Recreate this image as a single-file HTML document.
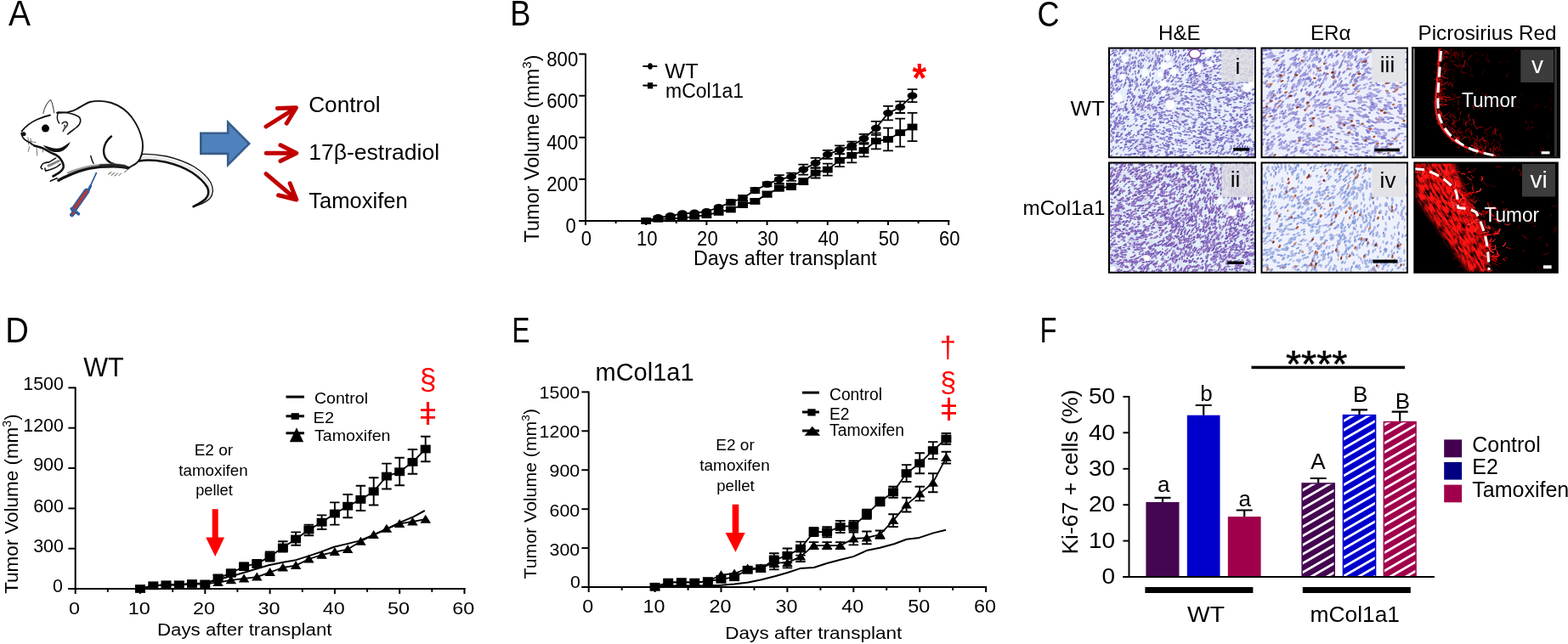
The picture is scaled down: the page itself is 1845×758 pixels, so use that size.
<!DOCTYPE html>
<html><head><meta charset="utf-8"><title>Figure</title>
<style>
html,body{margin:0;padding:0;background:#fff;}
body{width:1845px;height:758px;overflow:hidden;}
svg{display:block;}
text{font-family:'Liberation Sans', Arial, sans-serif;}
</style></head><body>
<svg width="1845" height="758" viewBox="0 0 1845 758">
<rect width="1845" height="758" fill="#fff"/>
<defs>
<filter id="fHE1" x="0" y="0" width="100%" height="100%" color-interpolation-filters="sRGB">
 <feTurbulence type="fractalNoise" baseFrequency="0.38 0.20" numOctaves="3" seed="4" result="n"/>
 <feColorMatrix in="n" type="matrix" values="0 0 0 0 0.52  0 0 0 0 0.44  0 0 0 0 0.80  0 0 -6 0 3.05" result="c"/>
 <feGaussianBlur in="c" stdDeviation="0.45"/>
</filter>
<filter id="fHE2" x="0" y="0" width="100%" height="100%" color-interpolation-filters="sRGB">
 <feTurbulence type="fractalNoise" baseFrequency="0.36 0.22" numOctaves="3" seed="11" result="n"/>
 <feColorMatrix in="n" type="matrix" values="0 0 0 0 0.47  0 0 0 0 0.36  0 0 0 0 0.76  0 0 -6 0 3.35" result="c"/>
 <feGaussianBlur in="c" stdDeviation="0.45"/>
</filter>
<filter id="fHEpink" x="0" y="0" width="100%" height="100%" color-interpolation-filters="sRGB">
 <feTurbulence type="fractalNoise" baseFrequency="0.05 0.05" numOctaves="2" seed="2" result="n"/>
 <feColorMatrix in="n" type="matrix" values="0 0 0 0 0.55  0 0 0 0 0.35  0 0 0 0 0.75  0 0 -3 0 1.5" result="c"/>
</filter>
<filter id="fER" x="0" y="0" width="100%" height="100%" color-interpolation-filters="sRGB">
 <feTurbulence type="fractalNoise" baseFrequency="0.40 0.24" numOctaves="3" seed="21" result="n"/>
 <feColorMatrix in="n" type="matrix" values="0 0 0 0 0.56  0 0 0 0 0.62  0 0 0 0 0.90  0 0 -6 0 2.85" result="c"/>
 <feGaussianBlur in="c" stdDeviation="0.45"/>
</filter>
<filter id="fER2" x="0" y="0" width="100%" height="100%" color-interpolation-filters="sRGB">
 <feTurbulence type="fractalNoise" baseFrequency="0.40 0.24" numOctaves="3" seed="33" result="n"/>
 <feColorMatrix in="n" type="matrix" values="0 0 0 0 0.58  0 0 0 0 0.64  0 0 0 0 0.91  0 0 -6 0 2.75" result="c"/>
 <feGaussianBlur in="c" stdDeviation="0.45"/>
</filter>
<filter id="fRedD" x="-2%" y="-2%" width="104%" height="104%" color-interpolation-filters="sRGB">
 <feGaussianBlur in="SourceAlpha" stdDeviation="2.5" result="b"/>
 <feTurbulence type="fractalNoise" baseFrequency="0.10 0.30" numOctaves="3" seed="5" result="n"/>
 <feColorMatrix in="n" type="matrix" values="0 0 0 0 1  0 0 0 0 0.08  0 0 0 0 0.08  2.6 0 0 0 -0.75" result="r"/>
 <feComposite in="r" in2="b" operator="in"/>
</filter>
<filter id="fRedS" x="-2%" y="-2%" width="104%" height="104%" color-interpolation-filters="sRGB">
 <feGaussianBlur in="SourceAlpha" stdDeviation="4" result="b"/>
 <feTurbulence type="fractalNoise" baseFrequency="0.12 0.35" numOctaves="3" seed="9" result="n"/>
 <feColorMatrix in="n" type="matrix" values="0 0 0 0 0.9  0 0 0 0 0  0 0 0 0 0  5 0 0 0 -2.85" result="r"/>
 <feComposite in="r" in2="b" operator="in"/>
</filter>
<filter id="fRedTex" x="0" y="0" width="100%" height="100%" color-interpolation-filters="sRGB">
 <feTurbulence type="fractalNoise" baseFrequency="0.11 0.42" numOctaves="4" seed="17" result="n"/>
 <feColorMatrix in="n" type="matrix" values="0 0 0 0 1  0 0 0 0 0.07  0 0 0 0 0.07  3.0 0 0 0 -0.72"/>
</filter>
<filter id="fBlur3" x="-10%" y="-10%" width="120%" height="120%"><feGaussianBlur stdDeviation="2.6"/></filter>
<mask id="mvi" maskUnits="userSpaceOnUse" x="1660" y="185" width="180" height="140">
 <path d="M1665,188 L1710,188 C1716,206 1724,228 1736,248 C1745,268 1750,295 1750,324 L1731,324 L1666,232 Z" fill="#fff" filter="url(#fBlur3)"/>
</mask>
<clipPath id="cpi"><rect x="1305.5" y="57.2" width="171" height="127.5"/></clipPath>
<clipPath id="cpii"><rect x="1305.5" y="192" width="171" height="128.2"/></clipPath>
<clipPath id="cpiii"><rect x="1485" y="57.2" width="170.5" height="127.5"/></clipPath>
<clipPath id="cpiv"><rect x="1485" y="192" width="170.5" height="128.2"/></clipPath>
<clipPath id="cpv"><rect x="1662.5" y="56.6" width="172" height="128.2"/></clipPath>
<clipPath id="cpvi"><rect x="1664.8" y="192" width="167.5" height="128.2"/></clipPath>

<pattern id="hatch" patternUnits="userSpaceOnUse" width="9.3" height="9.3" patternTransform="rotate(60)">
 <rect x="0" y="0" width="2.7" height="9.3" fill="#fff"/>
</pattern></defs>
<text x="10.0" y="30.2" font-size="42.8" textLength="26" lengthAdjust="spacingAndGlyphs" fill="#000">A</text>
<text x="600.2" y="30.2" font-size="42.8" textLength="24.2" lengthAdjust="spacingAndGlyphs" fill="#000">B</text>
<text x="1220.6" y="30.6" font-size="42.8" textLength="26" lengthAdjust="spacingAndGlyphs" fill="#000">C</text>
<text x="6.3" y="403.2" font-size="42.8" textLength="27.6" lengthAdjust="spacingAndGlyphs" fill="#000">D</text>
<text x="602.6" y="403.2" font-size="42.8" textLength="21" lengthAdjust="spacingAndGlyphs" fill="#000">E</text>
<text x="1223.6" y="403.2" font-size="42.8" textLength="20" lengthAdjust="spacingAndGlyphs" fill="#000">F</text>
<g fill="none" stroke="#111" stroke-linecap="round" stroke-linejoin="round">
<path d="M25.5,154.5 C30,149 37,143.5 44,140.5 C49,138.3 54,136.5 59,135.5" stroke-width="1.8"/>
<path d="M50.8,133.5 C52,128 55,121 59.5,117.3 C61.5,119 62.5,125 63.8,133" stroke-width="1.1" stroke="#444"/>
<path d="M68.5,132 C75,132 85,133 92,137 C96.5,140 95,146 90.5,149.5 C87,152.5 83,155 79.5,158" stroke-width="1.6"/>
<path d="M68.7,132 C66.8,136 67,141 69.6,145" stroke-width="1.4"/>
<path d="M73,145.5 C75,142.5 79.5,142.5 79.5,146.5 C78.5,150 75.5,150.5 74.2,154.5" stroke-width="1.6" stroke="#333"/>
<path d="M76,147.5 C77,149 76.5,151 75.5,152" stroke-width="2" stroke="#555"/>
<path d="M67,132.8 C72,133 80,132.5 86,130.3 C92,128 99,122.5 106,120 C113,118.3 122,118.5 131,121 C140,124 149,130 155,138 C161,146 165.5,156 167.6,166 C168.6,174 167.5,181 165,186.5 C162.5,191 159,193.5 156,194.8 C154,195.8 152,197 150.5,198.5" stroke-width="1.9"/>
<path d="M166.5,181.5 C175,181 186,182 196,184 C207,186.5 218,190.5 228,196 C237,201.5 244,208 248,215 C251.5,222 250.8,229 246.8,233.8 C242,238.5 235,241.2 227.5,243.2" stroke-width="1.3"/>
<path d="M164,189.5 C172,187.8 184,188.5 195,190.8 C206,193.3 217,197.5 226,203 C234,208.5 240.5,214.5 244,220.5 C246.5,226 245,231 241.5,234.5 C237.5,238.3 232,240.8 227.5,243.2" stroke-width="2.6"/>
<path d="M167,185.5 C176,184.5 186,185.3 195.5,187.4 C206.5,189.9 217.5,194 227,199.5 C235.5,205 242.2,211.2 246,217.8 C249,224 248,230 244.2,234.2" stroke-width="2.6" stroke="#aaa" opacity="0.25"/>
<path d="M131,160.5 C126,164.5 122.5,170.5 122,177 C121.8,183.5 125,188.5 130,191.5 C135,194 141,195.5 146.5,196" stroke-width="2.4"/>
<path d="M68.8,212.2 C72,210.5 76,208.5 80,206.8 C88,203 96,200 104,198.3 C114,196.3 124,195.8 134,195.8 C140,195.8 146,196.5 151,197.5" stroke-width="3.4"/>
<path d="M80,203.5 C92,198.5 104,195.3 118,194 C128,193.2 138,193.5 146,194.5" stroke-width="2.5" stroke="#777" opacity="0.7"/>
<path d="M118,195.2 C128,194.2 138,194.4 148,196" stroke-width="3.2" stroke="#222"/>
<path d="M59.3,213.2 C62,212 64.5,210.8 67.2,209.8" stroke-width="1.6"/>
<path d="M106.7,183.5 C107.5,186.5 108.2,189 110,192.4" stroke-width="1.4"/>
<path d="M40.3,171.5 C44,172.3 47,173.2 49.8,174.2 C53,175.8 56,177.5 58.5,179 C61,180.5 63.5,181.2 65.6,182.2 C68,183.8 70,185 71.1,186.9 C72.8,189.2 74,191 74.3,193.2 C74.8,195 74.8,197 74.3,198 C73.5,199.8 72.5,201 71.1,201.9 C69.5,203.3 68,204.2 66.4,205.1 C65,206 63.7,206.8 62.4,207.5" stroke-width="2.6"/>
<path d="M48.2,196.4 C49,194.2 50,193 51,192.4 C53.5,191.2 56,191 57.7,190.9 C60.5,189.5 63,187.8 65.6,186.1" stroke-width="1.6"/>
<path d="M48.2,196.4 C48.3,198 49,199 50,198.8" stroke-width="1.5"/>
<path d="M52.9,198 C53,199.5 53.2,200.5 53.7,201.1 C56.5,200.5 59,199.8 61.6,198.8 C64,197.8 66,196.8 68,195.6 C69.2,194.8 70.2,194 71.1,193.2" stroke-width="1.6"/>
<path d="M57,195 C61,193.5 65,191.5 69,189.5" stroke-width="3" stroke="#666" opacity="0.8"/>
<path d="M127.5,205 L131,202.5 M131,206.5 L134.5,203.5 M135,207 L138.5,204 M140,206.5 L142.5,204" stroke-width="0.9" stroke="#333"/>
<path d="M146.5,203 C148,201.5 149.5,200 150.5,198.5" stroke-width="1" stroke="#444"/>
<path d="M34.7,172.5 L33.2,178.5 M43,173 L43.8,183 M50.2,175.4 L50.6,179 M30,165.5 L42,167.5 M33,162 L33.5,170 M36,163 L37,171" stroke-width="0.9" stroke="#666"/>
<path d="M25.2,156.8 C25.6,160 27,162.5 29,164.2 C31,166 33.5,167.3 36,168.5 C37.5,169.5 39,170.5 40.3,171.5" stroke-width="1.6"/>
</g>
<path d="M50.6,171.1 C56,172.2 61,174.5 65.6,174.8 C70,175 74,173.5 77,171 C79.5,169.2 81.5,168 83,166.7 C81.5,170.5 78.5,174.5 74.3,177.2 C70,179.5 65,179.5 60.8,178.2 C57,177 53.5,174 50.6,171.1 Z" fill="#111"/>
<circle cx="53.5" cy="151.1" r="4.5" fill="#000"/>
<ellipse cx="27.6" cy="157.8" rx="2.9" ry="2.5" fill="#111"/>
<g stroke-linecap="round" stroke-linejoin="round">
<line x1="113.3" y1="203.6" x2="105.8" y2="220" stroke="#2f5f9f" stroke-width="1.8"/>
<path d="M106.6,218.8 L103.8,224.6" stroke="#2f5f9f" stroke-width="3.2"/>
<path d="M101.8,225.3 L86.9,246.6" stroke="#2f5f9f" stroke-width="7"/>
<path d="M101.8,225.3 L86.9,246.6" stroke="#b03a3a" stroke-width="3.6"/>
<path d="M84.2,245.6 L92.4,251.8" stroke="#2f5f9f" stroke-width="3.6"/>
<path d="M87.6,249.2 L84.6,252.8" stroke="#2f5f9f" stroke-width="5"/>
<path d="M87.4,249.4 L85,252.3" stroke="#b03a3a" stroke-width="2"/>
</g>
<polygon points="236.3,156.7 268.2,156.7 268.2,143.8 293.2,169.1 268.2,194.1 268.2,180.9 236.3,180.9" fill="#4f81bd" stroke="#385d8a" stroke-width="2.6" stroke-linejoin="miter"/>
<g fill="none" stroke="#c00000" stroke-width="5" stroke-linecap="round" stroke-linejoin="round">
<path d="M313,149 L348,127.2 M326.5,127.6 L348.5,126.8 L337.2,145.2"/>
<path d="M313.3,180.2 L348.4,180.2 M330,170.8 L348.8,180.2 L330,189.6"/>
<path d="M313,204.6 L348.2,234.4 M341.2,215.8 L348.8,235 L327.6,229.8"/>
</g>
<text x="363.2" y="132.2" font-size="25.8" textLength="84.5" lengthAdjust="spacingAndGlyphs" fill="#000">Control</text>
<text x="363.2" y="187.7" font-size="25.8" textLength="154.0" lengthAdjust="spacingAndGlyphs" fill="#000">17β-estradiol</text>
<text x="363.2" y="244.6" font-size="25.8" textLength="116.5" lengthAdjust="spacingAndGlyphs" fill="#000">Tamoxifen</text>
<line x1="689.0" y1="63.0" x2="689.0" y2="261.0" stroke="#000" stroke-width="2.0"/>
<line x1="681.3" y1="260.0" x2="1117.2" y2="260.0" stroke="#000" stroke-width="2.0"/>
<line x1="681.3" y1="260.0" x2="689.0" y2="260.0" stroke="#000" stroke-width="2.0"/>
<text x="677.7" y="274.4" font-size="23" text-anchor="end" textLength="12.3" lengthAdjust="spacingAndGlyphs" fill="#000">0</text>
<line x1="681.3" y1="210.9" x2="689.0" y2="210.9" stroke="#000" stroke-width="2.0"/>
<text x="680.2" y="225.3" font-size="23" text-anchor="end" textLength="36.900000000000006" lengthAdjust="spacingAndGlyphs" fill="#000">200</text>
<line x1="681.3" y1="161.8" x2="689.0" y2="161.8" stroke="#000" stroke-width="2.0"/>
<text x="680.2" y="176.2" font-size="23" text-anchor="end" textLength="36.900000000000006" lengthAdjust="spacingAndGlyphs" fill="#000">400</text>
<line x1="681.3" y1="112.7" x2="689.0" y2="112.7" stroke="#000" stroke-width="2.0"/>
<text x="680.2" y="127.1" font-size="23" text-anchor="end" textLength="36.900000000000006" lengthAdjust="spacingAndGlyphs" fill="#000">600</text>
<line x1="681.3" y1="63.6" x2="689.0" y2="63.6" stroke="#000" stroke-width="2.0"/>
<text x="680.2" y="78.0" font-size="23" text-anchor="end" textLength="36.900000000000006" lengthAdjust="spacingAndGlyphs" fill="#000">800</text>
<line x1="689.0" y1="259.0" x2="689.0" y2="265.0" stroke="#000" stroke-width="2.0"/>
<line x1="724.6" y1="259.0" x2="724.6" y2="263.0" stroke="#000" stroke-width="2.0"/>
<line x1="760.2" y1="259.0" x2="760.2" y2="265.0" stroke="#000" stroke-width="2.0"/>
<line x1="795.8" y1="259.0" x2="795.8" y2="263.0" stroke="#000" stroke-width="2.0"/>
<line x1="831.4" y1="259.0" x2="831.4" y2="265.0" stroke="#000" stroke-width="2.0"/>
<line x1="867.0" y1="259.0" x2="867.0" y2="263.0" stroke="#000" stroke-width="2.0"/>
<line x1="902.6" y1="259.0" x2="902.6" y2="265.0" stroke="#000" stroke-width="2.0"/>
<line x1="938.2" y1="259.0" x2="938.2" y2="263.0" stroke="#000" stroke-width="2.0"/>
<line x1="973.8" y1="259.0" x2="973.8" y2="265.0" stroke="#000" stroke-width="2.0"/>
<line x1="1009.4" y1="259.0" x2="1009.4" y2="263.0" stroke="#000" stroke-width="2.0"/>
<line x1="1045.0" y1="259.0" x2="1045.0" y2="265.0" stroke="#000" stroke-width="2.0"/>
<line x1="1080.6" y1="259.0" x2="1080.6" y2="263.0" stroke="#000" stroke-width="2.0"/>
<line x1="1116.2" y1="259.0" x2="1116.2" y2="265.0" stroke="#000" stroke-width="2.0"/>
<text x="690.0" y="289.2" font-size="23" text-anchor="middle" textLength="12.3" lengthAdjust="spacingAndGlyphs" fill="#000">0</text>
<text x="761.2" y="289.2" font-size="23" text-anchor="middle" textLength="24.6" lengthAdjust="spacingAndGlyphs" fill="#000">10</text>
<text x="832.4" y="289.2" font-size="23" text-anchor="middle" textLength="24.6" lengthAdjust="spacingAndGlyphs" fill="#000">20</text>
<text x="903.6" y="289.2" font-size="23" text-anchor="middle" textLength="24.6" lengthAdjust="spacingAndGlyphs" fill="#000">30</text>
<text x="974.8" y="289.2" font-size="23" text-anchor="middle" textLength="24.6" lengthAdjust="spacingAndGlyphs" fill="#000">40</text>
<text x="1046.0" y="289.2" font-size="23" text-anchor="middle" textLength="24.6" lengthAdjust="spacingAndGlyphs" fill="#000">50</text>
<text x="1117.2" y="289.2" font-size="23" text-anchor="middle" textLength="24.6" lengthAdjust="spacingAndGlyphs" fill="#000">60</text>
<text x="816.0" y="311.5" font-size="23" textLength="215.5" lengthAdjust="spacingAndGlyphs" fill="#000">Days after transplant</text>
<text transform="translate(633.8,285.5) rotate(-90)" font-size="23.4" textLength="221" lengthAdjust="spacingAndGlyphs">Tumor Volume (mm<tspan font-size="15" dy="-8.5">3</tspan><tspan dy="8.5">)</tspan></text>
<polyline points="760.2,260.0 774.4,257.8 788.7,257.3 802.9,256.6 817.2,254.8 831.4,253.1 845.6,249.9 859.9,246.5 874.1,241.1 888.4,236.9 902.6,228.6 916.8,221.5 931.1,219.5 945.3,213.6 959.6,203.5 973.8,199.6 988.0,188.8 1002.3,182.9 1016.5,177.0 1030.8,166.0 1045.0,164.0 1059.2,156.2 1073.5,149.5" fill="none" stroke="#000" stroke-width="1.8" stroke-linejoin="round"/>
<path d="M874.1,238.6 V243.6 M868.2,238.6 H880.0 M868.2,243.6 H880.0" stroke="#000" stroke-width="1.8" fill="none"/>
<path d="M888.4,234.4 V239.4 M882.5,234.4 H894.3 M882.5,239.4 H894.3" stroke="#000" stroke-width="1.8" fill="none"/>
<path d="M902.6,225.6 V231.6 M896.7,225.6 H908.5 M896.7,231.6 H908.5" stroke="#000" stroke-width="1.8" fill="none"/>
<path d="M916.8,218.5 V224.5 M910.9,218.5 H922.7 M910.9,224.5 H922.7" stroke="#000" stroke-width="1.8" fill="none"/>
<path d="M931.1,216.0 V223.0 M925.2,216.0 H937.0 M925.2,223.0 H937.0" stroke="#000" stroke-width="1.8" fill="none"/>
<path d="M945.3,210.1 V217.1 M939.4,210.1 H951.2 M939.4,217.1 H951.2" stroke="#000" stroke-width="1.8" fill="none"/>
<path d="M959.6,197.5 V209.5 M953.7,197.5 H965.5 M953.7,209.5 H965.5" stroke="#000" stroke-width="1.8" fill="none"/>
<path d="M973.8,192.6 V206.6 M967.9,192.6 H979.7 M967.9,206.6 H979.7" stroke="#000" stroke-width="1.8" fill="none"/>
<path d="M988.0,181.4 V196.2 M982.1,181.4 H993.9 M982.1,196.2 H993.9" stroke="#000" stroke-width="1.8" fill="none"/>
<path d="M1002.3,174.5 V191.3 M996.4,174.5 H1008.2 M996.4,191.3 H1008.2" stroke="#000" stroke-width="1.8" fill="none"/>
<path d="M1016.5,169.6 V184.4 M1010.6,169.6 H1022.4 M1010.6,184.4 H1022.4" stroke="#000" stroke-width="1.8" fill="none"/>
<path d="M1030.8,156.6 V175.4 M1024.9,156.6 H1036.7 M1024.9,175.4 H1036.7" stroke="#000" stroke-width="1.8" fill="none"/>
<path d="M1045.0,150.7 V177.3 M1039.1,150.7 H1050.9 M1039.1,177.3 H1050.9" stroke="#000" stroke-width="1.8" fill="none"/>
<path d="M1059.2,139.7 V172.7 M1053.3,139.7 H1065.1 M1053.3,172.7 H1065.1" stroke="#000" stroke-width="1.8" fill="none"/>
<path d="M1073.5,132.9 V166.1 M1067.6,132.9 H1079.4 M1067.6,166.1 H1079.4" stroke="#000" stroke-width="1.8" fill="none"/>
<rect x="754.3" y="256.1" width="11.8" height="7.8" fill="#000"/>
<rect x="768.5" y="253.9" width="11.8" height="7.8" fill="#000"/>
<rect x="782.8" y="253.4" width="11.8" height="7.8" fill="#000"/>
<rect x="797.0" y="252.7" width="11.8" height="7.8" fill="#000"/>
<rect x="811.3" y="250.9" width="11.8" height="7.8" fill="#000"/>
<rect x="825.5" y="249.2" width="11.8" height="7.8" fill="#000"/>
<rect x="839.7" y="246.0" width="11.8" height="7.8" fill="#000"/>
<rect x="854.0" y="242.6" width="11.8" height="7.8" fill="#000"/>
<rect x="868.2" y="237.2" width="11.8" height="7.8" fill="#000"/>
<rect x="882.5" y="233.0" width="11.8" height="7.8" fill="#000"/>
<rect x="896.7" y="224.7" width="11.8" height="7.8" fill="#000"/>
<rect x="910.9" y="217.6" width="11.8" height="7.8" fill="#000"/>
<rect x="925.2" y="215.6" width="11.8" height="7.8" fill="#000"/>
<rect x="939.4" y="209.7" width="11.8" height="7.8" fill="#000"/>
<rect x="953.7" y="199.6" width="11.8" height="7.8" fill="#000"/>
<rect x="967.9" y="195.7" width="11.8" height="7.8" fill="#000"/>
<rect x="982.1" y="184.9" width="11.8" height="7.8" fill="#000"/>
<rect x="996.4" y="179.0" width="11.8" height="7.8" fill="#000"/>
<rect x="1010.6" y="173.1" width="11.8" height="7.8" fill="#000"/>
<rect x="1024.9" y="162.1" width="11.8" height="7.8" fill="#000"/>
<rect x="1039.1" y="160.1" width="11.8" height="7.8" fill="#000"/>
<rect x="1053.3" y="152.3" width="11.8" height="7.8" fill="#000"/>
<rect x="1067.6" y="145.6" width="11.8" height="7.8" fill="#000"/>
<polyline points="760.2,260.0 774.4,256.1 788.7,254.1 802.9,251.4 817.2,250.7 831.4,249.0 845.6,244.0 859.9,238.2 874.1,233.0 888.4,224.2 902.6,216.8 916.8,211.1 931.1,208.2 945.3,199.6 959.6,191.8 973.8,181.9 988.0,176.3 1002.3,171.4 1016.5,163.0 1030.8,150.8 1045.0,133.1 1059.2,126.2 1073.5,112.7" fill="none" stroke="#000" stroke-width="1.8" stroke-linejoin="round"/>
<path d="M859.9,235.2 V241.2 M854.0,235.2 H865.8 M854.0,241.2 H865.8" stroke="#000" stroke-width="1.8" fill="none"/>
<path d="M874.1,230.0 V236.0 M868.2,230.0 H880.0 M868.2,236.0 H880.0" stroke="#000" stroke-width="1.8" fill="none"/>
<path d="M888.4,221.2 V227.2 M882.5,221.2 H894.3 M882.5,227.2 H894.3" stroke="#000" stroke-width="1.8" fill="none"/>
<path d="M902.6,214.3 V219.3 M896.7,214.3 H908.5 M896.7,219.3 H908.5" stroke="#000" stroke-width="1.8" fill="none"/>
<path d="M916.8,206.2 V216.0 M910.9,206.2 H922.7 M910.9,216.0 H922.7" stroke="#000" stroke-width="1.8" fill="none"/>
<path d="M931.1,203.6 V212.8 M925.2,203.6 H937.0 M925.2,212.8 H937.0" stroke="#000" stroke-width="1.8" fill="none"/>
<path d="M945.3,193.6 V205.6 M939.4,193.6 H951.2 M939.4,205.6 H951.2" stroke="#000" stroke-width="1.8" fill="none"/>
<path d="M959.6,185.9 V197.7 M953.7,185.9 H965.5 M953.7,197.7 H965.5" stroke="#000" stroke-width="1.8" fill="none"/>
<path d="M973.8,176.9 V186.9 M967.9,176.9 H979.7 M967.9,186.9 H979.7" stroke="#000" stroke-width="1.8" fill="none"/>
<path d="M988.0,171.4 V181.2 M982.1,171.4 H993.9 M982.1,181.2 H993.9" stroke="#000" stroke-width="1.8" fill="none"/>
<path d="M1002.3,166.6 V176.2 M996.4,166.6 H1008.2 M996.4,176.2 H1008.2" stroke="#000" stroke-width="1.8" fill="none"/>
<path d="M1016.5,157.8 V168.2 M1010.6,157.8 H1022.4 M1010.6,168.2 H1022.4" stroke="#000" stroke-width="1.8" fill="none"/>
<path d="M1030.8,142.8 V158.8 M1024.9,142.8 H1036.7 M1024.9,158.8 H1036.7" stroke="#000" stroke-width="1.8" fill="none"/>
<path d="M1045.0,124.9 V141.3 M1039.1,124.9 H1050.9 M1039.1,141.3 H1050.9" stroke="#000" stroke-width="1.8" fill="none"/>
<path d="M1059.2,119.4 V133.0 M1053.3,119.4 H1065.1 M1053.3,133.0 H1065.1" stroke="#000" stroke-width="1.8" fill="none"/>
<path d="M1073.5,105.2 V120.2 M1067.6,105.2 H1079.4 M1067.6,120.2 H1079.4" stroke="#000" stroke-width="1.8" fill="none"/>
<ellipse cx="760.2" cy="260.0" rx="5.9" ry="4.1" fill="#000"/>
<ellipse cx="774.4" cy="256.1" rx="5.9" ry="4.1" fill="#000"/>
<ellipse cx="788.7" cy="254.1" rx="5.9" ry="4.1" fill="#000"/>
<ellipse cx="802.9" cy="251.4" rx="5.9" ry="4.1" fill="#000"/>
<ellipse cx="817.2" cy="250.7" rx="5.9" ry="4.1" fill="#000"/>
<ellipse cx="831.4" cy="249.0" rx="5.9" ry="4.1" fill="#000"/>
<ellipse cx="845.6" cy="244.0" rx="5.9" ry="4.1" fill="#000"/>
<ellipse cx="859.9" cy="238.2" rx="5.9" ry="4.1" fill="#000"/>
<ellipse cx="874.1" cy="233.0" rx="5.9" ry="4.1" fill="#000"/>
<ellipse cx="888.4" cy="224.2" rx="5.9" ry="4.1" fill="#000"/>
<ellipse cx="902.6" cy="216.8" rx="5.9" ry="4.1" fill="#000"/>
<ellipse cx="916.8" cy="211.1" rx="5.9" ry="4.1" fill="#000"/>
<ellipse cx="931.1" cy="208.2" rx="5.9" ry="4.1" fill="#000"/>
<ellipse cx="945.3" cy="199.6" rx="5.9" ry="4.1" fill="#000"/>
<ellipse cx="959.6" cy="191.8" rx="5.9" ry="4.1" fill="#000"/>
<ellipse cx="973.8" cy="181.9" rx="5.9" ry="4.1" fill="#000"/>
<ellipse cx="988.0" cy="176.3" rx="5.9" ry="4.1" fill="#000"/>
<ellipse cx="1002.3" cy="171.4" rx="5.9" ry="4.1" fill="#000"/>
<ellipse cx="1016.5" cy="163.0" rx="5.9" ry="4.1" fill="#000"/>
<ellipse cx="1030.8" cy="150.8" rx="5.9" ry="4.1" fill="#000"/>
<ellipse cx="1045.0" cy="133.1" rx="5.9" ry="4.1" fill="#000"/>
<ellipse cx="1059.2" cy="126.2" rx="5.9" ry="4.1" fill="#000"/>
<ellipse cx="1073.5" cy="112.7" rx="5.9" ry="4.1" fill="#000"/>
<line x1="756.4" y1="78.0" x2="773.2" y2="78.0" stroke="#000" stroke-width="2"/>
<ellipse cx="765" cy="78" rx="2.9" ry="3.7" fill="#000"/>
<line x1="756.4" y1="100.6" x2="773.2" y2="100.6" stroke="#000" stroke-width="2"/>
<rect x="762.0" y="97.2" width="6.2" height="7.2" fill="#000"/>
<text x="782.2" y="92.3" font-size="23.5" textLength="39.5" lengthAdjust="spacingAndGlyphs" fill="#000">WT</text>
<text x="783.0" y="115.4" font-size="23.5" textLength="92.0" lengthAdjust="spacingAndGlyphs" fill="#000">mCol1a1</text>
<text x="1081.8" y="107.8" font-size="48" text-anchor="middle" textLength="16.6" lengthAdjust="spacingAndGlyphs" font-weight="bold" fill="#ff0000">*</text>
<text x="1363.0" y="47.2" font-size="24.5" textLength="49.5" lengthAdjust="spacingAndGlyphs" fill="#000">H&amp;E</text>
<text x="1542.0" y="47.2" font-size="24.5" textLength="47.5" lengthAdjust="spacingAndGlyphs" fill="#000">ERα</text>
<text x="1668.5" y="47.2" font-size="24.5" textLength="163" lengthAdjust="spacingAndGlyphs" fill="#000">Picrosirius Red</text>
<text x="1259.5" y="135.6" font-size="24" textLength="40.5" lengthAdjust="spacingAndGlyphs" fill="#000">WT</text>
<text x="1203.5" y="252.6" font-size="24" textLength="97" lengthAdjust="spacingAndGlyphs" fill="#000">mCol1a1</text>
<g clip-path="url(#cpi)">
<rect x="1305.5" y="57.2" width="171.0" height="127.5" fill="#e6f0fa"/>
<rect x="1305.5" y="57.2" width="171" height="127.5" fill="#fff" filter="url(#fHEpink)" opacity="0.15"/>
<g transform="translate(1305.5,57.2) scale(0.5)" fill="none" stroke-linecap="round" opacity="1.0">
<path d="M115,18l0,-2M165,205l3,1M60,3l2,-4M85,236l2,-1M144,208l2,1M292,45l2,0M288,195l3,-2M286,213l5,1M182,49l2,-1M128,155l3,0M17,182l2,-2M116,9l0,-2M54,225l4,-1M49,97l1,-3M317,150l2,-1M322,63l3,-1M254,176l2,0M285,172l3,-1M338,110l2,-1M80,106l2,-2M304,76l3,-1M325,5l1,0M187,228l3,-1M134,190l4,1M23,174l3,-3M145,242l4,2M291,4l1,-1M88,3l2,-4M10,72l2,-2M313,36l2,0M286,116l3,-1M128,96l1,-1M331,122l2,-2M307,234l1,-2M290,26l3,-1M189,66l3,-2M237,192l3,1M125,4l1,-2M138,78l2,-4M226,73l2,-1M44,198l3,-2" stroke="#6a5cbc" stroke-width="2.4"/>
<path d="M333,247l1,-1M193,223l3,0M53,110l2,-3M328,238l2,-2M330,107l2,-2M227,67l2,0M169,144l4,0M117,47l2,-2M9,132l1,-2M173,129l3,0M26,222l4,-1M211,6l3,-2M229,106l1,0M2,180l2,-2M103,94l3,-2M255,254l2,-2M133,193l2,0M262,242l2,-1M8,95l0,-2M78,178l3,-2M79,30l1,-3M190,51l3,-3M52,143l4,-3M224,215l4,0M234,146l4,0M169,172l1,0M275,99l3,-1M211,235l2,0M226,234l3,0M5,241l2,-2M98,230l3,0M337,182l4,0M228,165l2,1M317,62l4,-3M78,162l3,1M233,230l3,-1M26,78l2,-2M54,23l0,-2M172,250l2,-1M67,31l1,-1M190,12l2,-3M160,98l2,-1M95,180l1,-2M273,114l2,0M272,182l2,0M303,45l4,-2M90,93l2,-3M333,163l4,-2M304,56l3,-1M280,55l3,-2M312,108l4,-1M185,14l2,-4M247,138l4,0M99,191l2,1M272,97l4,-1M252,242l2,-2M113,133l3,-1" stroke="#6a5cbc" stroke-width="2.6"/>
<path d="M163,142l3,0M20,198l2,-1M169,214l4,1M43,72l3,-3M4,139l2,-3M104,138l3,-2M47,51l2,-3M302,217l2,-2M320,172l3,-2M79,105l2,-4M254,70l3,0M183,16l1,-1M234,103l4,0M104,178l2,-1M259,71l4,0M319,183l3,-2M17,199l1,-1M287,45l3,-1M324,35l4,-2M79,253l4,0M311,19l2,-1M85,85l2,-2M221,210l2,0M59,31l1,-2M62,69l0,-3M303,8l3,-1M25,6l1,-2M312,156l2,-2M271,72l4,-1M83,209l4,-1M41,232l1,-1M269,167l1,0M317,233l3,-3M259,214l2,0M116,130l3,0M265,210l4,-2M6,189l1,-1M153,255l3,-1M139,213l3,1M285,230l2,-1M330,50l3,-2M67,5l2,-4M138,110l3,-2M132,223l2,1M22,216l2,-2M245,228l4,-2M294,185l1,0M276,28l4,-1M240,164l4,1M8,208l1,-1" stroke="#6a5cbc" stroke-width="2.8"/>
<path d="M87,209l5,-1M256,125l3,0M332,1l5,-1M137,236l2,0M214,247l4,-1M312,232l2,-2M315,48l2,-1M189,2l2,-2M233,152l4,1M296,120l4,-1M278,247l2,-2M144,65l1,-2M220,79l3,-1M170,102l4,-1M73,182l4,-1M75,202l2,0M301,195l1,-1M176,203l5,0M234,132l4,2M120,116l4,-2M199,173l3,1M217,131l5,0M295,51l3,-1M51,217l3,-3M5,132l2,-2M51,36l2,-4M339,226l2,-3M327,22l1,-1M186,46l1,-1M82,177l2,0M62,181l4,-1M210,185l2,0M162,7l1,-3M74,16l0,-3M230,71l2,-1M-1,66l2,-4M14,234l2,-2M77,139l1,-1M193,113l4,-2M269,177l3,-1M7,153l2,-2M222,192l4,1M50,130l3,-2M68,196l4,-2M255,57l2,0M232,234l4,-2M50,230l4,-2M319,146l2,-1M303,35l3,-2M96,183l4,-1M323,180l3,-1M179,89l3,-2M200,8l1,-1M51,77l0,-2M282,244l2,-2M78,27l0,-1M142,8l1,-3M250,74l4,0M327,217l2,-2M276,80l2,0M183,29l1,-2M299,158l3,-1M175,89l1,-1M319,155l3,-1M208,130l1,1M326,247l1,-1M266,17l2,-1M65,216l2,-1M117,139l3,-1M262,28l2,-1M76,213l1,0M22,156l3,-2" stroke="#6a5cbc" stroke-width="3.0"/>
<path d="M15,87l1,-2M27,47l1,-4M120,158l4,-1M339,45l3,-3M82,243l2,0M32,177l3,-3M219,125l4,1M64,76l2,-4M51,193l1,0M318,67l3,-2M1,203l1,-2M196,87l4,-1M141,202l4,2M182,146l4,1M197,185l3,0M7,12l3,-3M256,42l2,-2M320,37l4,-1M297,191l2,-1M231,190l2,1M82,120l1,-1M303,230l3,-3M131,70l2,-2M209,192l2,1M167,139l3,0M62,91l1,-1M118,36l1,-4M244,43l4,-2M49,105l2,-2M324,70l1,-1M221,218l2,1M184,42l2,-3M105,155l5,-1M340,226l2,-3M27,203l2,-2M286,63l2,-1M200,167l3,1M18,207l3,-1M225,136l2,0M199,3l2,-2M247,48l1,-1M134,175l2,0M48,81l1,-2M303,91l2,-1M265,167l4,2M43,183l1,-1M143,243l4,1M202,196l1,0M229,174l5,0M104,215l3,0M78,203l3,-1M166,222l1,0M226,197l2,0M15,208l2,-3M317,6l4,-1M124,75l1,-2M10,39l2,-2M74,219l5,-1M78,246l4,-1" stroke="#6a5cbc" stroke-width="3.2"/>
<path d="M204,234l3,-1M145,78l3,-2M226,140l2,1M307,206l2,-2M221,29l3,-3M154,95l4,-2M207,26l2,-1M229,100l4,1M221,84l2,0M295,140l2,-1M206,78l2,-1M281,132l5,0M36,233l1,-1M10,133l3,-3M210,140l1,0M58,249l3,-2M139,232l1,0M300,238l2,-3M145,247l3,0M312,114l5,0M158,63l1,-2M48,221l2,-1M338,249l1,-1M275,118l4,0M209,218l4,-1M87,209l2,0M0,70l3,-3M313,60l2,-1M165,238l4,0M226,188l2,1M210,230l2,0M232,108l4,-1M299,234l2,-2M211,28l3,-1M12,174l1,-2M174,17l3,-2M166,200l3,1M266,88l3,-1M287,220l3,-2M262,216l3,-2M178,119l3,-1M129,60l2,-3M210,201l4,-1M113,24l1,-2M4,104l2,-3M220,35l3,-2M324,240l2,-2M216,5l2,-3M142,209l2,1M95,194l3,0M243,90l2,0M257,158l2,0M100,232l3,-1M259,192l4,0M73,191l3,-1M306,175l3,-2M247,144l4,1M150,11l1,-4M188,104l3,0M229,0l2,0M248,163l3,-1M114,229l1,0M35,85l2,-2M15,164l3,-2M76,44l0,-2M162,199l4,0M94,43l3,-4" stroke="#6a5cbc" stroke-width="3.4"/>
<path d="M222,97l4,-1M95,191l3,0M299,249l2,-2M93,46l0,-2M275,33l2,-1M66,241l1,0M298,19l2,-1M16,57l1,-3M213,30l4,-1M38,204l4,-2M290,78l1,0M235,248l3,-1M307,126l4,0M309,225l1,-1M267,200l2,-1M136,228l1,0M307,161l3,-1M74,37l1,-2M324,232l1,-1M199,59l4,-3M84,176l2,-1M207,19l2,-2M249,143l2,0M280,121l4,0M123,123l3,-1M98,240l2,0M331,55l4,-1M274,9l2,-1M292,121l2,-1M59,234l2,-1M38,132l2,-2M33,166l2,-4M17,39l1,-1M328,143l3,0M265,239l3,-3M198,206l3,0M61,221l3,-3M40,59l0,-1M197,219l3,0M155,8l1,-2M320,156l4,-2M309,61l3,-2M159,255l5,0M231,216l2,0M253,117l2,0M88,221l3,0M217,131l2,1M46,75l1,-2M253,185l2,0M301,239l2,-1M308,177l2,0M161,217l5,0M125,174l2,0M169,219l2,0M87,81l2,-3M267,115l3,0M39,47l1,-4" stroke="#6a5cbc" stroke-width="3.6"/>
<path d="M322,110l2,-1M191,27l3,-3M270,35l4,1M84,122l1,-1M321,174l3,-1M323,77l2,-1M153,170l1,0M260,105l4,-1M303,43l4,-1M258,150l1,0M203,37l3,-3M252,210l4,-2M208,98l5,0M279,44l3,0M149,5l1,-4M214,196l3,0M138,228l3,-1M233,163l5,-1M278,109l2,0M248,64l3,0M309,62l2,0M254,214l2,-1M93,160l1,0M291,243l3,-3M273,6l4,-1M103,168l4,0M227,62l3,-1M308,117l2,0M111,106l4,-2M141,48l4,-2" stroke="#6a5cbc" stroke-width="3.8"/>
<path d="M45,241l3,-1M131,242l4,0M74,185l2,-1M274,205l4,-1M102,182l4,0M59,160l3,-2M80,205l1,-1M257,189l4,-1M74,252l3,-2M329,235l2,-3M310,163l3,-2M335,49l3,-1M82,10l0,-1M203,233l3,0M186,57l2,-2M61,43l1,-4M18,40l1,-1M18,177l3,-3M215,53l4,-1M180,119l2,0M297,97l3,0M264,210l4,-2M236,55l5,-1M190,70l2,-1M309,18l3,-1M156,158l1,0M339,62l4,-1M333,243l2,-4M23,147l1,-1M280,60l4,0M336,12l4,0M175,148l2,0M60,235l3,0M305,199l2,-1M205,93l4,-3M290,187l2,-1M184,3l2,-3M328,20l4,-2M169,19l0,-4" stroke="#7466c4" stroke-width="2.4"/>
<path d="M101,60l1,-1M184,76l3,-2M101,26l1,-3M44,62l1,-2M230,79l2,-1M54,79l1,-3M268,51l3,-2M133,207l4,0M179,103l4,0M172,174l1,1M75,27l1,-2M97,119l2,-2M153,124l4,0M238,75l1,0M113,182l3,-1M267,250l2,-1M11,186l3,-1M207,124l4,-1M139,195l3,1M115,133l2,0M96,65l0,-3M299,106l2,0M229,55l4,-1M273,84l4,-1M333,120l4,-2M90,156l2,-1M192,70l3,-1M25,31l2,-4M143,16l1,-2M10,107l1,-2M12,178l1,-1M309,225l2,-3M327,106l3,0M129,127l2,-2M6,6l3,-3M7,211l2,-1M271,221l3,-3M279,212l2,-1M159,198l1,1M98,235l2,0M217,193l1,0M184,116l3,1M268,126l2,0M99,243l1,0M154,15l3,-4M143,243l4,0M247,1l2,-1M222,42l1,0M42,181l2,0M316,105l4,-2M210,133l3,0M193,120l1,0M210,132l2,0M233,176l3,1" stroke="#7466c4" stroke-width="2.6"/>
<path d="M81,112l2,-2M119,234l4,-1M92,89l3,-2M244,33l2,-1M170,252l3,0M281,62l3,-1M295,187l3,-1M127,227l4,0M177,112l2,-1M306,5l4,0M225,155l2,0M89,117l4,-2M106,37l2,-2M305,3l3,-2M18,79l3,-3M79,249l3,-1M341,52l1,-1M123,4l4,-2M313,229l1,-2M171,25l1,-3M270,189l2,-1M264,228l4,0M104,213l2,-1M209,163l3,-1M3,207l2,-3M264,57l4,0M57,148l3,-3M297,137l4,0M153,108l2,-1M21,171l3,-3M326,107l2,-1M247,164l2,0M108,139l3,-1M134,58l3,-3M236,22l3,-2M284,103l3,-1M222,180l2,0M317,219l2,-2M214,128l2,0M180,112l1,0M319,79l1,0M78,160l1,-1M195,26l1,-1M73,160l1,-1M326,245l3,-3M332,63l2,-1M303,111l2,-1M167,241l2,0M249,17l1,-1M138,172l3,0M69,99l1,-3M23,37l1,-3" stroke="#7466c4" stroke-width="2.8"/>
<path d="M267,61l4,-1M230,65l3,-1M322,256l1,-3M260,9l5,0M10,147l3,-2M324,136l3,-1M224,41l1,-1M265,59l2,0M225,223l1,1M177,243l3,0M92,182l2,-1M328,17l4,0M57,247l4,0M239,98l4,-1M92,112l1,-1M55,209l1,-1M17,40l0,-4M308,156l5,-1M44,236l2,-2M269,174l1,0M91,234l4,-1M193,133l2,0M304,184l3,-2M252,21l4,-2M198,54l4,-2M267,161l4,-2M205,57l1,-1M328,65l4,-2M228,245l2,0M88,83l1,-2M188,63l4,-2M39,48l1,-4M66,158l4,-3M288,64l2,-1M142,246l5,-1M274,48l4,-1M285,101l4,-1M42,217l3,-1M159,44l1,-3M8,147l4,-3M331,21l3,-2M193,250l4,-1M63,231l3,-2M140,194l4,-1M253,10l3,-1M96,194l4,-3M281,84l4,0M179,236l2,0M109,230l4,-2M309,69l1,0M16,49l1,-1M199,51l1,-1M54,76l1,-3M213,30l3,-2M117,126l3,-1M191,63l4,-2M161,70l3,-1M88,124l4,-1M131,57l1,-4M15,169l3,-3M306,232l1,-1M165,179l3,1M159,141l1,1M334,172l3,0M134,248l3,0M277,134l2,1M323,50l1,-1M311,80l3,-1M36,5l2,-1M48,210l4,-2" stroke="#7466c4" stroke-width="3.0"/>
<path d="M205,31l3,-1M41,162l2,-2M196,183l4,1M251,47l4,-1M90,141l4,-2M302,36l2,0M76,113l2,-2M245,72l5,-1M71,237l3,-1M130,96l3,-4M17,53l3,-4M37,140l2,-3M168,107l1,-1M15,97l3,-4M217,174l1,0M223,50l2,-1M158,140l3,0M236,191l4,-1M178,50l2,-1M239,100l1,0M119,175l4,-1M73,67l1,-4M73,161l4,-1M226,243l2,-1M235,27l3,-3M100,106l2,-1M110,193l2,0M227,186l3,-1M130,56l2,-2M169,122l4,0M251,27l2,-1M324,162l1,0M174,236l2,0M270,224l2,-2M73,116l1,-1M19,75l2,-3M95,204l4,0M10,66l1,-1M12,14l1,-2M98,190l2,0M129,97l3,-3M216,237l4,-2M1,32l1,-2M139,93l1,-1M38,144l2,-3M148,75l2,-2M13,179l2,-2M111,101l2,-3M126,116l3,-2M269,248l2,-3M134,92l2,-2M47,90l3,-3M305,30l2,0M267,87l4,-1M284,39l4,-2M263,230l3,-1M102,142l2,-1M1,16l3,-2M135,228l4,0M249,246l4,-2M7,197l1,-1M19,218l2,-2M278,97l4,-1M2,183l2,-2M35,191l3,-2" stroke="#7466c4" stroke-width="3.2"/>
<path d="M2,119l1,-1M172,244l4,1M25,3l1,-1M126,5l1,-2M226,212l1,0M95,218l2,-1M95,164l4,-1M216,162l3,0M217,226l4,0M88,189l4,1M160,103l3,-2M260,39l3,-1M120,210l4,3M50,45l0,-1M257,229l4,-1M134,146l4,1M70,226l4,-1M11,17l2,-2M148,181l3,1M49,249l4,-1M119,172l2,0M134,119l3,-2M208,233l3,0M276,197l3,-2M136,119l4,-2M214,139l4,0M43,202l3,-2M75,145l1,-1M327,56l4,-3M258,8l2,-1M246,19l2,-1M214,247l3,-1M23,79l0,-3M55,123l2,-3M68,57l1,-5M42,43l1,-3M309,47l1,0M235,82l4,-1M206,27l4,-2M75,220l1,0M19,25l1,-1M198,39l1,-2M177,178l1,0M57,151l3,-2M28,201l2,-1M179,43l3,-2M0,238l2,-1M339,231l1,-2M123,150l4,-1M25,235l4,-2M48,88l2,-4M76,135l1,-1M236,226l1,0M120,18l1,-3M179,51l4,-2M338,129l4,-2M235,197l4,-1M256,156l3,2M4,156l2,-3M305,35l1,-1M182,80l3,0" stroke="#7466c4" stroke-width="3.4"/>
<path d="M55,114l3,-3M124,201l4,1M187,186l3,1M38,227l2,-2M172,38l1,-2M200,60l2,-1M203,224l3,-1M292,139l3,-1M231,216l3,0M41,69l1,-2M216,179l2,0M216,210l1,0M208,1l1,-1M177,170l4,1M103,189l5,1M36,227l1,-1M68,43l0,-4M173,173l3,0M70,133l1,-2M324,237l2,-2M155,216l4,-1M178,142l4,2M5,81l1,-2M96,234l4,-1M234,224l2,0M308,241l1,-1M234,228l3,0M315,204l4,-2M43,115l2,-3M186,12l3,-3M22,97l3,-4M9,200l2,-2M335,59l3,-3M7,190l4,-1M294,170l3,-2M166,72l3,-2M259,94l3,0M81,231l4,-1M288,162l3,0M260,211l3,-2M237,238l1,-1M300,192l3,0M293,196l2,-1M277,131l1,0M39,146l3,-3M95,242l3,-2M148,235l3,0M39,161l2,-1M42,107l1,-2M203,94l2,-1M131,121l3,-1M123,99l2,-2M36,214l4,-2M128,96l3,-2M278,117l1,0M253,118l4,1M217,185l3,-1M337,220l1,-1" stroke="#7466c4" stroke-width="3.6"/>
<path d="M214,208l5,0M0,186l2,-3M210,153l3,1M9,66l2,-3M227,64l3,0M291,148l2,0M109,37l1,-3M121,141l2,0M250,200l4,0M279,78l2,0M45,220l4,-1M202,65l4,-1M145,164l2,0M117,28l1,-5M59,34l0,-2M189,104l4,-1M44,100l1,-2M73,86l1,-3M281,18l3,-2M313,209l2,-2M99,85l1,-2M289,4l1,0M70,116l2,-4M219,12l4,-1M295,184l3,-2M119,117l1,-1M340,6l3,-2" stroke="#7466c4" stroke-width="3.8"/>
<path d="M292,12l1,0M285,122l3,-1M226,177l3,-1M76,217l3,-1M150,186l2,0M274,255l1,-1M112,50l1,-2M46,16l2,-2M307,95l1,0M26,252l2,-2M192,211l3,-1M186,212l4,0M95,61l1,-4M82,226l2,-1M310,72l5,0M247,214l3,-1M111,20l0,-3M271,156l4,0M242,115l3,1M67,137l2,-2M167,141l3,0M10,237l1,-1M269,130l2,0M81,126l3,-3M66,242l4,0M311,32l3,-1M70,128l3,-2M85,2l0,-2" stroke="#8478cc" stroke-width="2.4"/>
<path d="M69,29l2,-2M126,213l4,1M205,123l5,0M113,251l4,-3M138,13l1,-1M130,91l1,-1M32,168l2,-3M29,58l0,-3M6,119l2,-3M8,33l1,-4M157,68l2,-2M216,98l3,0M1,203l1,-3M319,230l1,-1M109,244l4,-1M181,125l3,1M262,81l4,-1M242,172l4,1M282,79l4,-1M127,168l4,-1M163,154l1,0M160,64l2,-1M191,58l2,-1M103,96l3,-2M8,70l1,-2M72,47l2,-4M195,97l3,-1M319,74l4,-2M38,250l2,-1M36,7l2,-1M111,198l4,1M0,161l3,-3M226,3l2,-2M45,87l2,-2M117,191l3,1M86,69l2,-2M47,116l2,-3M137,174l1,1M116,197l2,0M323,63l3,-1M137,98l4,-3M308,179l3,-1M45,152l3,-4M212,198l1,0M37,57l1,-2M226,115l5,0M281,221l3,-2M96,174l2,-1M323,81l3,-1M72,125l2,-4M12,183l3,-2M32,59l2,-2M119,226l2,1M38,50l1,-3M218,77l2,-2M83,139l4,-1M227,202l4,1M103,184l2,-1M219,198l3,1M326,242l4,-3M173,132l4,0M29,178l3,-2M322,146l4,-1M222,120l4,-2M83,138l4,-2M99,213l3,-1M127,197l3,0M90,254l3,-1M70,18l0,-2" stroke="#8478cc" stroke-width="2.6"/>
<path d="M49,182l3,-1M77,226l4,0M59,166l4,-2M266,16l4,-1M327,252l2,-3M330,57l2,-1M321,168l4,-2M300,97l3,-1M304,113l4,-1M144,162l5,0M311,49l2,-1M274,218l3,-2M62,157l3,-3M222,2l3,-2M36,250l1,-1M199,95l1,0M300,83l1,-1M259,221l1,0M162,236l4,2M252,95l3,0M300,16l3,-1M267,96l2,0M314,165l3,0M108,220l4,0M126,234l2,0M103,43l2,-3M204,59l1,-1M308,139l4,-1M71,7l0,-1M316,135l4,-1M198,80l4,-1M0,155l2,-3M112,150l2,0M117,151l2,0M291,144l1,0M123,17l1,-1M281,66l2,0M203,222l2,-1M221,59l2,-1M123,30l1,-3M96,213l1,0M159,97l1,-1M110,15l-1,-4M229,100l4,0M17,100l1,-2M234,124l4,0M236,54l2,0M163,189l2,0M134,77l1,-2M284,5l2,-1M186,4l3,-3M332,250l3,-4M306,81l3,-4M276,148l4,0M48,101l1,-1M332,41l4,-1M330,59l2,-1M78,144l2,0M168,88l2,-1M314,73l4,1M320,187l4,-2M1,173l2,-2M328,103l2,0M108,3l2,-3M221,164l3,1M165,53l1,-2M274,103l4,-1M116,156l2,0M217,30l4,-2M144,12l1,-1M326,119l1,-1M86,28l0,-1M127,150l4,-1M157,32l2,-4M47,40l0,-2" stroke="#8478cc" stroke-width="2.8"/>
<path d="M118,155l3,-1M294,196l3,-2M302,28l1,0M32,184l4,-2M338,176l2,-1M219,27l4,-2M310,32l4,-1M99,87l1,-4M15,70l2,-3M292,46l3,-1M176,192l2,1M287,82l2,-1M67,132l2,-2M311,112l2,-1M223,168l5,1M206,241l2,0M155,33l1,-4M63,74l1,-4M269,80l5,-1M94,107l2,-2M218,124l4,1M338,253l4,-3M199,94l3,0M234,113l2,0M15,65l2,-3M291,165l2,-1M321,247l2,-4M189,104l4,0M291,203l1,0M82,101l3,-2M241,31l3,-2M77,100l1,-2M325,172l1,-1M84,191l1,-1M268,93l4,-1M305,93l4,-2M139,189l5,0M248,177l5,-1M317,186l3,-2M167,111l4,-1M204,131l4,0M330,143l2,-1M337,36l3,-1M159,153l4,0M264,237l3,-2M149,68l1,-2M249,161l3,1M99,30l1,-4M278,193l3,-1M309,222l1,-1M61,154l5,-1M172,195l4,1M138,170l4,0M124,152l1,-1M115,32l0,-4M129,255l1,0M291,29l3,-3M176,4l2,-4M169,221l2,-1" stroke="#8478cc" stroke-width="3.0"/>
<path d="M314,15l2,-1M68,246l4,-2M202,96l4,-1M258,183l4,0M14,17l2,-2M117,161l3,-1M171,84l2,-1M264,30l1,-1M250,177l1,1M293,126l3,1M286,69l4,0M99,191l5,0M94,198l3,-1M172,171l2,0M37,81l1,-3M88,86l1,-2M116,9l0,-2M246,46l1,0M288,199l2,-1M197,175l4,2M310,114l4,-1M315,224l2,-2M80,230l4,-1M100,82l2,-4M55,225l1,-1M209,221l2,-1M254,234l2,-2M23,48l2,-4M310,21l2,-1M317,129l2,-1M178,159l3,0M207,138l4,-1M336,189l2,-3M175,146l2,0M224,200l2,0M74,166l4,0M327,38l2,-1M335,239l1,-1M211,25l1,-1M196,113l4,-1M102,142l2,-1M234,242l2,0M317,55l3,-2M317,141l4,-2M272,91l2,0M252,25l4,-2M223,90l3,0M207,113l4,1M307,252l2,-2M56,40l2,-2M229,67l5,0M160,130l5,-1M78,72l1,-1M63,13l1,-3M259,80l1,-1M210,243l3,-1M237,183l3,0M147,94l2,-1M317,235l2,-1M178,13l2,-2M66,196l3,-2M284,158l3,0M117,103l3,-2M125,20l1,-2M1,86l1,-1M24,144l3,-3M198,208l3,0M206,223l4,-1M334,252l1,-2M266,80l4,-1M317,49l2,-2M135,239l1,0M202,230l2,-1M143,194l3,0M116,239l4,1M147,163l1,0M48,184l2,-2M327,63l3,-1" stroke="#8478cc" stroke-width="3.2"/>
<path d="M197,50l3,0M121,165l3,-2M45,251l4,0M233,157l4,0M285,12l3,-1M218,177l3,2M303,47l3,-1M107,32l2,-4M200,82l3,1M162,255l2,0M11,187l2,-1M219,210l3,0M262,14l1,0M178,224l2,0M116,165l3,0M144,170l2,1M321,64l2,-1M216,191l1,1M325,131l4,-1M164,88l4,-2M80,28l2,-4M179,142l4,0M287,83l4,-1M217,112l4,0M223,87l5,0M109,36l1,-1M306,202l2,-1M47,216l2,-1M315,34l4,-3M326,3l4,0M105,46l1,-2M83,168l4,-1M75,11l1,-1M182,160l4,1M26,166l2,-2M178,47l3,-3M177,224l5,0M137,59l1,-2M195,49l3,-2M273,58l4,0M293,250l1,-1M341,236l2,-2M45,36l1,-2M43,34l1,-2M131,66l1,-3M67,58l2,-4M223,92l3,0M290,66l3,-1M48,54l0,-3M235,75l2,-1M46,105l2,-2M332,76l2,-1M29,172l3,-1M217,152l3,-1M11,184l3,-2M219,124l3,0M233,113l1,0M293,230l2,-2M133,165l4,0M257,144l4,1M213,33l2,-2M55,47l3,-3M283,185l1,0M13,81l3,-3M224,224l3,-1M331,218l2,-2M41,123l1,-2M228,144l3,3" stroke="#8478cc" stroke-width="3.4"/>
<path d="M56,216l2,-2M191,74l3,-1M148,226l3,0M215,160l4,0M100,138l2,-1M181,125l4,0M274,184l1,0M236,98l5,1M36,192l1,-1M316,218l1,-2M43,167l2,-1M299,213l2,-1M279,245l3,-2M274,62l1,0M301,2l4,-1M263,213l3,-2M151,42l1,-1M247,40l1,-1M172,118l4,0M254,57l4,-1M7,198l3,-1M262,192l2,-1M287,29l2,-1M33,43l1,-2M22,49l1,-4M8,233l1,-2M336,97l3,-2M303,140l4,-1M321,55l1,-1M286,206l2,-1M16,222l3,-3M300,155l1,-1M284,185l3,-1M59,97l2,-3M39,218l2,-1M337,240l1,-4M127,186l3,1M228,74l3,-1M197,96l4,0M267,233l1,-1M92,74l1,-2M104,116l1,-1M168,139l4,1M242,195l4,0M15,219l3,-3M136,193l4,2M180,115l2,0M14,30l1,-4M26,60l1,-3M243,111l1,0M174,5l1,-3M226,115l2,0M19,185l2,-2M116,93l3,-2M297,195l3,-1M311,21l2,-1M271,188l2,0M185,128l2,0M190,31l3,-2M18,177l1,-1M248,9l2,-1M262,204l2,-1" stroke="#8478cc" stroke-width="3.6"/>
<path d="M107,147l4,-2M148,17l1,-2M309,188l3,-2M17,42l3,-4M75,117l3,-1M220,213l1,-1M4,194l1,-1M47,4l1,-3M91,23l1,-1M17,76l2,-3M301,110l2,0M183,91l3,-1M2,51l2,-2M185,254l4,0M280,126l3,-2M95,116l3,-2M86,197l3,-1M29,3l3,-3M104,101l4,-2M339,96l2,-1" stroke="#8478cc" stroke-width="3.8"/>
<path d="M83,148l2,-2M308,147l1,-1M116,152l2,-1M174,47l3,-1M127,72l3,-3M195,89l2,-1M118,107l3,-3M284,239l1,-2M280,91l4,-2M190,192l3,2M209,76l2,-1M55,179l3,-2M338,19l3,-1M154,24l2,-4M174,155l4,1M146,200l2,0M185,161l5,0M279,123l2,-1M95,182l2,0M168,103l2,0M327,57l3,-3M129,63l3,-3M30,13l1,-3M77,142l1,-2M132,158l3,0M162,23l1,-3M50,121l2,-3M156,149l4,2M282,132l2,0M260,163l4,0M26,177l2,-2M218,95l2,0M270,7l3,-1M224,192l4,0M172,64l2,-3M104,60l1,-3" stroke="#8a74c4" stroke-width="2.4"/>
<path d="M266,44l4,0M129,59l1,-4M79,86l3,-3M22,28l1,-2M80,99l3,-3M10,170l1,-2M235,46l4,-2M262,16l4,0M29,32l1,-2M268,193l4,0M339,251l2,-2M246,175l2,0M292,95l2,-1M281,19l3,-1M122,130l3,0M294,191l4,0M224,201l4,-1M328,184l2,-1M161,125l3,0M239,95l1,0M202,29l2,-2M184,116l2,0M35,52l2,-4M287,248l2,-3M151,199l5,0M81,127l2,-1M265,15l3,-1M192,79l1,-1M259,134l4,0M139,213l3,1M12,146l3,-3M145,211l4,0M18,7l0,-1M239,164l4,1M68,35l1,-1M294,97l2,0M194,84l3,-1M22,145l3,-2M205,209l5,0M190,196l4,2M154,189l3,0M148,152l3,0M209,201l2,0M261,218l3,0M63,168l2,-1M68,113l3,-1M2,101l1,-1M4,220l3,-2M87,106l2,-1M19,97l2,-2M155,213l1,0M255,186l3,-1M54,139l4,-2M79,214l2,-1M199,76l2,-1M104,165l1,0M76,140l3,-4M166,90l3,-3M286,165l2,-1" stroke="#8a74c4" stroke-width="2.6"/>
<path d="M92,90l1,-3M46,204l4,-3M128,198l3,0M113,32l2,-1M285,210l4,-3M255,216l4,-2M102,12l1,-5M332,47l2,-2M210,86l3,1M38,75l1,-3M171,218l4,1M162,44l1,-2M306,10l3,-1M241,85l5,0M257,30l2,-1M182,177l3,2M218,142l3,0M128,67l1,-1M64,127l1,-1M32,147l2,-2M76,185l2,-1M21,159l3,-3M126,150l2,0M274,120l3,0M92,138l1,0M191,5l2,-3M97,135l3,-2M316,171l3,0M109,41l1,-1M85,189l2,-1M38,82l1,-1M12,29l2,-2M105,99l1,-1M264,84l4,0M266,212l2,-1M70,43l2,-3M39,35l1,-2M213,202l3,0M57,118l3,-3M130,53l1,-1M261,85l3,-1M80,130l2,-1M27,1l3,-2M216,233l1,-1M300,179l4,-2M297,140l4,-3M172,153l4,1M149,106l3,0M272,148l3,0M324,219l1,-3M76,236l5,-1M251,216l2,-1M313,35l3,0M140,71l3,-3M66,143l3,-1M132,60l1,-1M199,65l3,-1M312,229l1,-1M28,211l2,-2M162,23l2,-4M192,129l4,0M322,146l3,-1M177,219l3,-2M227,82l4,-1M260,137l4,-1M31,126l2,-2M209,63l2,-2M177,28l2,-3M47,199l3,-2M46,80l1,-2M269,96l2,0M7,89l1,-2" stroke="#8a74c4" stroke-width="2.8"/>
<path d="M3,163l3,-3M241,243l4,0M237,62l2,-1M224,38l4,-1M92,123l4,-2M256,246l2,-1M48,4l3,-3M146,158l2,0M198,245l2,-1M152,27l2,-3M95,110l2,-1M293,34l2,0M135,219l4,2M161,78l3,-1M162,126l3,0M114,232l2,0M252,31l2,-1M300,100l2,0M16,249l3,-3M123,125l3,-1M254,121l2,0M21,146l3,-3M160,215l3,-1M195,187l3,-1M189,91l3,-1M272,128l5,0M66,136l2,-2M224,81l2,-1M229,133l4,1M51,35l1,-1M146,223l2,0M136,56l3,-2M281,19l2,-1M152,70l4,-2M274,171l4,0M283,238l2,-2M121,18l3,-3M305,207l2,-1M128,229l4,0M9,215l1,-1M170,63l3,-2M17,204l3,-2M286,32l4,-1M58,46l1,-1M239,51l3,-1M193,92l3,0M304,47l1,-1M222,86l1,-1M318,154l3,-3M4,113l1,-2M11,199l1,-1M285,52l1,0M5,48l3,-3M231,27l3,-2M265,88l2,1M333,250l1,-2M261,249l2,-2M74,160l4,-2M321,217l1,-2M189,119l4,1" stroke="#8a74c4" stroke-width="3.0"/>
<path d="M60,35l1,-4M143,98l3,-2M61,171l2,-1M103,157l4,-2M328,214l4,-1M332,237l3,-3M109,141l2,-1M125,194l3,-1M286,235l2,-2M296,106l1,0M187,203l2,1M92,79l2,-3M248,41l3,-2M62,205l2,0M52,108l2,-2M307,203l2,-1M110,194l2,0M334,5l4,-1M257,27l2,-1M211,158l5,1M253,57l4,0M15,130l1,-3M284,155l4,0M35,140l2,-2M16,181l2,-2M232,97l3,-1M285,59l1,0M319,145l2,-1M283,220l1,-1M187,66l3,-1M259,151l1,0M166,141l2,1M285,194l1,0M95,144l1,-2M243,219l5,0M259,180l1,0M109,96l1,-3M25,234l2,-1M171,155l4,1M157,106l4,-1M227,97l2,0M330,10l3,-2M268,28l4,-2M179,202l4,1M3,253l3,-2M292,147l4,-1M10,37l1,-2M52,135l3,-2M169,118l2,-1M327,129l2,-1M93,223l4,-2M165,16l2,-1M61,131l3,-1M185,140l3,1M28,77l1,-3M217,195l5,0M93,31l2,-4M211,66l3,-1M60,22l1,-2M95,124l3,-3M226,234l1,0M293,199l5,-1M187,89l3,-1M65,90l2,-2" stroke="#8a74c4" stroke-width="3.2"/>
<path d="M43,152l2,-3M233,203l5,0M109,40l1,-4M167,123l5,0M24,164l2,-3M245,102l4,-1M38,166l1,-2M77,134l4,-2M16,138l2,-3M246,17l2,-1M156,20l1,-2M139,210l4,1M0,109l2,-2M60,55l1,-2M108,93l3,-2M119,120l2,-1M289,221l2,-2M138,96l3,-2M2,130l2,-1M221,39l4,-2M116,89l1,-1M14,176l2,-2M69,55l1,-3M301,224l2,-1M318,172l1,-1M337,108l3,-2M334,31l3,-2M82,235l2,-1M148,97l3,-3M133,252l4,0M306,7l2,-1M67,202l2,0M101,71l1,-2M106,253l4,0M72,15l2,-3M227,92l4,-2M280,31l1,-1M4,243l2,-2M265,88l1,-1M155,217l3,1M165,46l2,-2M231,96l3,0M140,219l4,0M20,144l2,-2M134,231l3,0M157,171l4,1M286,62l1,0M146,203l1,0M237,198l1,0M80,16l0,-1M292,62l3,-1M229,41l3,-1M249,216l3,0M218,82l3,-1M56,205l2,-2M208,146l3,2M54,152l3,-4M52,6l1,-3M66,200l3,-1M203,83l3,0M328,206l3,-4M23,208l4,-3M249,189l4,-1M236,69l3,-1M168,78l2,-1M71,137l2,-1" stroke="#8a74c4" stroke-width="3.4"/>
<path d="M292,52l4,-1M36,135l1,-1M54,24l1,-4M184,190l4,0M320,246l3,-2M277,52l1,0M133,110l2,-1M292,28l3,-2M226,128l3,1M196,194l5,0M207,31l2,-2M310,181l2,-1M223,180l2,0M323,114l2,-1M300,174l4,-1M200,243l2,0M101,51l3,-3M112,207l3,1M159,173l3,1M141,147l4,0M22,177l4,-1M121,200l2,0M300,206l3,-1M292,167l3,0M3,93l1,-2M142,120l5,-1M35,10l2,-4M283,169l5,0M82,198l2,0M38,221l4,-2M16,216l1,-1M88,4l3,-4M131,52l2,-1M91,133l3,-2M250,206l3,0M286,188l4,-2M131,31l0,-1M49,122l2,-3M307,100l3,-2M320,27l2,-2M278,194l3,-1M303,36l3,-1M247,92l4,0M245,227l2,0M292,65l2,0M234,119l3,1M210,245l1,-1M37,8l2,-4M137,62l2,-4M58,115l2,-3M320,170l3,-1M260,116l5,0M273,73l3,0M325,255l1,-4M49,238l3,-3M136,251l3,-1M64,84l0,-3M123,142l2,-1M199,64l3,-3" stroke="#8a74c4" stroke-width="3.6"/>
<path d="M81,76l3,-3M317,105l3,-1M56,144l2,-1M278,121l4,1M166,252l2,0M224,179l2,0M301,16l2,-1M213,85l4,0M298,37l4,-2M230,202l1,0M9,98l0,-2M194,141l2,0M125,223l1,0M132,245l3,0M159,161l3,0M235,137l2,-1M155,150l3,0M224,49l4,-1M298,116l4,0M61,133l1,-2M235,98l1,1M154,157l3,0M283,154l2,0M190,81l4,-3M224,190l1,0M155,41l1,-2M19,42l3,-3M201,119l2,0M107,103l2,-1M164,177l3,0M275,95l5,-1M322,49l3,-3M322,106l2,-1M258,99l1,0M90,135l4,-2" stroke="#8a74c4" stroke-width="3.8"/>
<path d="M257,49l3,-1M154,78l1,-1M210,122l5,1M158,227l3,0M88,140l2,-1M214,59l3,-2M119,235l4,0M171,143l2,0M328,245l1,-2M269,226l2,-1M8,64l1,-1M92,229l2,0M238,236l3,0M132,61l1,-1M97,105l1,-2M278,125l2,0M19,93l2,-4M128,216l3,0M204,71l2,-1M224,248l5,-1M83,245l2,0M12,191l4,-1M306,8l3,0M330,159l4,-1M9,93l0,-2M38,4l1,-2M276,112l3,-1M181,96l1,0M202,171l3,1M218,155l2,0M181,89l4,-2M77,236l2,0M219,246l2,-1" stroke="#9a90d8" stroke-width="2.4"/>
<path d="M231,84l2,-1M164,40l3,-3M180,74l2,-1M235,118l3,2M300,83l4,-2M313,104l2,0M131,15l0,-2M5,197l1,-1M9,161l2,-3M87,20l1,-2M24,215l3,-2M239,182l3,1M75,139l4,-3M188,204l1,1M231,184l1,0M272,96l3,-1M203,146l2,1M133,217l4,-1M139,158l4,-1M191,91l2,-1M292,113l4,0M97,218l1,0M100,133l3,-3M91,238l5,1M171,89l1,-1M198,70l4,-1M67,88l1,-1M51,72l1,-1M10,98l2,-3M58,217l3,-3M257,73l3,0M167,142l5,0M39,53l2,-4M14,9l1,-1M177,181l5,-1M295,7l2,-2M261,186l2,0M66,249l2,0M79,43l1,-4M289,247l2,-2M117,212l3,1M296,190l4,-1M140,179l4,1M129,199l4,0M287,200l1,-1M154,244l2,0M197,157l2,0M21,140l1,-2M214,102l3,1M174,242l3,0M27,159l3,-1M177,59l3,-3M175,36l3,-4M144,157l4,0M46,72l0,-2M177,187l3,1M127,165l2,0M18,200l3,-2M210,90l4,0" stroke="#9a90d8" stroke-width="2.6"/>
<path d="M236,174l1,0M21,75l0,-2M108,197l3,1M268,250l2,-2M224,29l3,-2M22,12l1,-3M101,110l3,-3M47,249l3,-1M99,171l3,-1M194,2l2,-1M188,195l4,1M266,168l5,0M261,8l1,0M156,80l3,-2M298,166l3,0M287,138l1,0M9,98l2,-4M313,73l3,-1M190,152l3,2M335,39l3,-2M159,167l2,0M72,250l4,0M257,188l3,-1M310,242l2,-1M80,112l1,-2M53,225l2,-2M18,149l2,-2M310,87l4,2M327,210l2,-1M108,153l3,-1M322,9l4,0M77,122l3,-3M293,235l1,-2M70,193l4,-1M100,82l3,-3M63,25l1,-4M73,110l1,-1M148,175l4,1M150,98l3,-3M107,49l2,-4M150,240l5,0M7,174l2,-3M300,44l3,-2M290,9l3,-1M259,16l3,0M178,88l2,-1M223,92l3,-1M300,49l4,-2" stroke="#9a90d8" stroke-width="2.8"/>
<path d="M330,19l4,-1M134,97l3,-1M75,18l1,-2M311,210l3,-2M46,232l2,-2M266,248l4,-1M247,73l2,0M92,10l3,-3M5,28l2,-4M269,208l1,-1M308,142l2,0M232,28l4,-1M110,48l0,-3M252,189l1,0M133,225l5,0M281,193l4,-1M48,30l0,-1M26,128l1,-2M247,113l2,0M104,141l2,-2M279,66l2,0M209,157l3,1M98,198l3,0M73,37l0,-5M28,2l3,-3M158,218l2,1M75,215l3,0M330,134l2,-1M266,85l4,-1M53,88l1,-4M162,185l4,0M42,250l3,-1M198,145l2,0M129,236l4,1M185,118l1,-1M88,99l0,-2M47,26l0,-1M249,223l3,-2M205,215l2,0M28,191l3,-2M198,14l1,-1M267,182l2,0M290,118l2,0M17,222l2,-2M279,100l5,0M273,119l3,1M101,178l2,0M63,88l4,-3M156,216l4,-1M338,6l3,-1M31,188l4,-1M227,180l2,0M134,208l4,-1M304,257l0,-4M91,119l2,-1M47,26l1,-3M222,136l2,0M163,77l2,-2M333,32l1,0M41,207l1,-1M118,171l3,0M98,227l2,0M80,157l2,0" stroke="#9a90d8" stroke-width="3.0"/>
<path d="M96,103l2,-3M61,61l0,-4M193,174l2,1M138,157l4,-2M235,130l2,0M195,68l4,-3M0,35l2,-2M206,222l1,0M177,24l3,-2M312,103l3,-2M76,222l1,0M58,5l1,-3M236,142l3,-1M250,3l3,-1M223,42l3,0M126,209l5,1M226,23l1,-1M275,101l1,0M192,127l4,1M32,91l3,-4M123,148l5,1M63,254l3,1M260,247l3,-2M278,213l4,0M192,98l4,-1M32,240l3,-4M73,131l3,-2M205,20l2,-2M5,216l4,-2M313,205l4,-2M128,136l1,-1M143,98l2,-1M158,100l4,-2M234,117l2,1M166,245l4,0M284,48l3,0M221,30l4,-1M307,236l1,-1M137,108l1,-1M138,189l4,1M308,111l2,-1M191,41l2,-1M61,218l1,0M184,71l4,-1M236,118l3,0M113,81l4,-3M195,165l4,2M274,10l2,-1M76,95l1,-1M288,91l4,1M188,254l2,0M323,208l1,-1M153,250l2,-1M196,220l1,0M248,224l3,-1M229,103l4,0M17,102l2,-2M109,17l1,-2M20,230l2,-1M8,6l2,-2M78,78l3,-3M154,85l3,-1M185,158l2,0M185,195l4,0M259,49l4,-2" stroke="#9a90d8" stroke-width="3.2"/>
<path d="M22,40l1,-2M285,31l4,-1M113,239l2,-1M166,100l1,-1M33,12l2,-4M190,245l1,0M107,38l0,-2M257,217l4,0M148,116l4,1M148,85l2,-1M285,234l1,-1M96,188l4,0M177,244l4,-1M109,78l3,-3M134,103l2,-1M303,4l4,-1M99,203l5,-1M13,32l2,-3M271,145l1,0M331,185l2,-1M107,102l2,-2M157,222l4,0M220,133l2,0M219,111l3,-1M137,78l1,-1M130,64l1,-1M251,97l2,-1M187,2l2,-2M105,115l2,-2M193,31l4,-2M288,186l4,-1M132,122l2,-1M137,100l3,-1M110,182l2,0M142,211l3,1M130,158l4,0M22,13l1,-1M54,35l2,-4M214,179l2,0M298,178l2,-2M59,80l2,-4M-1,221l3,-3M321,186l3,-2M320,31l2,-1M195,156l3,0M75,244l3,-1M88,78l2,-4M12,5l4,-2M187,251l2,0M113,28l1,-1M4,84l1,-1M307,49l3,-1M88,201l4,-1M225,100l4,1M206,146l2,-1" stroke="#9a90d8" stroke-width="3.4"/>
<path d="M269,36l4,-1M248,150l4,0M273,94l1,-1M330,157l2,-2M252,198l4,-1M318,17l2,0M223,210l2,-1M328,62l2,0M19,60l1,-3M161,198l3,1M234,26l4,-2M29,143l3,-1M182,251l4,1M272,210l3,0M314,118l2,-1M95,210l2,0M102,184l1,1M214,151l3,1M164,34l2,-2M185,32l2,-2M106,6l1,-1M293,177l3,-1M177,126l2,0M27,88l2,-4M314,146l4,0M174,183l1,0M222,152l3,0M334,169l4,-2M256,157l1,0M12,130l1,-2M98,243l3,1M257,81l3,1M111,184l3,0M280,77l5,-1M308,110l2,-1M180,196l4,1M198,180l4,1M180,168l3,0M333,128l3,-1M340,222l1,-2M98,170l1,0M203,208l1,1M53,127l3,-3M165,237l3,0M45,98l1,-2M262,60l4,-2M136,119l4,-1M153,104l2,-1M5,85l2,-3M277,219l3,-2M168,244l2,0M321,36l2,-1M138,115l4,-2M287,83l3,0M93,203l4,0M134,166l4,0M173,223l3,1M104,165l4,0M34,49l2,-4M189,161l4,1M278,118l5,0M76,46l0,-4M43,36l0,-1M73,16l0,-3M275,43l2,-2M313,16l3,0M314,47l4,-2M54,61l1,-1M115,95l2,-1M166,228l3,1M24,23l2,-4M88,5l2,-3" stroke="#9a90d8" stroke-width="3.6"/>
<path d="M164,48l3,-3M32,214l3,-2M210,210l3,0M291,74l4,-1M82,2l-1,-2M212,101l3,0M168,56l3,-1M155,183l3,1M121,162l3,-2M202,165l4,2M227,213l2,0M190,40l2,-2M262,19l4,-2M273,245l3,-2M102,92l3,-1M170,95l4,-2M63,239l2,-1M119,91l4,-3M138,248l4,2M247,82l4,-1M90,47l2,-3M204,73l4,-1M134,52l2,-2M48,18l1,-3M251,148l4,-1M313,0l2,0M160,242l4,0M62,84l3,-3M136,75l1,-1" stroke="#9a90d8" stroke-width="3.8"/>
</g>
<ellipse cx="1323.6" cy="69.3" rx="3.6" ry="4.0" fill="#fdfdff"/>
<ellipse cx="1320.7" cy="90.4" rx="3" ry="3.3" fill="#fdfdff"/>
<ellipse cx="1347.4" cy="85.5" rx="4" ry="4.4" fill="#fdfdff"/>
<ellipse cx="1315.7" cy="115.2" rx="5" ry="5.5" fill="#fdfdff"/>
<ellipse cx="1370.1" cy="77.6" rx="4" ry="4.4" fill="#fdfdff"/>
<ellipse cx="1377" cy="76.6" rx="3" ry="3.3" fill="#fdfdff"/>
<ellipse cx="1381" cy="84.5" rx="3.5" ry="3.9" fill="#fdfdff"/>
<ellipse cx="1369.1" cy="98.4" rx="3.5" ry="3.9" fill="#fdfdff"/>
<ellipse cx="1377" cy="123.1" rx="5" ry="5.5" fill="#fdfdff"/>
<ellipse cx="1369" cy="109.2" rx="2.5" ry="2.8" fill="#fdfdff"/>
<ellipse cx="1374" cy="67.7" rx="3" ry="3.3" fill="#fdfdff"/>
<ellipse cx="1409.7" cy="80.6" rx="4" ry="4.4" fill="#fdfdff"/>
<ellipse cx="1421.6" cy="62.7" rx="4" ry="4.4" fill="#fdfdff"/>
<ellipse cx="1424.5" cy="75.6" rx="2.5" ry="2.8" fill="#fdfdff"/>
<ellipse cx="1467" cy="103.3" rx="4.5" ry="5.0" fill="#fdfdff"/>
<ellipse cx="1472" cy="99.3" rx="3" ry="3.3" fill="#fdfdff"/>
<ellipse cx="1365.2" cy="87.5" rx="3" ry="3.3" fill="#fdfdff"/>
<ellipse cx="1406" cy="63.5" rx="7" ry="5.5" fill="#fdfdff" stroke="#8a4aa0" stroke-width="1.6"/>
<rect x="1437" y="58.5" width="39" height="38" fill="#dedee2" opacity="0.85"/>
<text x="1456.5" y="86.5" font-size="26" text-anchor="middle" fill="#000">i</text>
<rect x="1451.2" y="174.1" width="18.8" height="3.5" fill="#000"/>
</g>
<g clip-path="url(#cpii)">
<rect x="1305.5" y="192.0" width="171.0" height="128.2" fill="#e2eff8"/>
<rect x="1305.5" y="192" width="171" height="128.2" fill="#fff" filter="url(#fHEpink)" opacity="0.2"/>
<g transform="translate(1305.5,192) scale(0.5)" fill="none" stroke-linecap="round" opacity="1.0">
<path d="M278,78l1,-1M186,219l3,-3M75,58l2,0M30,90l3,-1M327,202l3,-1M308,203l4,-1M267,150l1,-1M81,5l2,-2M87,62l4,-3M327,166l2,-1M237,98l1,-3M48,17l2,-1M170,56l1,-1M202,113l3,-3M114,257l1,-3M281,66l0,-1M112,139l3,-1M159,75l1,-1M254,177l2,-3M158,22l1,-1M269,227l4,-1M104,257l2,-4M104,39l2,-1M208,172l2,-2M276,54l1,-4M306,31l0,-2M44,88l3,-3M4,165l3,0M260,221l3,-2M238,15l2,-1M131,12l2,-1M175,204l1,-3M335,19l0,-4M282,251l1,-1M272,217l2,-1M329,234l2,0M131,195l4,-2M336,2l0,-2" stroke="#6a50ac" stroke-width="2.6"/>
<path d="M335,80l2,-3M187,160l2,-3M267,188l4,-1M294,146l2,-2M198,69l1,-3M311,127l2,-3M78,168l2,0M221,26l2,-3M215,247l2,-1M180,199l4,-2M206,174l3,-2M115,192l1,-1M291,60l1,-4M195,57l1,-2M85,25l4,-1M40,257l4,-2M-2,194l5,1M297,246l3,-1M8,231l5,0M67,71l4,-2M0,199l3,0M71,165l5,1M199,107l1,-2M212,158l2,-2M234,27l1,-2M239,105l0,-3M251,178l2,-2M21,170l4,0M129,125l2,0M80,234l2,-1M227,39l1,-2M81,113l2,-1M25,220l4,0M268,210l2,-1M134,68l1,0M212,88l1,-4M240,9l1,-2M58,53l1,-1M20,33l1,-1M297,178l3,-2M25,167l4,0M48,80l1,0M261,232l1,-1M190,192l2,-3M151,25l1,-1M297,160l3,-3M303,69l0,-1M174,232l2,-4M199,21l1,-1M157,28l4,-1M293,225l3,-1M271,185l1,-1M145,1l4,-1M325,79l2,-3M299,13l2,-3M150,39l3,-2M142,33l4,-3M124,238l1,-1M185,162l2,-3M226,241l1,-2M62,36l4,-1M198,180l0,-1M285,144l1,-2M253,211l2,-3M221,208l2,-2M297,86l1,-3M270,255l2,-2M130,92l4,-3M5,227l1,0M78,214l2,-2M321,131l2,-2M133,234l2,-2M44,127l2,0M286,231l1,-1M79,125l2,-1M340,196l1,0M285,56l0,-1M200,176l1,-3" stroke="#6a50ac" stroke-width="2.8"/>
<path d="M265,233l4,-3M164,227l2,-3M112,232l1,-1M68,66l2,-1M9,191l4,1M76,77l3,0M6,139l3,0M163,157l1,-3M217,186l3,-3M65,225l4,-3M186,230l2,-2M205,33l3,-1M30,223l1,0M292,16l1,-2M199,147l2,-4M138,30l4,-2M312,228l1,0M293,232l2,-1M336,140l1,-1M223,40l1,-2M218,250l1,-2M277,174l3,-1M302,241l3,1M14,111l4,0M192,211l1,-1M314,222l2,-1M76,4l2,-2M298,158l3,-3M127,183l1,-1M83,215l4,0M317,3l0,-2M5,217l2,-1M165,182l2,-2M25,71l1,0M286,202l1,0M111,83l4,-2M52,44l2,-1M75,86l2,-1M242,53l3,-2M22,157l3,0M100,255l1,-2M13,65l3,-1M80,65l5,-1M192,135l3,-4M130,106l4,-1M322,184l2,0M143,143l3,-3M99,122l4,-1M313,109l3,-4M190,6l2,-2M262,204l3,-3M92,93l3,-1M322,179l3,-3M324,164l4,-1M25,45l1,-2M301,124l1,-2M58,96l3,-1M186,179l2,-3M140,195l3,-3M287,90l0,-4M72,159l3,-1M11,219l2,0M85,174l4,-1M123,39l1,-1M284,16l1,-3M78,4l3,-1M245,4l1,-2M185,249l0,-3M93,36l1,-1M297,192l4,1M103,138l4,0M0,117l4,-2M32,199l3,0M32,36l1,-1M147,191l1,-2M131,90l4,-3M168,8l4,-2M286,178l1,-2M239,10l2,-2M4,217l3,0M76,172l4,-1M180,233l2,-3M24,201l3,1M93,102l3,0M277,48l0,-2" stroke="#6a50ac" stroke-width="3.0"/>
<path d="M163,112l2,-3M239,111l1,-2M66,128l4,-1M114,195l2,-1M237,52l1,-2M30,41l1,-1M45,36l1,-1M156,149l2,-1M194,160l2,-4M153,51l1,-1M76,101l1,0M11,17l2,-3M232,86l1,-2M201,151l3,-3M10,29l1,-2M142,172l2,-1M206,66l2,-3M108,83l2,-1M89,209l3,-2M187,49l2,-1M227,152l1,-3M308,137l1,-2M204,104l1,-2M182,216l2,-3M195,229l2,-4M60,166l4,-1M81,117l1,0M302,117l0,-1M292,165l2,-1M209,213l1,-2M305,26l2,-4M253,210l3,-1M98,177l2,-2M144,76l2,-2M148,120l3,-3M339,56l0,-1M232,41l2,-2M39,12l1,-1M66,62l3,-2M210,204l2,-2M156,153l3,-4M122,59l3,-1M176,153l1,-1M149,93l3,-2M19,139l5,-1M281,144l2,-3M219,161l3,-3M104,153l2,-1M94,197l2,-1M63,21l3,-2M133,77l1,-1M168,165l1,-2M45,58l2,-2M186,97l1,-2M29,215l2,0M88,50l1,-1M203,28l2,-2M305,247l3,-1M269,81l0,-3M215,68l1,-2M150,253l1,-2M315,14l1,-5M123,159l3,0M304,127l1,-1M231,65l1,-4M236,116l1,-3M306,5l1,-1M291,199l2,-1" stroke="#6a50ac" stroke-width="3.2"/>
<path d="M178,213l3,-3M14,64l2,-2M137,186l2,-1M85,257l3,-3M23,16l1,-1M157,221l1,-2M12,82l3,-2M-1,203l3,0M241,253l1,-1M68,17l3,-1M235,254l2,-1M254,60l2,-3M125,186l3,-3M127,56l3,-2M281,212l3,-1M71,247l2,-1M64,161l4,0M45,165l2,-1M274,251l1,-1M296,29l0,-2M176,251l4,-3M51,131l3,-1M250,124l0,-1M22,201l4,-1M223,47l2,-4M276,178l1,-2M95,200l1,-1M227,245l3,-3M129,12l4,-2M20,123l4,-1M120,254l1,-1M99,151l4,0M176,12l2,-1M156,219l1,-3M320,213l2,1M45,73l3,-2M151,178l1,-1M288,204l4,-1M183,181l3,-2M219,174l2,-1M111,12l2,-3M98,118l3,-1M24,235l4,-1M82,158l4,-1M331,96l2,-3M204,24l2,-2M206,253l1,-1M311,109l1,-3M310,105l1,-2M243,228l2,-2M322,31l1,-4M76,170l3,-1M98,56l2,-1M191,101l2,-3M249,211l2,-2M196,157l2,-3M227,220l3,-2M248,137l2,-4M164,63l3,-3M334,149l1,-1M8,69l4,-2M169,162l2,-2M72,102l4,-1M127,243l2,-3M40,232l4,0M116,152l3,-1M16,32l2,-2M174,109l1,-2M250,139l1,-4" stroke="#6a50ac" stroke-width="3.4"/>
<path d="M24,66l2,-1M293,84l1,-2M241,206l4,-3M9,42l2,-1M306,97l0,-1M4,26l0,-1M73,38l2,-1M159,141l2,-2M16,155l2,1M47,155l3,-2M174,257l2,-4M182,168l2,-4M312,66l0,-3M299,61l1,-2M340,215l2,0M68,145l2,-1M176,163l1,-1M187,173l2,-3M249,117l2,-3M78,1l2,-1M269,126l1,-1M235,165l2,-4M147,9l4,-1M154,172l2,-1M169,175l3,-4M294,172l3,-3M55,77l3,-1M33,257l3,-2M74,37l2,-2M327,256l1,0M18,100l1,-1M172,150l2,-2M295,157l1,-1M245,143l1,-1M285,198l4,-2M296,33l1,-2M333,213l3,0M51,23l4,-2M21,143l5,0M15,111l2,-1M121,126l3,-3M174,10l4,-1M157,25l3,-1M188,199l1,-1M154,220l0,-1M290,194l1,-1M234,155l1,-2M151,135l2,-1M283,156l3,-3M296,231l2,-1M37,191l2,0M35,205l4,0M82,149l2,0M191,129l3,-3M208,43l1,-2M96,78l2,-1M66,101l3,-1M89,243l3,-3M14,145l2,0M333,181l1,-1M178,53l2,-2M216,37l2,-2M49,26l3,-1M24,88l2,-1" stroke="#6a50ac" stroke-width="3.6"/>
<path d="M219,231l1,-2M203,72l1,-4M203,18l1,-2M270,205l3,-1M321,238l3,-1M137,54l3,-1M265,35l0,-4M103,45l4,-2M136,129l2,-1M74,248l1,-1M335,162l1,-1M295,103l1,-1M209,105l0,-3M49,4l4,-1M245,201l1,-2M32,175l3,0M125,146l2,-1M53,158l1,0M88,122l3,-2M122,37l3,-2M127,1l1,0M339,228l3,-1M137,33l3,-2M297,249l4,-1M291,173l2,-1M185,46l3,-3M93,43l3,0M145,189l3,-2M103,65l4,-2M187,135l3,-3M93,116l3,0M256,123l1,-2M244,91l0,-1M232,207l2,-3M164,147l1,-1M236,67l1,-3M1,50l3,-3M202,134l1,-1M315,134l2,-3M98,236l1,-2M241,117l2,-4M68,130l5,-1M232,186l2,-3M131,191l4,-3M220,155l1,-1M119,146l2,0M296,205l4,-1M272,148l2,-4M230,180l2,-3M310,73l0,-1M116,211l4,-3M292,135l1,-2M272,17l0,-1M201,245l1,-2M10,166l4,1M180,15l4,-3M244,28l0,-4M166,57l4,-2M296,248l4,-1M213,158l1,-1M181,197l1,-2M70,68l3,-1M98,82l3,-3M154,105l2,-2M137,195l2,-1M42,84l2,0M66,112l2,0M235,128l0,-2M30,139l4,-2M32,156l2,0M107,192l2,-1M159,174l3,-2M199,53l3,-3M157,229l2,-2M194,148l2,-2M186,139l3,-4M261,15l1,-3M301,101l1,-4M340,238l2,0M59,76l4,0M154,252l1,-2M205,154l1,-1M149,32l2,-3M23,75l1,-1M5,228l3,-1M316,56l-1,-2" stroke="#6a50ac" stroke-width="3.8"/>
<path d="M131,143l2,-1M159,26l3,-2M74,1l2,-1M324,6l0,-1M88,62l1,-1M195,14l2,-2M146,218l2,-4M193,107l1,-1M339,78l-1,-3M304,104l2,-4M107,46l3,-2M172,51l1,-1M290,30l1,-2M143,2l2,0M17,64l2,-1M227,130l2,-1M325,160l4,-2M199,232l2,-1M121,216l1,-2M244,183l3,-3M1,147l3,0M70,175l2,0M337,93l1,-3M7,73l2,-1M203,136l1,-2M228,232l2,-2M298,26l1,-2M282,217l1,-2M47,230l2,-1M129,191l1,-1M234,252l1,-1M64,191l4,1M273,197l2,-1M16,63l3,-3M247,196l1,-1M188,234l2,-4M255,191l3,-4M293,190l1,-1M245,225l1,-1M321,221l2,-1M114,112l3,-3M322,49l1,-1M134,176l1,-1M174,56l1,-1M38,36l1,-1M182,123l1,-1M225,108l2,-4M244,220l3,-2" stroke="#6a50ac" stroke-width="4.0"/>
<path d="M193,41l1,-1M176,183l4,-2M189,134l2,-2M70,221l4,-2M216,72l2,-4M34,55l1,-1M297,218l2,-2M279,24l2,-4M16,56l3,-2M149,118l3,-2M179,123l2,-3M307,126l1,-2M88,251l1,-1M42,17l3,-2M86,18l2,-1M2,199l2,0M177,160l3,-4M72,208l3,-1M21,175l3,0M259,109l1,-2M263,40l1,-1M143,161l3,-3M25,244l3,-3M246,138l1,-3M177,54l1,-1M280,80l0,-1M85,62l1,-2M214,5l1,-1M205,161l1,-5M105,63l4,-2M308,244l2,-2M230,199l2,-3M215,124l1,-4M125,185l3,-2M315,252l2,-1M23,130l1,-1M203,129l1,-2M20,114l3,-1M328,23l1,-3" stroke="#7458b4" stroke-width="2.6"/>
<path d="M160,203l1,-1M231,241l1,-1M38,78l3,-2M137,20l4,-1M139,121l3,-2M208,107l0,-3M35,117l2,0M214,113l2,-4M295,69l2,-4M8,61l4,-3M120,142l3,-2M95,49l4,-3M152,257l2,-2M189,70l1,-1M238,166l2,-4M241,108l1,-3M52,116l4,-3M146,141l2,-3M131,62l3,-1M157,194l2,-3M5,190l4,1M314,95l0,-2M20,239l3,-2M60,162l2,0M91,97l2,-1M163,177l3,-2M183,256l2,-4M166,120l1,-1M301,217l3,-1M299,73l0,-3M30,70l2,-4M21,123l2,0M75,102l4,-2M15,204l1,0M216,198l1,-1M222,140l1,-1M57,220l3,-2M259,104l0,-2M84,180l3,-1M70,74l4,-3M54,234l4,-1M4,93l2,-1M104,192l3,-3M202,204l3,-4M305,238l4,-2M297,31l0,-4M276,131l1,-2M232,139l2,-2M87,128l1,0M93,239l3,-3M170,182l1,-2M275,139l2,-4M274,9l1,-2M153,214l2,-3M272,196l1,-1M224,164l3,-4M3,59l2,-3M270,44l0,-3M132,8l2,-1M17,32l1,-2M181,86l1,-1M122,227l1,-1M59,158l1,0M175,51l3,-2M308,186l3,-2M151,159l4,-2M20,155l4,1M235,66l1,-2M294,78l1,-2M326,212l3,0M106,207l3,-3M139,52l2,-2M33,66l2,-2M165,84l3,-2M19,172l4,-1M132,206l1,-1M338,49l0,-4M169,96l1,-2M272,46l1,-1" stroke="#7458b4" stroke-width="2.8"/>
<path d="M323,229l3,-1M303,134l3,-3M175,181l2,-2M151,83l2,-3M216,35l2,-3M166,88l1,-1M130,232l2,-3M253,178l1,-1M96,5l3,-2M216,116l0,-2M106,218l2,-1M95,201l3,-2M48,136l2,-1M24,129l3,-2M334,46l1,-3M288,154l1,-2M278,219l4,-1M248,16l1,-3M227,132l1,-1M251,75l1,-1M28,4l2,-2M31,166l3,-2M73,172l2,0M219,247l2,-1M295,184l2,-2M196,253l3,-2M251,23l2,-3M314,204l3,-1M302,205l4,0M92,106l3,-2M41,129l3,-1M327,256l3,-1M284,184l4,-2M301,100l1,-1M313,147l1,-2M99,155l2,-1M288,141l1,-2M26,17l4,-2M59,217l2,-1M52,125l3,-1M79,188l2,-1M155,193l2,-1M183,9l4,-2M233,209l2,-3M310,14l1,-2M220,187l2,-3M193,220l2,-4M202,61l1,-1M71,161l2,0M107,41l3,-1M34,30l2,-2M136,176l2,-2M9,40l1,-1M58,132l4,0M68,88l3,-1M287,170l2,-2M232,31l2,-2M318,223l1,0M289,91l1,-3M29,246l1,-1M135,130l1,-1M191,129l3,-2M219,68l2,-3M8,17l1,-1M221,66l1,-3M217,225l1,-1M258,103l1,-3M48,68l2,0M179,54l3,-1M38,37l4,-2M24,133l2,0M103,215l2,-2M291,154l2,-3M65,128l4,-1M297,132l2,-2M319,95l0,-2M155,52l4,-3M80,159l3,0M196,85l2,-4M111,35l4,-2M199,107l1,-2M329,214l2,0M126,225l1,-1M265,33l0,-3M164,188l2,-3M105,164l1,0M269,140l0,-1M254,209l1,-2" stroke="#7458b4" stroke-width="3.0"/>
<path d="M191,171l2,-2M99,65l1,0M332,84l1,-4M301,7l0,-2M263,65l1,-4M72,229l3,-2M147,56l3,-3M134,212l3,-2M230,196l2,-1M26,88l3,-3M324,65l0,-4M142,251l2,-2M310,149l1,-1M203,163l1,-1M90,50l2,-2M62,119l1,-1M260,217l2,-1M0,15l2,-3M242,3l1,-2M337,193l4,-1M158,100l3,-2M94,167l4,-1M246,222l2,-2M192,197l2,-3M89,156l4,-2M88,212l2,-1M60,159l2,0M146,44l4,-2M213,162l1,-4M43,201l4,0M100,95l4,0M289,198l2,-2M5,170l4,-1M114,251l1,-1M43,202l2,0M317,39l1,-4M320,63l2,-4M221,197l1,-3M177,121l1,-2M227,247l3,-2M168,97l2,-4M208,46l1,-1M264,175l1,-2M19,140l2,1M64,85l1,-1M226,177l4,-3M333,43l1,-3M7,129l1,-1M24,1l2,-1M82,29l3,-1M150,192l2,-4M167,151l2,-2M296,153l2,-3M266,121l2,-2M304,236l3,-1M226,203l3,-3M192,110l3,-4M255,253l3,-4M134,162l3,-1M311,147l2,-3M138,9l2,0M287,251l3,-1M59,161l4,0M28,86l3,-1M225,139l1,-3M250,202l3,-3M85,211l2,-1M129,213l1,-1M99,195l2,-2M89,25l3,-3M206,226l3,-3M300,145l2,-2M53,249l2,-2M247,211l1,-1M17,221l3,0M260,246l1,-1M327,4l1,-3M318,99l1,-4M26,253l3,-1M257,39l1,-2M217,233l4,-3M118,253l1,-3M73,197l1,-1M255,35l1,-3M250,222l4,-2M339,13l1,-5M7,130l2,0M300,123l2,-2M13,108l2,-1M82,10l1,-1M134,58l2,-2M121,68l1,-1M236,239l2,-1M227,160l2,-3M131,16l1,-1M3,124l3,-1" stroke="#7458b4" stroke-width="3.2"/>
<path d="M116,41l2,-2M215,112l3,-2M218,246l2,-2M200,127l0,-3M107,196l4,-3M29,171l1,0M60,109l2,-1M238,179l1,-1M26,212l4,-1M64,27l2,-2M22,174l2,1M78,256l2,-3M331,47l0,-2M83,157l2,-2M72,256l3,-2M182,244l1,-2M250,206l2,-2M50,222l4,-1M157,175l1,-3M37,126l1,0M60,27l1,-1M148,153l4,-2M213,88l-1,-5M2,173l2,0M262,63l2,-4M119,192l4,-2M221,187l2,-3M56,246l2,-1M322,167l3,-2M206,169l3,-2M76,119l3,-1M24,105l5,-1M124,20l5,-1M158,146l3,-3M19,28l4,-2M193,104l1,-5M293,155l2,-2M304,166l1,-3M321,25l1,-2M237,89l1,-4M110,32l3,-2M252,216l2,-2M130,130l3,-3M45,65l3,-2M45,139l2,0M168,136l1,-1M122,255l1,-2M65,88l4,-2M289,224l2,-2M125,182l2,-1M174,139l1,-1M121,91l3,-2M247,36l1,-2M192,85l1,-1M249,166l3,-3M25,198l2,-1M41,83l2,-1M142,168l2,-1M103,121l2,-1M73,193l4,-1M159,201l2,-3M8,122l1,0M326,232l4,-2M63,204l3,-2M19,252l4,-2M24,97l5,0M268,22l1,-2M80,245l2,-1M40,136l1,0M128,124l3,-2M139,170l4,-1M74,44l2,-1M3,73l1,-3M16,65l3,-2M293,64l0,-1M33,193l4,1M336,90l1,-2M110,58l1,-2M195,97l1,-2M251,155l2,-3M159,135l3,-3" stroke="#7458b4" stroke-width="3.4"/>
<path d="M289,100l2,-4M99,41l3,-4M270,60l1,-3M314,169l3,-1M203,8l1,-1M96,215l3,-2M140,207l2,-1M283,161l2,-3M156,122l2,-2M121,170l1,-1M130,121l5,-2M136,111l2,-2M212,54l1,-4M297,105l2,-4M168,204l1,-2M201,14l1,-1M273,178l1,-1M228,101l1,-3M185,16l2,-2M130,91l2,-1M38,245l4,-1M115,23l2,-1M10,47l2,-3M76,67l2,-1M162,43l1,-1M227,54l1,-3M338,67l0,-2M266,63l0,-4M260,108l1,-2M152,48l1,0M95,170l2,-1M51,241l3,-3M215,21l2,-3M305,75l0,-2M171,124l2,-1M114,187l4,-2M304,102l2,-2M68,32l3,-2M197,188l3,-3M144,108l2,-1M96,99l2,-1M274,223l1,-1M115,76l2,-1M309,192l3,-1M315,17l1,-2M179,89l0,-1M191,96l1,-2M170,222l2,-3M222,160l1,-3M200,200l1,-2M334,188l4,-1M12,81l2,-2M199,82l1,-3M85,46l3,-1M67,133l3,-1M22,94l4,-1M307,186l4,-2M199,56l3,-2M185,200l1,-3M298,253l3,1M52,232l3,-1M256,172l3,-3M178,41l1,-2M302,126l1,-2M251,84l2,-3M193,114l1,-3M154,148l3,-2M147,133l3,-4M268,211l2,-3M84,128l3,-1M156,136l3,-3M269,23l1,-2M31,166l3,0M119,168l2,-2M26,124l2,0M128,89l2,-2M156,154l2,-2M303,145l1,-3" stroke="#7458b4" stroke-width="3.6"/>
<path d="M23,105l3,0M14,208l4,-1M262,73l0,-2M156,102l3,-3M1,103l4,-1M44,169l2,-1M149,118l1,-3M196,41l1,-1M50,177l4,0M163,142l2,-1M172,23l1,-1M194,128l1,-3M286,64l2,-2M255,61l2,-3M64,38l3,-1M124,78l2,-2M235,202l3,-2M117,36l2,-1M275,177l3,-3M28,5l4,-2M235,118l1,-4M333,38l1,-1M4,191l3,1M56,91l2,-1M195,25l3,-2M318,196l2,-1M181,13l1,-1M114,25l1,-1M243,110l2,-3M200,208l3,-4M307,197l3,-1M192,33l1,-2M192,79l2,-4M330,217l2,0M159,220l3,-3M34,146l2,0M134,118l3,-1M69,247l2,0M302,165l1,-1M154,196l2,-2M335,180l3,-2M101,214l3,-2M126,55l3,-3M134,139l2,-1M139,192l3,-2M194,137l1,-4M93,211l1,-1M331,72l2,-3M89,132l2,0M137,51l3,-2M208,30l1,-1M89,53l3,-1M122,63l2,-2M326,85l1,-1M113,214l2,-1M170,84l1,-1M224,45l1,-1M257,46l1,-2M246,130l2,-4M231,218l1,-2M0,40l1,-1M309,71l0,-4M322,210l3,0M175,174l1,-1M224,92l0,-4M314,218l4,0M241,136l2,-2M168,168l2,-2M161,245l0,-2M326,30l1,-3M68,107l3,-2M271,218l1,-2M141,133l2,-2M152,197l1,-1M337,25l1,-4M256,44l1,-4M80,187l4,-1M216,64l1,-3M241,174l2,-3M89,249l2,-3M312,16l0,-5M323,211l3,-1M82,20l1,0M273,193l2,-1M39,165l3,1M155,105l2,-2M191,221l2,-2M251,84l0,-4M282,129l1,-2M230,188l2,-3M258,198l4,-2" stroke="#7458b4" stroke-width="3.8"/>
<path d="M142,68l4,-3M73,191l4,0M157,58l2,-2M78,100l2,0M319,210l3,-1M134,189l2,-2M141,27l2,-1M234,114l1,-2M206,176l3,-2M28,238l3,-1M116,26l2,-1M54,92l3,-2M230,143l1,-2M63,235l2,-1M206,244l0,-2M41,120l3,-1M82,249l3,-3M13,217l4,-1M164,159l1,-2M94,32l2,-1M284,146l0,-1M258,129l2,-3M274,165l2,-2M16,4l3,-2M235,187l1,-1M197,32l2,-3M58,190l2,1M15,110l3,-1M19,75l3,-1M106,238l3,-3M147,63l3,-2M275,237l2,-2" stroke="#7458b4" stroke-width="4.0"/>
<path d="M84,66l1,-2M329,198l2,0M249,239l4,-2M207,27l1,-1M76,20l2,-1M337,148l3,-2M104,193l3,-2M214,177l1,-3M57,44l2,-1M33,154l4,0M106,111l3,-1M53,50l3,-3M125,195l2,-2M167,92l1,-1M30,174l3,0M199,181l1,-3M312,10l1,-1M294,193l4,-2M308,191l3,0M204,235l2,-3M140,143l2,-2M14,15l2,-4M121,244l1,-3M243,32l3,-4M266,2l2,-2M139,52l3,-1M202,134l2,-3M131,207l2,-2M244,234l3,-4M250,144l0,-1M247,226l1,-1M338,111l2,-2M204,101l0,-2" stroke="#8466c0" stroke-width="2.6"/>
<path d="M141,18l4,-3M122,226l2,-2M87,40l2,-1M238,116l1,-5M309,94l0,-2M321,75l1,-2M200,45l1,-3M117,74l3,-2M254,52l0,-3M226,88l0,-4M102,139l2,0M340,234l4,-2M337,75l0,-4M187,80l3,-3M77,64l5,-1M115,97l2,0M252,39l0,-2M172,80l2,-3M177,162l2,-4M337,163l2,-1M52,85l3,-2M298,233l3,-2M134,215l3,-3M121,126l3,-1M234,110l1,-3M130,1l3,-1M17,86l1,-1M52,101l1,-1M86,123l4,-1M218,239l1,-1M180,129l1,-4M188,67l2,-2M301,163l2,-2M24,23l3,-3M152,84l1,-1M194,130l1,-2M123,210l2,-1M321,32l0,-4M238,216l1,-1M168,74l3,-3M133,174l4,-1M340,134l3,-2M6,63l3,-3M109,224l2,-1M58,236l4,-1M75,250l4,-1M25,85l3,-2M307,199l4,-1M250,155l1,-2M269,202l1,-1M138,223l1,-2M282,42l1,-4M339,95l2,-3M280,156l3,-2M27,219l2,0M1,163l2,0M149,234l2,-4M135,31l4,-2M95,71l4,-1M32,108l3,-2M107,209l2,-1M233,32l0,-4M58,205l4,-2M147,74l3,-3M270,78l0,-2M162,41l1,-2M8,109l1,0M185,32l2,-2M227,224l1,-1M338,91l1,-2M244,2l2,-4M5,65l3,-3M202,43l2,-3M225,257l3,-3M199,31l1,-2M78,229l1,-1M98,6l3,-1M72,229l1,-1M47,189l2,0M325,75l1,-3M334,104l2,-3M81,186l3,-1M209,249l1,-2M333,16l2,-3M209,153l2,-4" stroke="#8466c0" stroke-width="2.8"/>
<path d="M150,117l3,-3M167,158l3,-3M297,198l1,-1M225,142l3,-4M279,189l5,-1M94,104l2,-3M298,213l4,-2M121,170l2,-2M324,226l3,0M258,112l1,-4M111,173l3,-1M333,200l2,0M5,217l3,0M78,216l2,-1M55,13l1,-3M80,166l3,-1M64,84l1,-1M222,83l1,-4M296,194l4,-1M74,177l3,0M173,213l0,-1M271,42l2,-3M70,100l4,-1M334,62l0,-2M180,135l1,-3M98,235l3,-2M189,204l1,-2M85,175l2,-1M131,165l2,-1M125,211l1,-1M265,252l3,-1M301,62l1,-4M223,65l1,-3M305,216l4,-2M253,170l1,-2M43,128l2,-1M318,191l1,0M286,106l1,-1M29,162l2,-1M176,169l2,-3M127,178l1,-2M128,45l3,-1M224,255l2,-3M255,110l1,-4M246,44l1,-2M263,5l3,-3M71,28l1,0M0,22l1,-2M187,68l2,-4M48,156l1,0M168,118l2,-1M31,178l4,0M200,102l2,-2M152,110l2,-2M250,231l2,-4M179,186l3,-3M251,121l1,-3M325,202l5,-1M53,153l3,0M6,171l2,-1M276,244l3,-2M272,145l2,-4M3,2l1,-2M51,234l1,-1M17,213l4,1M236,157l2,-4M213,204l2,-2M153,221l2,-2M18,221l2,-1M339,244l4,-1M225,46l1,-2M249,100l1,-2M73,4l2,-1M117,255l1,-1M99,231l1,-1M159,115l2,-3M77,234l2,-1M303,25l0,-3M12,48l1,-1M228,130l0,-2M322,219l3,1M87,213l1,-1M15,155l3,-1" stroke="#8466c0" stroke-width="3.0"/>
<path d="M134,197l1,-2M58,187l1,-1M328,238l2,0M150,247l2,-2M37,51l3,-3M271,246l2,-2M36,243l5,-1M230,149l1,-3M60,94l2,0M124,115l2,-1M61,68l4,-1M339,189l2,-1M153,85l1,-2M149,106l2,-1M229,182l2,-2M239,244l2,-2M152,4l3,-1M4,128l1,-1M73,203l4,-1M6,147l4,-1M57,199l2,-1M217,107l2,-3M242,24l1,-1M176,133l2,-4M1,40l2,-3M23,200l1,0M284,221l4,-1M22,98l4,-1M241,244l2,-1M72,244l1,-1M187,241l0,-1M129,97l2,-2M46,70l1,-1M339,79l1,-3M228,28l0,-2M64,62l1,0M114,41l4,-1M207,226l1,-1M215,214l1,-1M237,95l1,-3M68,193l4,0M76,202l4,-1M23,22l3,-3M290,12l1,-3M117,146l2,-2M103,238l2,-1M174,33l2,-1M172,67l2,-3M175,39l1,-2M38,195l2,0M284,103l1,-2M10,185l3,0M176,20l1,-2M85,108l3,-1M187,111l3,-3M155,255l2,-2M337,7l0,-5M122,243l1,-2M113,58l2,-1M248,195l1,-1M290,138l1,-1M66,158l4,-1M36,140l3,0M297,248l3,-2M150,163l2,-1M243,16l3,-3M29,221l2,0M238,6l2,-4M181,179l1,-2M71,89l4,-1M237,182l3,-3M191,87l2,-4M193,163l0,-1M82,15l3,-1M141,133l3,-1M105,72l2,-3M34,44l1,0M130,98l2,-2M61,53l3,-3M5,33l3,-3M92,197l2,0M260,207l3,-2M289,175l4,-1M67,18l2,-2M173,74l1,-1M239,145l2,-4M274,159l2,-4M89,28l2,-2M48,233l3,-3M76,42l4,0M220,48l2,-3M124,194l3,-2M189,68l2,-2M131,140l3,-2M166,253l1,-3M243,88l1,-1M322,235l2,0M145,93l4,-2M300,142l3,-3M176,219l1,-4M219,140l2,-4M167,129l0,-1M87,32l2,-4M131,28l3,-2M142,139l3,-2M64,14l2,-2M14,160l5,1M245,135l1,-1M298,36l1,-3M199,251l1,-1M20,256l4,-1M87,71l3,-1M270,36l1,-3M0,110l2,-2M109,212l4,-3M139,145l1,-1M45,12l2,-3M152,89l1,-1M226,72l2,-3" stroke="#8466c0" stroke-width="3.2"/>
<path d="M259,53l0,-2M76,241l3,-2M40,149l3,-1M53,251l3,-3M244,153l0,-2M110,238l2,-2M29,209l4,0M38,230l3,-1M268,220l4,-1M80,71l2,0M230,29l2,-2M166,190l3,-3M-1,182l4,0M85,243l4,-2M330,217l2,0M110,124l3,-2M193,122l0,-1M172,138l2,-1M53,94l3,0M239,133l1,-2M105,241l1,-2M140,17l3,-1M22,136l2,0M208,242l1,-3M207,107l2,-4M196,245l2,-3M206,120l1,-1M197,175l3,-2M221,191l2,-2M125,220l1,-1M114,75l4,-1M202,102l2,-3M321,156l3,-2M328,150l2,-1M338,81l0,-3M336,27l-1,-4M74,84l5,-1M190,21l2,-1M144,52l1,-1M81,200l3,0M302,168l2,-1M169,253l1,-1M279,36l0,-3M191,234l2,-3M95,20l1,-1M186,25l1,-3M262,52l0,-2M230,219l3,-3M181,81l3,-3M156,126l2,-2M207,95l1,-2M298,2l1,-1M123,163l2,-1M309,184l3,-2M310,129l1,-2M7,154l2,-1M146,123l3,-3M9,28l2,-2M21,185l2,0M178,163l1,-1M145,226l3,-3M43,122l4,-1M48,191l2,0M335,215l3,0M39,256l3,-1M316,56l1,-3M337,213l2,-1" stroke="#8466c0" stroke-width="3.4"/>
<path d="M84,154l4,-3M16,147l2,-1M329,217l4,0M214,225l1,-1M25,228l2,0M275,171l1,-1M35,216l4,0M161,123l1,-1M227,93l3,-3M166,215l1,-4M262,225l2,-2M240,228l2,-2M256,139l1,-3M319,73l0,-4M276,185l3,-2M183,147l3,-2M244,38l1,-3M225,237l2,-1M45,254l4,-1M178,179l1,-1M303,113l2,-2M48,233l4,-2M120,108l4,-1M191,37l3,-2M15,190l3,1M87,191l1,-1M165,131l1,-2M106,87l4,-3M291,34l2,-4M317,216l1,-1M325,217l4,-1M102,129l4,-2M157,60l2,-3M127,236l1,-1M148,229l2,-4M246,81l0,-2M61,257l2,-2M0,139l3,-1M104,43l3,-1M206,211l1,-1M301,174l3,-1M147,146l3,-3M186,215l2,-2M122,67l3,-2M83,63l3,-1M264,210l3,-3M32,241l1,-1M199,207l2,-1M97,142l3,-1M121,27l1,0M142,227l2,-3M272,50l1,-4M55,97l1,0M224,71l2,-4M42,37l3,-2M240,164l2,-3M88,240l2,-2M145,195l2,-4M237,17l1,-4M278,25l2,-3M267,34l3,-3M260,154l2,-3M190,87l2,-3M184,187l3,-4M191,9l5,-1M75,202l3,-1M88,107l4,-1M121,104l4,-2M66,81l3,0M15,47l2,-1M94,214l4,-1M243,186l3,-2M292,33l1,-2M202,143l2,-2M256,180l2,-2M312,27l1,-3" stroke="#8466c0" stroke-width="3.6"/>
<path d="M133,252l1,-1M322,69l0,-2M140,181l2,-2M64,193l4,-2M116,74l4,-1M49,131l2,-1M98,124l5,0M33,2l1,-2M147,175l1,-1M142,131l1,-2M101,256l1,-2M327,82l0,-2M232,146l2,-2M156,7l3,-1M235,201l1,-2M340,192l2,-1M19,232l4,-1M248,235l1,-1M51,117l2,0M183,79l2,-2M117,28l2,-1M296,85l1,-3M13,113l2,0M253,56l2,-4M172,158l2,-3M60,168l3,-1M185,130l1,-1M109,119l3,-2M75,6l4,-1M232,173l1,-2M210,58l3,-2M213,169l1,-1M289,170l2,-4M234,254l2,-1M205,41l1,-2M10,51l3,-2M188,32l1,-1M18,104l3,-1M299,170l4,-3M38,139l1,0M215,157l1,-1M197,1l3,-3M102,203l3,-1M328,165l3,-2M129,78l1,-1M41,113l4,-2M298,201l2,-3M200,70l1,-3M174,145l1,-3M152,74l2,-1M182,195l2,-3M152,253l1,-2M46,70l3,-2M70,36l4,-3M329,141l2,-3M92,149l4,-2M218,54l2,-4M248,13l2,-2M60,17l4,-1M193,86l0,-2M280,20l2,-2M46,96l2,-1M142,140l4,-2M78,229l2,-1M325,30l1,-2M247,152l2,-3M61,162l4,-1M316,153l5,-1M141,244l2,-4M68,204l2,-1M329,17l1,-3M225,125l2,-3M232,203l1,-3M16,207l4,-1M51,228l2,-1M238,84l1,-3M190,65l2,-3M116,105l4,-1" stroke="#8466c0" stroke-width="3.8"/>
<path d="M17,31l1,-1M125,123l2,-2M142,173l3,-3M196,218l1,-2M51,161l4,0M124,146l2,-2M19,42l1,-1M30,107l4,-1M125,160l3,-1M73,22l4,-1M309,190l4,-2M98,197l3,-2M190,202l3,-3M38,90l3,-1M54,23l3,-2M289,104l1,-3M62,233l4,-2M290,177l2,-2M46,124l4,-1M270,127l1,-3M127,17l3,-2M247,168l1,-2M44,45l4,-2M304,52l3,-4M265,8l2,-3M280,21l0,-2M64,175l4,0M69,66l1,-1M252,107l0,-3M121,77l2,-1M24,10l1,-2M223,144l2,-4M203,126l1,-2M317,148l2,-2M176,16l4,-2M12,150l3,0M322,27l1,-4M39,137l4,-1M3,236l5,-2M255,239l2,-1M270,189l1,-1M238,18l3,-3" stroke="#8466c0" stroke-width="4.0"/>
<path d="M190,91l1,-3M124,108l3,-1M6,87l1,-2M98,143l1,-1M305,248l4,-2M153,227l1,-5M140,137l3,-2M316,6l1,-4M79,46l3,-2M296,158l1,-1M6,177l2,0M280,167l2,-2M121,62l1,0M162,70l3,-3M335,122l1,-2M64,198l1,-1M271,254l4,-3M5,24l2,-3M89,216l3,-3M225,174l2,-4M125,203l0,-1M235,38l0,-2M248,226l3,-2M283,49l1,-4M312,114l0,-5M149,208l2,-2M75,207l4,-1M127,144l2,-3M26,213l1,0M304,237l3,-1M145,151l2,-4M236,48l1,-1M163,37l2,-2M328,80l2,-2M125,242l2,-2M187,22l2,-3M52,234l3,-1M184,249l1,-2M118,175l1,-1M108,59l2,-1M302,229l4,-2M180,208l2,-2" stroke="#8c62b4" stroke-width="2.6"/>
<path d="M228,206l1,-2M170,227l2,-2M43,84l4,-2M127,85l2,-1M270,249l2,-2M-1,223l3,0M108,219l2,-1M194,61l1,-3M281,55l0,-3M183,182l3,-3M27,235l4,-2M176,193l2,-2M306,65l-1,-5M236,251l4,-1M67,199l4,0M312,98l1,-4M212,125l2,-4M339,210l5,-1M73,257l2,-2M20,41l1,-1M294,102l1,-3M201,93l2,-3M214,69l2,-2M46,3l3,-3M215,186l1,-2M200,9l2,-1M206,207l2,-2M222,134l1,-2M272,211l4,-2M80,128l2,-1M187,211l2,-4M18,146l3,0M123,158l4,-1M295,37l0,-1M23,16l1,-1M316,204l2,0M208,158l2,-4M248,145l1,-4M57,128l3,-1M117,159l2,-2M113,7l2,0M179,111l1,-2M251,15l2,-4M296,242l2,-1M113,138l1,-1M336,194l2,0M111,56l4,-1M12,125l2,0M3,85l1,-1M297,108l2,-4M50,161l5,-1M257,242l3,-2M177,249l0,-1M75,55l4,-2M264,158l2,-3M28,101l5,0M33,116l4,0M44,98l4,0M149,197l1,-1M161,151l1,-2M181,110l2,-3M55,78l1,0M253,110l1,-3M22,70l3,-1M56,198l3,0M286,235l2,-1M101,222l4,-3M317,54l2,-4M102,233l3,-3M227,243l2,-1M165,184l2,-2M17,26l3,-3M35,37l3,-2M104,177l3,-2M82,27l3,-2M58,61l4,-2M90,96l4,0M229,27l1,-2M12,145l3,-1" stroke="#8c62b4" stroke-width="2.8"/>
<path d="M123,213l2,-2M190,243l1,-2M91,217l3,-1M142,253l0,-3M63,126l2,0M302,239l3,-1M181,141l4,-2M20,217l2,1M245,212l2,-3M225,85l2,-4M85,128l2,0M298,145l3,-3M178,209l1,-3M196,203l3,-2M45,203l3,0M8,206l4,-1M109,25l2,0M321,216l2,0M60,32l4,-2M123,89l3,-2M202,12l2,-2M178,112l1,-1M167,166l2,-2M315,15l0,-1M143,84l4,-3M33,124l3,-1M45,3l2,-1M31,241l3,-1M130,21l2,-1M96,58l2,-2M171,92l3,-4M95,203l4,-2M271,256l5,0M306,252l3,-2M225,153l2,-2M283,208l2,-1M266,229l3,-4M92,200l2,-1M96,25l2,-1M164,45l2,-1M280,171l3,-3M271,42l0,-2M167,212l3,-3M203,255l1,-5M115,244l1,-2M316,31l3,-4M93,66l3,-1M147,159l1,-1M230,210l1,-2M51,117l3,-2M309,134l1,-1M112,173l1,-1M308,122l2,-4M323,221l2,0M140,95l2,-1M258,150l3,-3M134,211l2,-2M294,249l4,-2M102,111l5,-1M21,30l4,-3M86,151l4,-2M288,217l2,0M60,102l3,-1M337,66l1,-1M258,110l0,-3M144,72l1,-1M196,206l1,-3M108,137l3,-1M101,78l3,-2M94,232l1,-1M236,151l1,-1M130,216l1,-2M226,194l3,-2M147,214l2,-3M194,183l3,-3M182,123l1,-2M296,23l0,-3M334,16l0,-3M253,37l1,-2M132,134l3,-3M9,130l3,-1M100,168l1,0M217,45l1,-2M112,95l3,-1M127,121l3,-2M120,17l2,-1M146,74l3,-3M254,84l1,-4M221,146l2,-4M187,101l2,-3M264,116l0,-2M170,80l3,-2M56,121l3,-1M280,97l2,-4M332,43l0,-2M258,207l1,-1M323,184l3,-1M285,150l2,-1M14,3l3,-3M163,55l2,-3" stroke="#8c62b4" stroke-width="3.0"/>
<path d="M245,195l2,-2M221,211l2,-2M312,210l3,-1M257,246l3,-3M33,229l4,-2M294,143l1,-1M230,106l1,-3M149,226l1,-4M51,232l3,-1M77,165l2,-1M53,159l2,0M159,176l3,-4M78,46l4,-1M325,13l1,-3M134,78l2,-1M11,181l2,1M205,217l0,-1M51,154l2,0M57,75l3,-2M314,75l1,-2M253,202l3,-1M280,173l4,-2M135,130l4,-3M162,203l3,-2M173,188l4,-2M312,121l3,-4M154,138l4,-2M46,165l2,1M54,142l1,0M27,66l4,-2M330,197l4,-2M69,80l2,0M84,98l3,-1M57,254l2,-1M335,132l1,-1M38,229l1,-1M161,243l1,-3M82,125l4,-2M238,226l3,-3M37,2l2,-1M174,2l2,0M302,30l0,-1M271,51l1,-1M132,98l4,-2M199,123l1,-3M147,143l1,-1M193,258l2,-3M4,64l3,-2M163,131l2,-1M226,196l1,-2M38,227l2,0M267,6l1,-2M117,141l3,-3M228,149l1,-4M163,45l1,0M114,24l3,-1M173,59l1,-1M208,74l2,-2M107,97l2,-1M40,146l4,-1M184,131l3,-3M157,89l1,-1M6,60l2,-4M281,139l2,-4M190,185l1,-1M258,145l1,-1M132,31l2,-1M73,249l1,-1M202,253l1,-1M62,225l3,-2M54,245l2,-1" stroke="#8c62b4" stroke-width="3.2"/>
<path d="M20,89l2,-2M207,42l1,-3M38,209l3,0M234,29l0,-2M251,191l3,-2M305,34l1,-3M269,31l1,-2M218,11l3,-3M9,28l2,-2M229,225l2,-4M0,222l3,-1M281,79l1,-2M306,241l3,-1M110,253l1,-3M111,97l2,-2M0,33l2,-4M260,118l2,-4M316,73l0,-5M191,171l1,-2M287,53l0,-1M310,242l3,-1M54,15l2,-2M18,253l3,0M219,86l1,-3M187,248l3,-4M341,97l1,-1M180,123l1,-2M333,170l3,-2M310,158l1,-1M177,75l3,-2M153,105l2,-3M76,16l2,-1M63,150l4,-1M120,243l3,-2M58,233l3,-2M55,101l3,-1M103,35l3,-2M122,247l1,-3M286,185l3,-1M62,74l1,-1M319,252l4,-1M192,231l2,-2M65,20l1,-1M232,168l1,-3M222,206l1,-3M188,148l2,-2M191,179l3,-3M149,85l1,-1M25,101l4,2M79,80l1,0M50,2l3,-2M143,177l2,-1M249,257l2,-3M248,45l1,-2M3,157l3,0M256,48l0,-3M143,7l2,-1M55,210l3,0M56,220l1,0M78,189l2,0M245,113l1,-3M140,192l2,-2M282,232l3,-2M14,123l4,-1M271,127l2,-4M271,62l0,-1M193,41l2,-4M172,29l3,-2M7,56l3,-4M245,191l2,-3M264,129l2,-3M41,165l4,-1M91,6l2,-2M94,124l3,-1M141,96l1,-1M19,108l3,0M306,42l0,-1M75,58l1,-1M91,233l4,-2M267,150l1,-2M161,14l3,-3" stroke="#8c62b4" stroke-width="3.4"/>
<path d="M144,193l2,-3M142,243l2,-4M35,42l2,-2M142,82l2,-2M309,103l1,-4M29,83l3,-2M24,132l5,0M321,148l2,-3M5,22l1,-1M227,189l1,-3M279,238l2,-3M209,91l0,-2M86,233l2,-2M160,91l2,-2M189,20l1,-1M163,90l1,-1M175,180l2,-3M264,14l1,-5M338,97l1,-3M5,133l3,-1M80,139l2,-1M261,36l1,-2M314,113l1,-2M155,4l4,-2M60,14l3,-3M297,161l2,-2M154,235l3,-4M211,175l1,-3M125,239l1,-1M102,146l3,-3M281,222l3,-3M146,125l1,-1M239,195l2,-2M15,39l3,-3M288,82l0,-2M33,183l3,0M82,16l4,0M114,30l3,-1M285,134l3,-4M176,198l1,-3M15,139l2,0M81,147l1,-1M285,204l3,-2M94,52l3,-2M104,45l3,-2M128,114l2,-1M322,235l3,-1M143,159l2,-2M286,62l0,-5M8,94l3,-1M216,203l2,-4M131,155l3,-3M92,169l4,0M192,21l3,-3M257,112l1,-1M128,117l1,0M28,206l3,-1M233,74l0,-2M338,138l1,-2M12,165l2,-1M236,83l2,-4M20,174l1,0M176,100l1,-1" stroke="#8c62b4" stroke-width="3.6"/>
<path d="M97,220l2,-3M105,95l1,0M122,6l1,-1M185,123l2,-4M137,111l2,-1M34,8l3,-2M199,80l2,-4M127,142l2,-1M119,154l3,-2M63,180l4,-1M173,8l2,-2M77,216l1,-1M105,45l2,-1M83,63l3,-1M234,206l1,-1M149,28l4,-1M246,19l2,-2M13,19l1,-2M220,151l3,-2M183,225l0,-2M32,234l2,-1M226,186l1,-3M320,171l2,-1M141,183l3,-3M176,232l3,-3M138,76l4,-2M104,129l1,-1M260,191l2,-1M67,139l2,0M285,134l2,-4M259,189l3,-2M123,51l3,-3M154,158l3,-3M69,60l2,-1M70,3l2,-1M283,171l3,-2M155,37l3,-3M286,91l1,-4M201,103l1,-1M304,69l0,-2M97,83l4,-2M114,41l2,-1M24,159l2,0M245,78l2,-4M74,78l3,-1M133,234l2,-4M83,170l4,-1M312,204l4,0M27,172l2,0M108,245l1,-2M4,32l1,-3M268,250l3,-3M294,180l3,-2M287,91l0,-2M325,127l2,-2M193,245l1,-1M246,105l0,-3M3,147l2,-1M246,12l1,-3M103,238l1,-1M119,62l4,-3M309,243l3,-1M168,251l2,-4M212,113l1,-3M130,104l2,-2M177,24l2,-3M283,166l1,-1M203,97l0,-2M106,134l3,-2M182,142l2,-2M298,238l2,-1M59,86l4,-3M173,16l3,-2M42,246l2,-1M147,151l3,-3M69,10l2,-1M57,14l1,-1M194,37l2,-3M113,141l2,-1M216,137l1,-2M136,179l2,-2M227,251l1,-2M231,243l2,-2M333,40l0,-1M213,119l0,-4M186,193l3,-3M286,69l2,-4M204,244l3,-4M89,189l3,-2M269,1l1,-1M89,36l1,-1M233,110l1,-3M78,163l3,0M231,78l0,-3M172,111l3,-3M2,61l3,-3M178,91l2,-2M190,68l1,-1" stroke="#8c62b4" stroke-width="3.8"/>
<path d="M77,30l4,0M301,242l2,0M285,127l3,-3M123,70l3,-1M323,6l1,-4M141,248l1,-3M118,185l3,-2M47,20l3,-2M173,202l2,-3M84,112l4,-1M173,112l2,-2M184,27l1,-1M21,199l3,-1M109,91l1,-1M110,7l1,-1M333,218l4,0M163,180l1,-1M116,28l2,-1M12,41l1,-3M317,117l1,-2M340,24l0,-2M247,162l2,-3M167,40l4,-2M175,38l3,-2M248,129l2,-4M35,40l2,-1M160,167l2,-4M26,11l3,-3M74,226l4,-1M256,240l3,-2M34,174l1,0M177,256l1,-2M185,217l2,-4M76,52l4,-1M208,119l1,-3M90,76l4,-1M77,163l3,-1M276,231l2,-1M294,223l2,-1M273,10l2,-3M247,82l0,-2M234,129l2,-4M144,9l2,-1M294,31l1,-3M48,111l2,-1M179,248l1,-3" stroke="#8c62b4" stroke-width="4.0"/>
<path d="M340,34l0,-2M34,17l3,-3M190,188l2,-3M306,84l1,-4M324,180l3,-1M316,171l3,-1M31,223l5,-1M260,255l3,-2M157,153l3,-2M21,58l3,-1M341,38l0,-4M26,208l3,1M196,183l1,-2M196,252l0,-1M53,194l2,0M276,135l1,-2M165,68l1,-2M267,202l2,-3M333,253l3,-1M61,152l1,0M16,13l2,-2M84,61l3,-1M44,99l3,0M238,191l1,-1M241,172l3,-3M304,209l4,-1M141,254l2,-2M31,218l1,0M182,200l1,-2M14,199l3,1M340,75l1,-5M310,74l1,-2M17,141l4,1M83,85l3,-1M32,3l2,-3M196,156l3,-4M151,210l2,-4" stroke="#9a80cc" stroke-width="2.6"/>
<path d="M168,2l4,-1M268,62l0,-3M49,122l3,-1M122,119l3,-3M142,169l4,-3M307,14l0,-3M158,63l2,-2M225,186l1,-2M59,93l3,-2M156,32l3,-1M319,20l1,-3M226,41l2,-4M278,9l1,-1M3,157l3,-1M9,13l1,-2M145,247l1,-2M17,55l3,-3M7,234l2,0M253,25l1,-2M251,191l1,-2M277,219l1,-1M10,176l3,-1M155,223l4,-3M193,13l3,-3M254,214l1,-1M138,114l2,-1M8,145l1,-1M126,30l1,-1M258,225l4,-3M27,181l4,-1M135,233l3,-4M233,143l1,-2M31,6l2,-2M321,24l0,-2M246,252l1,-1M231,82l1,-4M130,231l2,-2M91,160l2,-1M279,215l3,-2M12,108l3,0M264,227l3,-2M283,38l1,-2M51,16l3,-1M272,198l3,-1M278,15l0,-1M254,221l3,-3M335,114l2,-2M36,221l2,0M257,235l4,-2M256,28l2,-3M293,160l3,-3M302,75l1,-4M268,153l1,-2M0,35l1,-1M180,108l1,-2M294,50l0,-4M298,13l1,-2M289,165l3,-1M51,6l4,-1M305,214l4,-2M261,1l1,-1M58,15l4,-2M115,255l1,-2M212,209l1,-1M30,219l3,-1M276,119l1,-2M271,102l0,-4M177,256l2,-3M7,196l2,0M219,207l2,-2M245,79l2,-3M158,41l2,-1M49,71l4,-1M181,21l4,-2M144,204l2,-4M334,97l1,-3M309,71l2,-4M229,194l2,-3M77,67l3,-2M58,228l4,-1M273,206l2,-2M43,187l2,-1M226,103l0,-5M109,173l2,-2M54,31l1,-1M24,139l2,0M20,102l3,-1M238,26l2,-3M78,213l1,0M46,181l3,-1M310,160l3,-2M231,169l1,-2M338,165l3,-2M261,56l1,-1M53,54l3,-3" stroke="#9a80cc" stroke-width="2.8"/>
<path d="M118,104l3,-1M174,177l2,-2M209,153l2,-3M188,212l1,-1M258,214l2,-2M95,54l3,-2M78,57l4,-1M307,236l2,-1M202,53l1,-1M280,244l3,-1M47,127l4,-1M196,213l2,-3M14,37l3,-2M291,36l0,-4M4,161l2,0M61,240l2,-1M12,205l5,0M35,34l2,-1M322,251l3,0M7,17l3,-1M288,16l1,-3M261,165l0,-3M284,218l3,-1M337,58l2,-4M243,188l3,-3M201,134l2,-2M320,4l1,-2M186,51l2,-4M318,31l0,-3M138,230l1,-1M114,53l2,-2M224,188l1,-4M233,134l1,-4M277,2l3,-3M299,238l4,-1M316,187l2,0M76,188l1,-1M325,40l0,-3M35,34l3,-3M290,129l1,-2M131,115l3,-1M71,84l5,-1M291,18l0,-1M62,112l1,0M326,154l1,-1M147,163l1,-1M227,246l2,-2M185,93l1,-1M122,138l2,-1M279,130l2,-4M142,41l4,-2M97,68l3,-1M244,186l3,-3M341,180l2,0M278,242l1,-1M279,18l1,-3M96,177l4,-2M104,23l2,-1M106,221l4,-2M222,51l1,-3M323,44l1,-4M123,34l2,-1M230,184l3,-2M129,68l2,-1M313,221l2,-2M246,216l2,-1M338,230l2,-1M294,211l2,-1M51,50l2,-1M197,103l1,-1M254,170l1,-2M99,225l2,-2M253,242l2,-2M59,151l4,0M284,199l4,-2M97,101l4,-2" stroke="#9a80cc" stroke-width="3.0"/>
<path d="M162,255l1,-1M223,183l1,-2M147,72l4,-3M150,92l1,-1M58,226l2,-1M251,175l2,-2M328,76l0,-1M299,28l1,-4M109,217l3,-2M269,151l3,-3M167,81l1,-1M34,89l3,0M322,148l3,-2M301,198l2,-1M125,229l2,-2M110,91l2,-1M151,9l1,-1M206,114l2,-3M262,251l2,-2M136,133l2,-3M326,194l4,2M288,217l3,-1M285,181l1,-3M239,201l3,-3M99,82l2,-1M31,257l1,-1M88,160l4,-1M246,241l2,-2M162,160l3,-2M206,108l2,-3M297,7l1,-4M172,133l2,-3M266,127l1,-4M316,23l0,-3M217,157l2,-2M152,44l3,-3M211,217l4,-3M27,13l1,-1M194,231l1,-1M101,49l2,-1M338,210l3,0M35,90l3,-3M340,252l5,-1M146,164l3,-3M70,215l3,-1M291,94l-1,-4M163,150l3,-2M58,56l2,-1M314,131l1,-1M203,146l2,-3M211,132l1,-1M88,24l2,-1M8,155l4,1M104,116l2,-1M282,142l2,-3M283,3l2,-2M339,236l2,0M18,112l4,-1M85,211l3,-2M101,9l2,-1M282,13l2,-3M276,202l4,-1M243,192l2,-3M5,14l2,-3M336,200l3,-2M220,173l4,-3M115,20l2,-1M144,35l3,-1M57,145l3,-1M141,168l2,-1M161,42l3,-2M91,73l1,0" stroke="#9a80cc" stroke-width="3.2"/>
<path d="M113,119l4,-2M104,65l4,-1M4,11l2,-2M79,80l4,-2M283,179l2,-2M135,204l2,-2M185,7l3,-1M148,148l2,-3M73,3l1,0M61,119l3,0M286,206l3,-2M191,171l2,-1M109,176l2,-1M205,102l2,-4M134,1l4,-1M243,85l1,-4M308,126l3,-3M52,99l4,0M146,126l2,-2M70,211l2,-1M248,42l-1,-4M290,199l3,-4M50,118l3,0M316,125l1,-3M204,159l1,-1M127,66l3,-3M72,199l4,0M307,16l1,-3M148,62l4,-2M135,161l2,0M182,179l3,-2M55,180l4,0M115,146l4,-1M217,126l1,-2M121,124l2,-1M152,71l3,-4M301,121l1,-3M322,97l1,-4M184,217l2,-4M66,185l1,0M6,47l2,-1M128,183l2,-1M239,13l1,-2M211,204l1,-2M246,186l1,-3M70,133l4,-2M115,245l2,-3M210,146l1,-3M287,73l0,-3M129,88l3,-3M259,242l3,-1M305,148l2,-1M264,49l1,-3M252,114l0,-1M99,161l2,0M169,183l1,-1M298,36l0,-4M258,209l3,-2M99,207l2,-2M203,234l1,-1M94,28l3,-2M71,88l4,-2M281,105l1,-2M44,21l3,-2M21,31l2,-3M304,136l1,-2M247,67l1,-1M22,97l2,-1M327,57l0,-3M219,174l1,-2M47,253l2,-1M251,194l1,-1M258,49l1,-4M235,138l3,-2M46,38l3,-1M62,230l1,-1M304,121l1,-4M126,89l3,-2M18,20l3,-3M256,40l0,-2M37,195l2,-1M244,112l2,-3M10,1l2,-2M332,218l5,0M339,16l1,-2M316,161l3,-1M133,216l2,-4M207,76l1,-1M68,143l3,-1M257,171l2,-4M187,216l2,-2M249,84l1,-1" stroke="#9a80cc" stroke-width="3.4"/>
<path d="M71,53l3,-2M168,206l4,-2M32,67l4,-1M80,245l2,-2M303,195l2,-1M-1,234l4,-1M124,146l2,-3M204,142l1,-4M8,133l2,0M221,16l1,-1M57,196l2,-2M243,100l0,-3M325,167l3,-2M161,123l4,-2M235,66l1,-4M307,232l2,-1M217,174l1,-2M106,102l1,-1M249,219l3,-3M94,11l2,-1M336,21l0,-3M263,24l0,-2M290,133l1,-1M338,201l3,0M31,85l2,-2M314,74l1,-2M292,96l-1,-2M33,144l2,-1M80,175l1,-1M278,147l1,-2M137,241l1,-3M296,71l-1,-3M242,147l1,-2M90,251l3,-3M110,117l3,-2M2,120l2,0M332,91l0,-4M315,55l1,-4M282,198l3,-2M223,16l3,-3M14,224l4,-1M200,101l1,-2M80,148l4,-1M101,116l1,-1M81,41l3,-2M47,232l3,-1M192,54l2,-2M201,186l1,-2M106,41l1,0M17,237l2,-1M33,211l4,-1M89,66l3,-1M133,50l4,-1M178,10l2,-2M154,146l2,-4M63,90l2,-1M242,73l1,-3M189,203l3,-4M135,91l1,-1M200,40l1,-1M152,163l2,-2M252,202l1,-1M44,197l4,-1M196,138l2,-2M326,253l3,-1M17,29l2,-2M233,186l2,-4M142,79l1,-3M78,167l4,-1M305,207l1,0M197,167l2,-3M249,143l1,-3" stroke="#9a80cc" stroke-width="3.6"/>
<path d="M38,158l4,1M152,49l2,-2M142,70l2,-2M142,239l1,-2M242,228l4,-3M158,115l1,-1M252,119l2,-4M176,119l4,-3M287,161l1,-1M214,178l2,-3M146,129l2,-2M118,119l2,-1M150,188l2,-2M268,101l1,-2M92,58l2,-1M15,2l2,-1M199,254l1,-1M165,59l3,-2M78,107l1,-1M81,20l2,-2M7,187l1,0M54,244l2,-1M44,6l3,-1M89,151l3,-1M238,27l2,-2M314,202l4,-3M197,119l2,-2M186,230l1,-1M144,67l2,-2M228,243l1,-2M211,116l2,-4M338,28l0,-2M270,81l1,-4M335,144l3,-3M268,218l2,-1M201,135l1,-1M2,224l2,0M329,235l3,-1M296,246l2,-1M222,53l3,-3M262,99l1,-3M265,175l2,-4M57,114l4,-1M243,16l1,-1M87,56l4,-2M147,55l2,-1M52,94l3,0M163,96l3,-2M222,142l1,-1M52,151l2,-1M214,248l2,-4M127,142l1,-1M70,232l3,-2M333,26l0,-4M136,176l2,-1M40,233l1,-1M336,16l1,-4M96,170l1,-1M81,174l4,-1M285,93l1,-5M224,38l0,-2M26,62l2,-2M209,243l3,-2M53,97l3,0M126,239l2,-1M117,45l3,-2M109,163l2,-1M120,167l2,-2M61,60l2,-1M83,11l4,-3M20,124l3,-1M76,112l3,0M230,151l1,-2M338,11l1,-4M305,159l5,-1M331,209l1,0M272,108l1,-3M183,78l2,-2M121,111l3,0" stroke="#9a80cc" stroke-width="3.8"/>
<path d="M260,167l2,-3M68,247l2,0M33,175l4,-1M147,10l4,-1M99,257l2,-2M104,88l3,-2M28,241l5,-1M224,256l1,-2M226,207l2,-2M83,70l4,-2M101,223l3,-4M315,251l3,-2M163,107l2,-2M128,71l2,-2M203,130l2,-3M2,216l1,0M221,71l1,-2M275,103l1,-3M280,143l1,-2M125,74l3,-2M137,186l1,-1M80,149l2,0M187,130l2,-4M2,113l2,-1M189,148l2,-3M295,219l5,0M128,48l4,-1M305,85l0,-4M69,125l2,-1M289,177l3,-2M263,20l1,-3M292,142l3,-3M40,96l2,-1M229,219l2,-4M253,21l1,-4M71,190l3,0M279,82l1,-4M340,1l0,-1M49,123l2,-1M222,60l1,-2M85,211l4,-2M245,134l1,-2M223,67l0,-2" stroke="#9a80cc" stroke-width="4.0"/>
</g>
<ellipse cx="1435.4" cy="236.4" rx="3.5" ry="3.9" fill="#fdfdff"/>
<ellipse cx="1450.2" cy="250.2" rx="4" ry="4.4" fill="#fdfdff"/>
<ellipse cx="1464.1" cy="234.4" rx="3.5" ry="3.9" fill="#fdfdff"/>
<ellipse cx="1468" cy="245.3" rx="4" ry="4.4" fill="#fdfdff"/>
<ellipse cx="1442.3" cy="226.5" rx="3" ry="3.3" fill="#fdfdff"/>
<ellipse cx="1349.3" cy="303.6" rx="3" ry="3.3" fill="#fdfdff"/>
<ellipse cx="1309.8" cy="316.5" rx="3" ry="3.3" fill="#fdfdff"/>
<rect x="1437.4" y="193" width="38.6" height="39" fill="#dcdce2" opacity="0.85"/>
<text x="1453.5" y="219.6" font-size="26" text-anchor="middle" fill="#000">ii</text>
<rect x="1444.3" y="307.6" width="19.4" height="3.4" fill="#000"/>
</g>
<g clip-path="url(#cpiii)">
<rect x="1485.0" y="57.2" width="170.5" height="127.5" fill="#eceffb"/>
<g transform="translate(1485,57.2) scale(0.5)" fill="none" stroke-linecap="round" opacity="1.0">
<path d="M11,233l4,-2M335,118l6,1M324,223l2,0M331,107l5,0M188,107l3,-2M295,82l5,-1M209,180l5,2M46,19l5,-3M147,22l2,-4M109,203l4,0M90,139l3,-1M174,212l3,1M141,161l4,-1M289,238l6,-1M239,157l6,0M127,23l3,-5M2,215l4,-2" stroke="#7e7ace" stroke-width="3.4"/>
<path d="M299,224l5,-1M247,56l5,0M185,80l3,-4M75,244l2,-2M269,219l3,0M333,183l6,2M88,34l1,-2M321,188l3,1M201,137l3,1M263,174l6,1M269,118l6,0M302,240l3,0M112,111l3,-4M24,146l4,-4M230,139l5,2M26,147l5,-3M21,107l3,-3M189,95l4,-1M90,243l4,-2M281,191l5,1M200,167l4,0M178,108l4,-3M235,33l2,-3M196,174l3,1M321,125l5,0M237,10l2,-2M97,122l2,-5M241,132l2,1M336,132l3,2M321,247l3,-2M13,216l3,-2M143,149l4,-1M222,170l6,0M268,82l2,0M339,25l3,-1M130,241l4,1M127,105l4,-4M182,88l3,-4M235,63l4,-2" stroke="#7e7ace" stroke-width="3.6"/>
<path d="M6,165l2,-1M12,204l2,-3M263,97l6,0M81,38l3,-3M254,253l4,1M135,76l3,-5M217,96l4,-2M313,98l3,1M39,101l3,-3M3,140l4,-1M249,173l4,1M175,18l2,-3M153,48l2,-3M257,181l4,1M325,80l5,-1M224,3l4,-4M140,154l3,0M155,191l3,0M110,73l1,-6M12,51l3,-1M110,46l2,-3M140,249l4,1M17,3l4,-1M25,101l3,-2M201,199l5,1M212,65l4,-4M303,224l5,0" stroke="#7e7ace" stroke-width="3.8"/>
<path d="M70,94l2,-5M4,5l4,-3M114,170l5,-3M324,153l4,0M207,16l4,-5M62,192l2,-3M244,15l2,-2M129,102l2,-2M40,96l4,-2M14,61l5,-2M290,232l5,-2M66,104l3,-3M82,134l2,-3M33,119l2,-2M116,255l3,-1M51,89l4,-4M247,171l4,0M205,125l4,0M7,190l3,-3M334,183l4,-3M98,63l1,-5M303,163l6,1M52,222l3,-5M219,75l4,-1M7,66l4,-3M128,124l5,-2M119,216l6,-2M26,27l5,-3M148,201l5,0M252,151l2,0M266,231l6,0M59,193l2,-2M196,97l3,-1M133,201l4,0M104,105l3,-3M295,236l3,-1M244,252l4,1M155,134l4,-2" stroke="#7e7ace" stroke-width="4.0"/>
<path d="M69,77l4,-4M19,125l5,-2M182,45l3,-5M150,47l2,-4M252,183l3,1M2,151l3,-1M337,26l3,0M74,22l3,-2M25,166l3,-1M9,14l2,-1M66,57l3,-3M243,245l5,0M214,3l3,-4M148,219l4,1M99,11l3,-4M313,87l3,0M86,76l4,-4M42,47l3,-5M121,115l4,-4M111,106l4,-3M91,240l3,-2M167,228l3,-1M260,222l4,-1M61,5l2,-1M45,113l5,-3M252,3l3,-2M79,122l5,-3M146,106l2,-3M10,89l3,-1M105,227l5,-1M224,115l6,2" stroke="#7e7ace" stroke-width="4.2"/>
<path d="M40,117l2,-2M224,56l3,-1M243,209l5,1M160,16l1,-2M77,28l3,-5M271,86l5,0M247,113l6,-1M75,39l1,-4M212,68l2,-1M60,51l3,-3M134,32l4,-5M117,9l4,-5M295,225l4,-2M238,62l4,-4M46,149l2,-2M4,3l6,1M222,43l5,-4M61,70l2,-3M108,72l2,-4M159,105l4,-4M164,67l5,-4M252,223l5,0M78,236l3,-2M261,132l5,4M70,220l4,-2M268,165l3,1M221,199l4,0M157,255l6,-1M127,11l2,-4M145,109l4,-2M80,41l2,-2M308,191l3,0M48,204l4,-1M313,175l6,0M97,169l5,0M248,197l4,1M169,41l1,-2M241,25l2,-1M168,149l4,-1M175,9l2,-4M172,79l2,-2M246,192l5,2M90,186l3,-2M16,91l4,-4M300,140l6,2M115,153l3,-2M87,213l4,-2M218,7l2,-1" stroke="#7e7ace" stroke-width="4.4"/>
<path d="M258,131l3,2M145,60l2,-3M220,215l5,0M268,199l6,1M244,160l6,1M3,161l2,-1M281,209l5,0M219,27l2,-4M274,172l3,0M178,15l2,-2M83,185l3,0M323,133l4,0M14,238l2,-2M182,147l3,1M78,3l4,-2M287,210l3,1M167,85l2,-5M257,108l3,0M92,100l2,-4M12,234l3,-4M52,3l2,-2M133,65l4,-4M181,60l2,-5M45,38l3,-2M97,227l6,-2M184,175l4,1" stroke="#7e7ace" stroke-width="4.6"/>
<path d="M24,229l2,-3M190,177l5,1M160,220l3,1M-1,166l4,-2M20,118l5,-4M204,13l1,-4M49,154l3,-2M141,13l2,-5M238,40l4,-2M236,69l6,-2M56,254l3,-4M312,139l4,0M29,149l4,-4" stroke="#7e7ace" stroke-width="4.8"/>
<path d="M60,240l3,-3M160,198l5,0M195,32l1,-3M111,72l2,-3M132,87l2,-2M150,131l5,-2M319,176l2,-1M68,171l2,-3M282,207l6,0M286,173l5,0M255,145l3,1M117,215l3,0M278,191l5,0M2,123l3,-1M300,127l4,0M118,10l2,-3M11,185l5,-3M69,113l2,-2" stroke="#8c88d4" stroke-width="3.4"/>
<path d="M46,33l3,-4M9,171l3,-2M299,191l3,1M254,141l5,4M283,168l3,1M224,238l3,0M79,127l2,-2M115,7l4,-4M34,54l4,-3M126,81l1,-2M277,246l5,-2M220,98l5,-3M136,147l3,0M210,107l5,-1M132,219l4,-1M101,74l3,-4M282,212l3,0M235,9l4,-3M99,62l3,-5M217,75l3,-4M107,30l1,-3M114,75l1,-3M73,154l2,-1M220,203l4,3M8,145l5,-3M10,224l4,-3M135,26l2,-3M221,214l5,0M166,235l4,1M78,156l4,-1M26,19l5,-2M85,26l2,-3M179,180l3,1M46,67l3,-4M96,217l4,-1M205,63l3,-5M201,41l2,-3M306,193l6,0M170,142l4,-1" stroke="#8c88d4" stroke-width="3.6"/>
<path d="M66,170l5,-4M104,220l6,-1M259,172l3,0M188,32l3,-5M224,175l5,0M323,149l5,0M340,255l2,-2M26,109l2,-3M87,137l5,-4M187,229l5,1M286,141l5,3M233,224l3,1M323,109l4,0M85,172l2,-1M265,238l4,0M229,4l5,-4M270,172l6,1M149,29l2,-3M79,18l4,-4M26,149l5,-2M31,118l3,-2M156,19l3,-5M151,61l0,-3M41,135l4,-4M293,151l4,0M264,135l6,1M213,223l6,1M149,66l1,-4M98,242l4,-1M31,187l3,-2M311,93l3,0" stroke="#8c88d4" stroke-width="3.8"/>
<path d="M102,97l1,-2M79,65l4,-3M261,135l2,1M219,230l5,0M310,120l3,2M123,146l2,-2M243,53l4,-1M280,164l5,1M168,60l2,-5M251,167l5,3M47,128l3,-4M320,146l3,2M233,117l2,-1M147,107l4,-4M79,153l4,-5M87,3l3,-2M101,63l3,-3M21,18l4,-3M65,112l2,-2M130,123l4,-3M138,88l2,-6M143,190l5,0M146,199l5,0M134,3l0,-3M219,79l6,-2M211,202l3,1M73,163l4,-1M173,232l3,-1M241,31l5,-4M254,136l6,2M265,234l3,0M254,108l3,0" stroke="#8c88d4" stroke-width="4.0"/>
<path d="M160,148l2,1M247,48l4,-3M167,50l1,-3M76,220l3,-3M221,222l6,0M131,228l4,-1M51,40l2,-2M157,238l5,-3M35,130l4,-3M337,33l5,-2M255,8l4,-3M224,70l4,-3M165,105l4,-3M324,142l5,1M226,36l4,-4M78,59l3,-4M195,86l4,-2M225,56l3,-2M96,74l2,-3M240,42l5,-4M119,42l2,-5M134,133l3,-3M205,249l6,1M16,254l4,-3M217,64l3,-4M320,203l3,-2M23,220l2,-1M297,253l5,-2M307,253l4,-2" stroke="#8c88d4" stroke-width="4.2"/>
<path d="M306,191l5,-1M238,144l5,0M333,253l2,-1M169,60l3,-3M209,75l4,-4M288,133l5,1M257,87l6,-1M209,157l4,2M25,166l4,-4M86,210l5,-1M31,133l2,-3M203,21l2,-5M257,127l5,1M281,224l3,-1M185,188l3,0M51,49l2,-3M266,188l4,1M80,39l2,-2M87,133l3,-2M162,16l2,-5M45,56l5,-2M159,149l6,0M106,72l1,-3M221,92l5,-3M116,84l4,-5M187,89l2,-2M17,68l3,-2M141,189l6,0M24,208l4,-2M113,78l2,-5M111,87l2,-1" stroke="#8c88d4" stroke-width="4.4"/>
<path d="M177,66l4,-4M85,167l2,-2M268,243l5,-1M215,86l3,-3M240,115l3,0M330,178l5,0M185,178l4,0M41,226l4,-2M38,66l3,-5M195,174l5,2M41,104l3,-2M223,253l3,0M212,124l6,0M138,129l4,-1M252,207l2,2M318,237l2,-1M223,202l3,1M266,112l4,-1M83,175l4,-1M145,190l3,0M293,217l6,-1M40,186l2,-2M150,46l1,-4M134,209l3,-1M43,70l3,-5M281,168l5,-1M196,244l3,1M52,164l2,-5M294,104l5,1M63,155l5,-3M166,240l4,2M177,88l5,-4M112,239l6,0M40,216l4,-3M289,135l6,0M142,133l6,-2M70,152l6,-2M191,57l3,-3M236,134l2,0M72,134l3,-2M211,20l1,-2" stroke="#8c88d4" stroke-width="4.6"/>
<path d="M123,213l6,0M54,235l4,-1M145,124l4,-2M186,39l1,-3M247,212l5,1M207,156l6,1M262,137l3,3M87,56l4,-4M39,40l3,-1M-1,35l4,-2M321,137l6,1M20,222l4,-3M330,165l2,0M275,124l4,0M43,223l5,-4" stroke="#8c88d4" stroke-width="4.8"/>
<path d="M39,228l3,-3M237,215l5,1M71,37l4,-5M117,171l4,0M205,18l2,-2M94,47l2,-4M251,95l5,0M333,154l3,0M110,89l2,-3M306,210l4,1M25,226l3,-2M38,187l3,-3M114,17l2,-5M242,49l4,-2" stroke="#9a98dc" stroke-width="3.4"/>
<path d="M226,141l5,-1M295,175l3,0M56,178l2,-2M53,150l3,-5M114,151l4,-2M6,83l3,-1M225,88l6,-2M144,186l3,0M247,117l3,0M36,24l3,-3M254,119l3,1M99,15l3,-2M131,53l2,-5M151,212l3,0M259,195l3,1M255,70l6,-2M37,208l5,-3M226,225l4,1M75,169l4,-4M129,15l3,-3M59,174l2,-1M94,65l3,-6M196,222l6,-2M252,140l3,0M220,149l5,0M182,74l4,-5M167,192l3,-1M241,218l6,1M222,20l1,-3M263,190l4,0M327,200l4,0M285,249l5,-2M142,82l2,-3M270,193l6,-1M2,24l6,-1M95,246l4,-1M252,193l3,1M294,151l6,0M195,253l3,1M64,143l1,-2" stroke="#9a98dc" stroke-width="3.6"/>
<path d="M94,240l3,-1M317,246l2,-2M187,123l5,1M202,108l6,-1M306,219l3,-1M273,143l2,2M286,204l6,0M13,21l5,-1M32,50l4,-2M9,241l2,-2M107,202l5,-3M213,249l5,3M170,115l5,-1M306,87l3,0M80,165l3,-1M270,150l5,3M136,47l1,-4M125,91l3,-3M336,208l6,-2M108,158l3,-3M61,114l2,-3M123,247l4,-1M41,163l2,-2M73,193l3,-1M111,54l3,-4M11,140l3,-2M136,139l4,-5M223,237l5,1M292,143l2,1M129,27l3,-5M242,70l4,-1M142,140l3,-2M190,17l2,-2" stroke="#9a98dc" stroke-width="3.8"/>
<path d="M207,80l3,-2M176,173l3,1M95,126l2,-4M15,20l2,-1M126,253l3,0M92,121l4,-4M71,95l2,-2M101,146l4,-4M99,61l3,-5M3,181l3,-2M124,91l3,-4M289,140l4,0M7,185l2,-2M255,113l4,2M218,188l3,2M217,84l4,-1M221,11l4,-5M248,186l3,1M19,13l4,0M28,214l3,-2M186,91l3,-2M47,11l5,-3M243,31l3,-1M227,127l5,0M127,202l6,0M173,124l6,-3M152,214l3,0M81,91l1,-4M18,153l2,-1" stroke="#9a98dc" stroke-width="4.0"/>
<path d="M68,144l4,-3M112,216l3,-1M295,166l5,-1M63,145l3,-3M59,230l5,-2M123,43l1,-5M119,210l4,0M336,134l5,1M164,21l3,-5M159,91l4,-4M15,2l4,-3M235,158l5,2M127,212l4,-1M184,111l4,-1M134,31l3,-5M224,154l5,0M88,76l2,-2M250,58l5,-1M220,116l5,-2M109,6l3,-4M261,111l6,1M9,155l3,-3M236,73l3,-2M105,206l5,-2M266,196l2,0M193,175l5,0M90,66l3,-3M326,145l3,1M55,234l2,-3M94,180l3,-1M45,139l2,-3M130,75l4,-4M49,33l2,-2M156,5l2,-2M72,153l4,-3M211,182l4,1" stroke="#9a98dc" stroke-width="4.2"/>
<path d="M208,239l3,-1M76,111l4,-5M324,91l4,0M78,242l4,-3M43,153l2,-2M7,80l5,-4M98,164l4,-2M138,254l3,-1M278,144l3,1M228,157l5,2M230,120l4,2M119,227l3,-1M164,225l3,0M0,227l2,-2M171,10l1,-3M84,82l5,-4M62,48l4,-5M295,127l4,0M89,38l2,-3M107,210l6,1" stroke="#9a98dc" stroke-width="4.4"/>
<path d="M181,162l2,-1M128,45l0,-3M214,141l5,1M209,41l3,-4M164,230l4,0M97,32l2,-4M308,83l4,1M210,22l3,-5M125,134l6,-1M255,80l3,0M106,131l4,-5M121,43l1,-2M250,210l4,0M199,148l3,0M271,102l4,1M125,127l4,-5M254,48l6,-1M271,240l6,0M188,87l5,-1M140,237l4,1M298,193l4,-1M180,185l5,1M154,157l3,0M237,161l3,1M267,229l6,0M112,25l1,-4M76,37l3,-4M68,144l4,-4M152,108l4,-5M66,25l5,-3M199,95l5,0" stroke="#9a98dc" stroke-width="4.6"/>
<path d="M62,239l2,-2M49,236l3,-3M1,48l3,0M304,93l4,-1M18,11l4,-2M177,200l5,0M243,156l3,0M264,219l6,0M179,89l4,-4M51,178l4,-2M23,58l4,-3M129,157l4,-1M284,88l4,1" stroke="#9a98dc" stroke-width="4.8"/>
<path d="M295,162l5,0M209,189l2,2M56,119l3,-3M42,77l1,-3M101,241l4,-2M211,165l3,0M45,223l3,-3M57,227l2,-2M16,141l4,-2M8,151l4,-3M103,53l2,-3M98,202l5,-3M86,49l2,-2M83,54l1,-2M131,165l4,-1M108,42l4,-4M159,92l3,-4M109,213l5,-1M288,162l6,0M24,173l5,-3" stroke="#a8a8e4" stroke-width="3.4"/>
<path d="M226,121l4,0M244,36l5,-2M115,167l3,1M150,35l2,-2M2,171l4,-3M263,135l4,0M8,156l4,-5M301,219l5,-1M101,29l2,-3M153,196l4,-1M223,183l4,1M327,140l4,1M243,52l5,-1M250,187l4,2M332,217l5,-3M113,223l3,-1M68,232l5,-2M121,133l4,-2M126,252l6,-1M75,87l2,-3M160,183l3,0M194,133l3,0M128,204l4,1M44,89l2,-3M18,4l3,0M95,77l0,-3M202,163l3,0M80,98l3,-2M47,135l2,-2M88,58l1,-2M230,95l3,-1M78,68l2,-5" stroke="#a8a8e4" stroke-width="3.6"/>
<path d="M208,49l3,-2M142,99l4,-5M234,48l4,-2M123,250l5,-3M143,79l1,-3M141,227l3,0M272,196l4,0M255,6l3,-2M21,22l3,-1M59,137l5,-4M97,179l4,-3M203,175l5,-1M308,115l4,2M296,151l4,2M238,182l3,0M121,26l3,-3M228,126l3,0M102,143l3,-4M136,168l4,1M156,135l4,-2M196,126l3,1M297,131l5,-1M199,89l4,-4M196,71l3,-1M92,234l5,-1M247,108l3,-1M243,24l2,-1M37,79l2,-6M146,220l5,0M263,251l2,0" stroke="#a8a8e4" stroke-width="3.8"/>
<path d="M295,111l2,1M164,232l6,0M297,135l5,3M32,166l3,-3M21,112l3,-5M197,31l2,-2M291,161l4,1M61,117l3,-4M240,9l2,-2M239,85l2,1M121,6l3,-5M54,112l2,-4M180,241l3,0M0,146l4,0M127,62l2,-3M117,16l5,-3M301,172l4,-1M255,169l3,1M208,230l3,1M107,62l1,-4M83,223l3,-1M213,182l3,0M278,116l4,1M331,86l6,0M72,101l3,-3M233,67l4,-1M74,70l4,-5M65,221l5,-4" stroke="#a8a8e4" stroke-width="4.0"/>
<path d="M283,87l3,-1M72,26l5,-3M121,25l3,-4M16,105l5,-4M100,81l2,-3M4,198l3,-2M175,33l3,-4M230,255l3,-1M214,186l4,1M324,182l6,2M276,100l3,-1M171,56l2,-3M212,210l4,1M173,251l5,3M200,204l4,0M33,189l4,-4M220,20l2,-2M102,157l4,-3M20,15l3,-2M227,129l5,-2" stroke="#a8a8e4" stroke-width="4.2"/>
<path d="M84,88l3,-5M92,198l5,-1M44,172l4,-2M189,236l5,1M209,200l4,1M273,200l6,1M126,126l3,-3M156,125l4,-5M101,39l2,-3M12,15l2,-2M216,184l3,1M232,158l3,1M266,130l4,1M144,76l1,-2M93,138l5,-3M179,235l4,1M60,78l3,-4M255,123l4,0M146,72l3,-5M239,182l3,1M161,208l5,0M243,226l5,1M231,74l5,-1M338,9l3,-2M325,248l3,-3M19,227l3,-2M277,126l3,0M179,137l5,3M253,104l5,1M70,246l4,-2M337,83l5,-1M11,59l4,-4M22,251l2,-4M174,34l2,-3M319,135l5,1" stroke="#a8a8e4" stroke-width="4.4"/>
<path d="M201,34l3,-5M86,183l4,-1M52,57l2,-3M273,142l5,1M195,217l4,0M315,218l3,-1M225,48l3,-4M118,85l2,-2M116,14l2,-3M97,88l3,-4M124,216l5,-1M258,109l4,1M206,163l4,0M84,4l3,-2M67,223l3,-4M16,48l2,-2M29,158l5,-3M297,137l3,0M42,11l2,-2M204,168l3,1M114,121l5,-4M55,94l3,-5M264,242l4,-1M214,103l3,-1M193,22l2,-5M186,177l3,1M327,234l4,-3M137,211l5,1M232,29l3,-4M13,111l6,-2M73,86l3,-2M336,135l4,0M199,50l3,-4" stroke="#a8a8e4" stroke-width="4.6"/>
<path d="M79,181l5,-3M181,171l4,1M124,27l1,-3M72,7l3,-1M119,177l3,-1M267,190l6,0M170,96l4,-4M87,84l4,-3M82,197l3,-2M68,246l3,-2M16,147l4,-5M234,207l3,2M273,198l3,0M201,187l4,0M29,138l3,-2M237,232l6,0M125,229l4,1M14,64l4,-2M282,233l3,-1M315,207l3,0M37,23l4,-1M127,214l4,-1M175,103l3,-2M145,3l4,-5M318,206l4,-2M-1,80l2,-1M287,198l6,2" stroke="#a8a8e4" stroke-width="4.8"/>
<path d="M99,216l5,-2M7,47l5,-2M128,16l2,-4M144,252l6,-1M81,6l2,-3M109,228l5,-3M220,248l3,0M127,3l2,-3M241,182l4,4M300,153l6,2M155,22l2,-3M140,64l2,-2M114,166l4,-2" stroke="#b4aee0" stroke-width="3.4"/>
<path d="M23,252l2,-6M12,246l2,-2M253,119l6,0M22,209l3,-1M148,137l5,0M230,112l3,1M104,248l6,-2M172,40l3,-4M59,133l2,-2M103,85l3,-4M102,24l4,-4M184,121l6,0M48,163l3,-2M176,38l3,-5M220,109l3,-3M54,234l5,-2M46,87l3,-4M136,108l2,-4M215,83l3,-2M126,250l4,-1M106,202l3,-1M296,102l2,1M-1,223l4,-2M40,52l1,-2M-1,59l3,-1M264,97l3,0M134,184l3,-1M68,151l2,-2M262,246l3,0M237,212l3,0M140,204l5,0M216,194l3,1M147,32l3,-5M212,70l5,-3M200,14l3,-4M248,22l2,-2M54,153l2,-2M177,87l5,-3" stroke="#b4aee0" stroke-width="3.6"/>
<path d="M8,249l5,-4M73,254l4,-3M49,160l2,-2M195,11l2,-3M189,161l5,0M221,237l4,-1M79,135l4,-3M133,109l3,-3M129,205l6,-2M0,61l3,-1M47,256l5,-3M136,136l3,-2M179,68l2,-3M10,138l3,-1M187,195l6,1M16,225l4,-3M216,148l6,-2M207,24l3,-3M222,32l3,-3M55,185l4,-3M52,63l1,-3M62,140l4,-3M206,39l3,-5M229,27l4,-4M133,110l2,-4M120,136l5,-3M26,68l2,-2M262,108l5,1M177,147l5,-1M187,232l3,0M244,84l4,-1M166,146l5,-1" stroke="#b4aee0" stroke-width="3.8"/>
<path d="M22,13l3,-1M76,91l2,-2M172,122l4,0M67,40l3,-4M97,20l3,-1M290,120l3,1M208,11l4,-4M171,137l4,-1M157,222l3,0M121,59l1,-3M61,59l1,-2M98,190l4,-2M220,248l5,0M102,14l3,-5M253,48l4,-1M235,126l4,0M194,132l4,-1M135,195l6,0M270,171l4,1M317,244l4,-2M123,121l2,-1M18,120l3,-3M336,159l6,1M107,43l4,-3M189,166l5,1M117,173l4,-1M36,141l2,-2M120,233l3,-2M268,163l6,2M21,63l3,-4M246,136l4,1M180,181l3,0M166,41l2,-6M278,170l4,2M54,220l2,-1M79,225l2,-1M91,75l2,-2M63,172l2,-2M63,106l3,-2M72,102l3,-2M270,243l3,-1" stroke="#b4aee0" stroke-width="4.0"/>
<path d="M160,193l3,-1M41,203l3,-2M213,21l2,-2M86,51l2,-3M109,252l3,-1M135,65l2,-3M321,107l4,1M337,50l5,-1M19,175l4,-3M-2,82l5,-2M84,129l4,-4M11,227l4,-3M168,240l4,-1M228,149l5,0M67,168l4,-3M192,14l3,-4M260,87l4,0M107,222l5,-1M280,117l4,-1M48,205l3,-3M226,234l6,1M23,229l3,-3M64,134l3,-3M240,126l6,0M80,45l3,-5M183,215l3,0M42,153l3,-5M42,67l3,-2M154,189l5,0" stroke="#b4aee0" stroke-width="4.2"/>
<path d="M194,202l5,1M37,200l4,-3M41,235l5,-3M226,117l3,0M292,219l3,-1M16,161l3,-1M196,103l3,-1M179,84l2,-1M185,118l5,-3M53,3l3,-3M138,172l5,-3M48,32l4,-4M182,120l6,-3M180,103l5,-3M93,211l5,-2M34,64l5,-3M162,252l4,0M229,179l3,1M42,69l5,-2M206,139l5,0M18,238l5,-4M43,66l4,-4M156,40l5,-3M45,232l2,-3M242,69l5,-2M56,161l3,-2M315,91l6,1M238,94l6,-3M18,199l2,-3M259,142l5,1M228,147l3,1M76,66l2,-3M290,239l3,1M87,42l1,-3M10,131l5,-3M248,241l5,0M138,238l6,0M175,158l5,0M318,160l6,3M140,156l5,-4M142,172l5,-1M79,232l2,-1" stroke="#b4aee0" stroke-width="4.4"/>
<path d="M297,110l5,2M66,221l3,-1M276,161l6,2M166,151l4,0M257,214l5,2M236,243l3,0M43,204l5,-1M147,159l4,-1M250,73l6,-2M75,89l2,-2M125,138l5,-2M11,117l4,-4M56,86l3,-3M130,198l5,0M203,31l3,-2M268,96l5,0M151,139l4,-3M12,20l2,-1M135,211l5,-1M168,79l2,-2M6,202l3,-2M196,235l3,1M150,73l2,-4M327,164l5,0M29,38l4,-4M203,184l5,1M24,183l3,-2M170,76l2,-2M36,29l3,-4M16,17l4,-2M-2,15l5,-2" stroke="#b4aee0" stroke-width="4.6"/>
<path d="M26,77l4,-2M117,30l3,-2M87,188l3,-1M35,105l3,-4M255,49l2,-1M273,206l5,1M253,90l4,-3M112,165l2,-1M113,54l2,-5M50,205l2,-2M182,161l5,2M182,168l5,0" stroke="#b4aee0" stroke-width="4.8"/>
</g>
<ellipse cx="1526.6" cy="126.4" rx="1.8" ry="1.2" transform="rotate(-23 1526.6 126.4)" fill="#8a240a" opacity="0.96"/>
<ellipse cx="1565.1" cy="127.2" rx="1.7" ry="1.3" transform="rotate(-23 1565.1 127.2)" fill="#b05030" opacity="0.93"/>
<ellipse cx="1566.3" cy="138.1" rx="1.6" ry="1.2" transform="rotate(-10 1566.3 138.1)" fill="#c07060" opacity="0.61"/>
<ellipse cx="1616.9" cy="160.9" rx="1.7" ry="1.2" transform="rotate(-31 1616.9 160.9)" fill="#a83c18" opacity="0.89"/>
<ellipse cx="1640.4" cy="108.0" rx="2.1" ry="1.1" transform="rotate(3 1640.4 108.0)" fill="#8a240a" opacity="0.61"/>
<ellipse cx="1569.4" cy="91.1" rx="2.0" ry="1.3" transform="rotate(-30 1569.4 91.1)" fill="#7a1e08" opacity="0.77"/>
<ellipse cx="1625.8" cy="130.1" rx="1.9" ry="1.1" transform="rotate(-19 1625.8 130.1)" fill="#8a240a" opacity="0.94"/>
<ellipse cx="1652.0" cy="142.1" rx="1.6" ry="1.3" transform="rotate(-9 1652.0 142.1)" fill="#b05030" opacity="0.96"/>
<ellipse cx="1581.8" cy="147.4" rx="1.7" ry="1.3" transform="rotate(-29 1581.8 147.4)" fill="#8a240a" opacity="0.79"/>
<ellipse cx="1593.4" cy="118.9" rx="1.8" ry="0.9" transform="rotate(-24 1593.4 118.9)" fill="#9a3212" opacity="0.61"/>
<ellipse cx="1558.1" cy="110.5" rx="1.6" ry="1.2" transform="rotate(-19 1558.1 110.5)" fill="#b05030" opacity="0.73"/>
<ellipse cx="1633.7" cy="180.3" rx="1.9" ry="1.4" transform="rotate(-32 1633.7 180.3)" fill="#7a1e08" opacity="0.60"/>
<ellipse cx="1505.0" cy="125.3" rx="2.3" ry="1.4" transform="rotate(-22 1505.0 125.3)" fill="#c07060" opacity="0.62"/>
<ellipse cx="1631.5" cy="98.0" rx="2.3" ry="1.3" transform="rotate(-11 1631.5 98.0)" fill="#a83c18" opacity="0.75"/>
<ellipse cx="1631.8" cy="106.9" rx="2.2" ry="1.2" transform="rotate(6 1631.8 106.9)" fill="#b05030" opacity="0.71"/>
<ellipse cx="1592.6" cy="147.6" rx="2.2" ry="1.1" transform="rotate(-1 1592.6 147.6)" fill="#7a1e08" opacity="0.81"/>
<ellipse cx="1578.3" cy="60.6" rx="1.8" ry="1.2" transform="rotate(-4 1578.3 60.6)" fill="#c07060" opacity="0.65"/>
<ellipse cx="1592.5" cy="100.3" rx="1.8" ry="1.4" transform="rotate(-18 1592.5 100.3)" fill="#b05030" opacity="0.88"/>
<ellipse cx="1609.9" cy="61.9" rx="1.5" ry="1.2" transform="rotate(-11 1609.9 61.9)" fill="#a83c18" opacity="0.72"/>
<ellipse cx="1587.1" cy="81.1" rx="1.6" ry="1.3" transform="rotate(-22 1587.1 81.1)" fill="#b05030" opacity="0.71"/>
<ellipse cx="1622.4" cy="179.2" rx="2.0" ry="1.0" transform="rotate(-37 1622.4 179.2)" fill="#7a1e08" opacity="0.70"/>
<ellipse cx="1518.2" cy="113.0" rx="2.1" ry="1.0" transform="rotate(-20 1518.2 113.0)" fill="#7a1e08" opacity="0.98"/>
<ellipse cx="1599.4" cy="86.9" rx="2.1" ry="1.4" transform="rotate(-3 1599.4 86.9)" fill="#9a3212" opacity="0.95"/>
<ellipse cx="1562.1" cy="87.0" rx="1.6" ry="1.2" transform="rotate(-10 1562.1 87.0)" fill="#9a3212" opacity="0.73"/>
<ellipse cx="1626.2" cy="130.2" rx="2.2" ry="1.1" transform="rotate(-18 1626.2 130.2)" fill="#b05030" opacity="0.74"/>
<ellipse cx="1508.6" cy="95.3" rx="2.1" ry="1.0" transform="rotate(-24 1508.6 95.3)" fill="#7a1e08" opacity="0.85"/>
<ellipse cx="1535.4" cy="129.4" rx="1.5" ry="1.1" transform="rotate(-16 1535.4 129.4)" fill="#b05030" opacity="0.99"/>
<ellipse cx="1559.3" cy="176.5" rx="2.2" ry="1.0" transform="rotate(-7 1559.3 176.5)" fill="#c07060" opacity="0.78"/>
<ellipse cx="1612.4" cy="151.6" rx="2.3" ry="1.2" transform="rotate(-2 1612.4 151.6)" fill="#b05030" opacity="0.99"/>
<ellipse cx="1507.0" cy="89.4" rx="1.5" ry="1.3" transform="rotate(-35 1507.0 89.4)" fill="#b05030" opacity="0.97"/>
<ellipse cx="1636.3" cy="170.3" rx="2.0" ry="0.9" transform="rotate(-20 1636.3 170.3)" fill="#7a1e08" opacity="0.70"/>
<ellipse cx="1490.3" cy="125.5" rx="1.5" ry="1.4" transform="rotate(-27 1490.3 125.5)" fill="#8a240a" opacity="0.74"/>
<ellipse cx="1529.0" cy="165.6" rx="1.9" ry="1.3" transform="rotate(-25 1529.0 165.6)" fill="#b05030" opacity="0.96"/>
<ellipse cx="1506.8" cy="88.8" rx="1.7" ry="1.3" transform="rotate(-14 1506.8 88.8)" fill="#9a3212" opacity="0.93"/>
<ellipse cx="1488.2" cy="136.8" rx="2.2" ry="0.9" transform="rotate(-21 1488.2 136.8)" fill="#b05030" opacity="0.81"/>
<ellipse cx="1495.5" cy="99.1" rx="2.2" ry="1.3" transform="rotate(-11 1495.5 99.1)" fill="#9a3212" opacity="0.62"/>
<ellipse cx="1495.3" cy="118.8" rx="1.5" ry="1.3" transform="rotate(-34 1495.3 118.8)" fill="#9a3212" opacity="0.73"/>
<ellipse cx="1545.5" cy="139.1" rx="2.0" ry="1.1" transform="rotate(-21 1545.5 139.1)" fill="#9a3212" opacity="1.00"/>
<ellipse cx="1558.4" cy="75.0" rx="1.5" ry="1.3" transform="rotate(-16 1558.4 75.0)" fill="#8a240a" opacity="0.75"/>
<ellipse cx="1587.6" cy="155.9" rx="1.8" ry="1.3" transform="rotate(-35 1587.6 155.9)" fill="#b05030" opacity="0.95"/>
<ellipse cx="1495.8" cy="136.7" rx="2.1" ry="1.1" transform="rotate(-8 1495.8 136.7)" fill="#8a240a" opacity="0.70"/>
<ellipse cx="1576.2" cy="145.1" rx="1.6" ry="1.1" transform="rotate(-24 1576.2 145.1)" fill="#a83c18" opacity="0.65"/>
<ellipse cx="1491.7" cy="99.4" rx="2.3" ry="1.2" transform="rotate(-16 1491.7 99.4)" fill="#c07060" opacity="0.65"/>
<ellipse cx="1622.4" cy="141.0" rx="2.2" ry="1.3" transform="rotate(-24 1622.4 141.0)" fill="#c07060" opacity="0.64"/>
<ellipse cx="1540.0" cy="124.9" rx="2.1" ry="1.3" transform="rotate(-29 1540.0 124.9)" fill="#a83c18" opacity="0.62"/>
<ellipse cx="1502.3" cy="71.5" rx="2.2" ry="1.0" transform="rotate(-19 1502.3 71.5)" fill="#8a240a" opacity="0.74"/>
<ellipse cx="1506.2" cy="118.7" rx="2.1" ry="1.0" transform="rotate(-22 1506.2 118.7)" fill="#b05030" opacity="0.80"/>
<ellipse cx="1606.1" cy="72.4" rx="2.1" ry="1.4" transform="rotate(-15 1606.1 72.4)" fill="#8a240a" opacity="0.82"/>
<ellipse cx="1499.9" cy="182.5" rx="2.0" ry="1.1" transform="rotate(-29 1499.9 182.5)" fill="#7a1e08" opacity="0.75"/>
<ellipse cx="1553.0" cy="102.5" rx="1.8" ry="0.9" transform="rotate(-47 1553.0 102.5)" fill="#b05030" opacity="0.69"/>
<ellipse cx="1641.8" cy="163.4" rx="2.3" ry="1.1" transform="rotate(-34 1641.8 163.4)" fill="#b05030" opacity="0.87"/>
<ellipse cx="1513.0" cy="108.7" rx="2.2" ry="1.0" transform="rotate(-27 1513.0 108.7)" fill="#a83c18" opacity="0.90"/>
<ellipse cx="1639.6" cy="123.1" rx="1.9" ry="1.3" transform="rotate(-16 1639.6 123.1)" fill="#9a3212" opacity="0.66"/>
<ellipse cx="1572.9" cy="174.6" rx="2.2" ry="1.2" transform="rotate(-11 1572.9 174.6)" fill="#7a1e08" opacity="0.87"/>
<ellipse cx="1629.4" cy="132.7" rx="2.0" ry="1.4" transform="rotate(-12 1629.4 132.7)" fill="#7a1e08" opacity="0.79"/>
<ellipse cx="1550.7" cy="80.5" rx="1.8" ry="1.1" transform="rotate(-27 1550.7 80.5)" fill="#9a3212" opacity="0.77"/>
<ellipse cx="1603.1" cy="145.8" rx="1.7" ry="1.2" transform="rotate(-6 1603.1 145.8)" fill="#8a240a" opacity="0.79"/>
<ellipse cx="1607.0" cy="165.0" rx="1.8" ry="1.3" transform="rotate(-30 1607.0 165.0)" fill="#8a240a" opacity="0.79"/>
<ellipse cx="1525.2" cy="88.2" rx="2.1" ry="1.2" transform="rotate(3 1525.2 88.2)" fill="#9a3212" opacity="0.96"/>
<ellipse cx="1590.5" cy="142.6" rx="1.5" ry="1.4" transform="rotate(-26 1590.5 142.6)" fill="#9a3212" opacity="0.95"/>
<ellipse cx="1539.2" cy="111.5" rx="2.1" ry="0.9" transform="rotate(-1 1539.2 111.5)" fill="#7a1e08" opacity="0.61"/>
<ellipse cx="1562.3" cy="149.9" rx="1.8" ry="0.9" transform="rotate(-7 1562.3 149.9)" fill="#7a1e08" opacity="0.77"/>
<ellipse cx="1567.9" cy="85.1" rx="2.0" ry="1.4" transform="rotate(-32 1567.9 85.1)" fill="#8a240a" opacity="0.95"/>
<ellipse cx="1499.7" cy="112.6" rx="1.9" ry="1.2" transform="rotate(-10 1499.7 112.6)" fill="#7a1e08" opacity="0.64"/>
<ellipse cx="1643.7" cy="105.4" rx="2.1" ry="1.3" transform="rotate(-25 1643.7 105.4)" fill="#c07060" opacity="0.98"/>
<ellipse cx="1644.3" cy="101.0" rx="2.0" ry="1.2" transform="rotate(-3 1644.3 101.0)" fill="#c07060" opacity="0.80"/>
<ellipse cx="1545.6" cy="147.9" rx="2.0" ry="1.2" transform="rotate(-13 1545.6 147.9)" fill="#c07060" opacity="0.66"/>
<ellipse cx="1548.7" cy="172.8" rx="1.9" ry="1.0" transform="rotate(-4 1548.7 172.8)" fill="#b05030" opacity="0.66"/>
<ellipse cx="1542.2" cy="148.2" rx="2.0" ry="1.2" transform="rotate(-28 1542.2 148.2)" fill="#7a1e08" opacity="0.91"/>
<ellipse cx="1604.5" cy="72.5" rx="1.6" ry="1.2" transform="rotate(-31 1604.5 72.5)" fill="#b05030" opacity="0.90"/>
<ellipse cx="1546.8" cy="92.0" rx="1.8" ry="1.3" transform="rotate(-6 1546.8 92.0)" fill="#9a3212" opacity="0.88"/>
<ellipse cx="1572.7" cy="167.3" rx="2.3" ry="1.1" transform="rotate(-16 1572.7 167.3)" fill="#8a240a" opacity="0.74"/>
<ellipse cx="1532.0" cy="71.5" rx="1.6" ry="1.3" transform="rotate(-21 1532.0 71.5)" fill="#9a3212" opacity="0.83"/>
<ellipse cx="1598.6" cy="107.5" rx="2.3" ry="1.0" transform="rotate(-28 1598.6 107.5)" fill="#b05030" opacity="0.66"/>
<ellipse cx="1553.3" cy="83.1" rx="1.9" ry="1.2" transform="rotate(-17 1553.3 83.1)" fill="#7a1e08" opacity="0.61"/>
<ellipse cx="1620.7" cy="169.3" rx="2.3" ry="1.1" transform="rotate(-11 1620.7 169.3)" fill="#b05030" opacity="0.96"/>
<ellipse cx="1538.5" cy="120.7" rx="1.9" ry="1.3" transform="rotate(-6 1538.5 120.7)" fill="#8a240a" opacity="0.84"/>
<rect x="1614.1" y="58.6" width="39.7" height="38.4" fill="#e2e2e6" opacity="0.9"/>
<text x="1632.5" y="85.4" font-size="26" text-anchor="middle" fill="#000">iii</text>
<rect x="1617.3" y="174.7" width="29.6" height="3.6" fill="#000"/>
</g>
<g clip-path="url(#cpiv)">
<rect x="1485.0" y="192.0" width="170.5" height="128.2" fill="#eef1fb"/>
<g transform="translate(1485,192) scale(0.5)" fill="none" stroke-linecap="round" opacity="1.0">
<path d="M117,152l5,-3M157,85l2,-3M142,76l1,-2M189,148l2,-3M306,88l0,-6M43,247l4,-2M160,178l3,-3M135,196l3,-4M248,230l0,-2M203,94l2,-3M112,240l2,-2M124,119l2,-2M223,117l3,-5M104,242l2,-2M330,132l0,-2M106,191l3,-1" stroke="#8296d8" stroke-width="3.4"/>
<path d="M92,118l2,-2M227,180l3,-3M237,133l1,-5M209,254l0,-2M74,169l3,-1M167,83l4,-3M96,85l3,-3M-1,125l2,-2M318,210l1,-2M48,227l3,-1M69,157l3,-2M291,122l0,-3M78,213l3,-1M172,41l3,-2M210,11l2,-1M86,212l2,-1M128,144l3,0M204,152l2,-3M21,29l0,-4M82,201l4,-2M40,184l3,-3M186,143l2,-2M199,215l1,-2" stroke="#8296d8" stroke-width="3.6"/>
<path d="M337,172l3,-4M293,101l1,-4M194,187l2,-4M39,10l-1,-3M98,162l2,-1M256,82l2,-4M195,43l3,-4M162,109l2,-2M278,209l1,-2M55,12l0,-5M40,81l0,-3M44,218l3,-1M85,36l1,-4M207,99l1,-2M202,146l1,-2M188,171l3,-4M81,38l1,-4M106,77l2,-3M117,208l2,-1M84,96l4,-4M251,122l0,-4M42,121l2,-1M16,166l5,-2M181,105l3,-4M148,147l4,-2M67,183l3,-1M147,219l2,-5M245,58l1,-3M258,162l1,-2M150,184l3,-2M89,207l2,-2M190,57l2,-1M210,247l2,-4M191,40l3,-4" stroke="#8296d8" stroke-width="3.8"/>
<path d="M162,230l2,-4M125,124l3,-3M218,184l1,-5M165,211l2,-4M18,106l3,-2M314,111l2,-5M279,117l0,-5M70,22l1,-2M236,193l2,-5M267,193l2,-5M143,67l2,-1M325,228l2,-3M131,69l3,-2M168,140l3,-3M13,133l5,-2M160,171l4,-3M85,129l3,-3M74,21l1,-4M199,61l3,-2M232,121l1,-5M321,202l1,-3M40,243l3,-1M182,33l4,-3M272,149l2,-4M70,196l4,0M114,237l3,-3M147,86l3,-4M197,252l0,-3M321,188l1,-2M241,218l2,-3M163,136l2,-4M262,96l0,-5" stroke="#8296d8" stroke-width="4.0"/>
<path d="M269,171l2,-5M132,101l2,-2M243,236l1,-5M245,238l0,-2M248,191l3,-2M110,146l3,-1M246,137l0,-3M32,27l0,-6M333,240l1,-2M111,213l2,-2M167,251l2,-4M177,148l2,-3M2,68l1,-3M114,13l2,-3M179,217l0,-3M21,253l3,-3M185,62l1,-2M288,205l2,-4M289,236l1,-3M181,27l3,-4M84,124l2,-1M219,138l0,-5M340,122l-1,-4M215,217l0,-3" stroke="#8296d8" stroke-width="4.2"/>
<path d="M85,106l3,-2M138,107l2,-4M54,105l3,-3M181,172l1,-3M256,128l-1,-3M254,167l2,-3M4,103l2,-4M195,71l2,-5M75,102l2,-3M322,168l0,-5M317,101l-1,-3M160,83l2,-2M300,132l-1,-5M267,258l0,-5M178,5l2,-2M329,91l0,-3M241,45l2,-4M123,251l3,-4M65,65l1,-3M216,25l2,-2M132,142l1,-2M65,15l1,-4M309,213l2,-2M220,106l3,-3M76,130l5,-1M113,136l2,-1M203,72l3,-4M203,203l2,-4M176,209l1,-3M58,201l3,-1M83,252l3,-2M328,123l0,-5M101,89l4,-3M229,193l2,-3" stroke="#8296d8" stroke-width="4.4"/>
<path d="M152,57l3,-1M286,166l0,-2M130,96l3,-2M165,179l2,-3M213,141l1,-5M112,61l4,-3M42,149l5,-3M215,43l2,-4M108,131l2,-1M53,240l4,-2M214,72l2,-4M126,80l2,-2M126,238l2,-2M196,209l2,-3M98,94l4,-2M291,208l2,-5M65,188l4,-3M9,90l0,-3M33,14l1,-3M85,7l0,-3M251,210l0,-3M229,7l3,-2M189,17l3,-4M99,241l3,-2M200,75l3,-3M60,133l5,-3M193,179l3,-3M171,154l4,-3M6,92l1,-3M210,22l2,-2M257,78l1,-5" stroke="#8296d8" stroke-width="4.6"/>
<path d="M246,182l1,-3M217,142l1,-2M132,202l4,-3M149,64l4,-3M155,215l2,-3M50,247l5,-3M244,125l0,-2M79,12l1,-3M221,245l2,-4M253,20l1,-3" stroke="#8296d8" stroke-width="4.8"/>
<path d="M330,174l1,-3M16,123l2,-3M25,214l2,-1M286,243l1,-2M234,162l2,-3M43,1l1,-2M219,157l1,-3M85,88l3,-2M63,128l5,-2M62,239l3,-2M137,175l2,-1M167,100l2,-3M135,72l2,-4M288,239l2,-3" stroke="#8ea4e0" stroke-width="3.4"/>
<path d="M244,245l1,-2M160,33l2,-2M239,180l1,-2M100,97l3,-2M240,87l0,-3M49,223l4,0M85,171l5,-2M304,254l3,-4M186,61l2,-4M128,160l3,-3M243,139l1,-3M228,65l1,-4M261,210l1,-5M254,148l1,-4M206,187l2,-3M116,71l3,-2M131,201l4,-3M119,19l3,-1M3,216l4,-1M199,6l2,-2M292,95l1,-2M48,161l4,-1M227,21l2,-3M189,20l2,-3M238,77l2,-2M130,142l2,-3M257,233l1,-3M154,24l1,-2" stroke="#8ea4e0" stroke-width="3.6"/>
<path d="M194,160l2,-1M258,232l2,-4M77,19l3,-4M120,230l2,-2M47,54l2,-3M253,232l1,-5M156,122l3,-4M186,142l2,-2M93,158l2,-1M35,178l3,-2M64,157l3,-1M218,61l3,-3M70,89l2,-2M176,118l1,-5M170,242l1,-2M85,230l5,-3M192,54l4,-3M43,80l1,-4M75,181l3,-2M172,16l3,-3M54,73l2,-3M106,108l3,-3M250,216l1,-3M255,129l0,-5M197,34l3,-3M218,175l1,-2M98,23l1,-5M21,220l4,-1" stroke="#8ea4e0" stroke-width="3.8"/>
<path d="M44,107l4,-4M8,143l3,-2M241,184l1,-5M179,1l3,0M36,3l0,-3M10,241l3,-1M193,154l3,-4M226,247l0,-3M55,205l5,-1M293,116l0,-3M263,136l0,-3M119,225l3,-4M3,163l2,-2M45,170l5,-2M3,185l4,-3M131,163l4,-3M72,61l3,-3M171,4l3,-4M122,89l2,-2M82,144l3,-3M211,214l1,-4" stroke="#8ea4e0" stroke-width="4.0"/>
<path d="M188,65l2,-3M52,157l4,-4M284,131l0,-5M329,116l1,-5M129,196l3,-1M16,20l0,-2M182,173l2,-2M134,150l3,-2M240,115l1,-5M229,242l0,-2M249,245l0,-3M9,212l4,-2M243,20l2,-2M27,230l5,-1M254,56l0,-4M61,218l2,0M82,82l5,-3M3,45l0,-3M260,251l1,-5M43,144l4,-2M71,27l1,-2M215,237l2,-4M15,149l3,-5" stroke="#8ea4e0" stroke-width="4.2"/>
<path d="M73,119l4,-4M144,211l2,-5M164,176l3,-3M37,216l5,0M75,69l2,-5M20,224l5,-3M340,77l0,-4M242,15l1,-3M128,165l5,-2M251,14l2,-2M239,44l2,-3M176,257l0,-5M133,234l2,-4M91,184l4,-2M169,57l2,-3M64,145l5,-2M41,76l1,-4M246,56l1,-5M123,217l2,-3M204,26l2,-3M234,62l3,-3M193,173l1,-2M-1,158l2,-2M86,104l4,-3M10,229l4,-3" stroke="#8ea4e0" stroke-width="4.4"/>
<path d="M98,84l2,-3M166,94l2,-2M114,148l4,-1M216,155l0,-3M140,179l3,-4M2,243l2,-2M97,135l4,-1M82,5l2,-2M73,21l1,-3M7,178l4,-3M187,163l1,-3M107,97l3,-2M148,8l3,-3M36,156l2,-1M109,243l3,-2M58,190l3,-1M188,235l2,-3M103,223l5,-2M292,190l3,-4M224,7l2,-1M196,89l2,-4M67,178l5,-1M212,195l1,-2M232,114l1,-3M184,179l2,-5" stroke="#8ea4e0" stroke-width="4.6"/>
<path d="M57,71l3,-4M127,214l3,-3M60,99l1,-2M262,136l2,-4M193,81l1,-2M92,47l2,-2M266,110l1,-5M150,244l1,-2M91,128l2,-1M322,202l2,-2M193,9l3,-4M187,2l2,-2M5,205l2,-1M155,123l3,-2" stroke="#8ea4e0" stroke-width="4.8"/>
<path d="M257,236l2,-5M163,181l4,-3M210,74l1,-4M45,241l3,-2M69,81l4,-3M173,123l2,-3M46,13l1,-5M251,161l1,-5M60,25l0,-3M50,218l5,-3M134,155l2,-1M26,80l2,-4M190,137l2,-4M96,132l2,-1M15,73l2,-3M74,137l3,-3M324,193l0,-4M254,136l1,-3M233,186l1,-3" stroke="#9cb0e6" stroke-width="3.4"/>
<path d="M2,228l1,-1M214,50l4,-4M130,223l2,-3M231,16l4,-3M311,200l1,-3M192,216l3,-5M139,217l2,-2M90,140l4,0M272,223l1,-4M123,14l1,-3M136,199l2,-3M125,214l3,-2M48,44l1,-2M11,217l5,-1M68,209l4,-2M184,24l3,-2M126,151l2,-1M176,121l4,-3M98,120l4,-4M319,153l0,-5M286,172l1,-3M109,87l4,-3M233,97l1,-4M19,210l3,-1M75,192l3,0M19,214l4,-1M82,28l4,-3" stroke="#9cb0e6" stroke-width="3.6"/>
<path d="M222,84l2,-4M271,106l0,-4M321,223l2,-1M134,62l3,-4M311,153l1,-3M187,155l2,-3M154,86l2,-1M270,239l1,-4M122,191l5,-3M146,85l3,-3M115,162l5,-3M53,154l5,-1M78,68l3,-3M185,152l2,-5M247,109l1,-3M199,88l2,-5M331,130l1,-4M102,58l1,-2M188,217l1,-3M9,206l2,-1M215,130l1,-3M180,105l2,-3M21,98l1,-5M335,231l2,-3M166,194l2,-1M300,111l2,-3M127,255l1,-3M129,236l2,-1M176,195l3,-5M331,173l0,-5M22,104l1,-2M261,161l2,-5M291,231l0,-4M245,136l0,-4M93,121l5,-2" stroke="#9cb0e6" stroke-width="3.8"/>
<path d="M9,136l2,-4M158,235l2,-5M100,23l1,-2M235,55l2,-5M122,232l3,-2M263,248l1,-4M162,224l1,-3M28,172l4,-2M12,49l0,-6M211,75l2,-4M46,163l3,-1M195,95l2,-3M36,243l2,-1M325,228l2,-3M37,235l3,-1M319,182l2,-4M30,104l2,-2M97,157l3,-1M216,129l2,-3M134,231l3,-3M189,85l3,-4M156,223l1,-2M101,93l4,-3M259,163l1,-4M264,196l1,-5M112,205l3,-3M318,200l1,-2M23,54l1,-2M323,247l1,-2M181,71l3,-4M148,183l2,-2M145,226l3,-2M198,203l0,-2M100,137l4,-2M156,38l2,-2M164,55l3,-2" stroke="#9cb0e6" stroke-width="4.0"/>
<path d="M182,184l2,-3M176,45l2,-2M235,126l2,-3M293,238l2,-3M36,207l5,-2M116,253l3,-4M69,219l4,-1M314,242l2,-3M115,106l2,-2M83,32l1,-4M28,19l0,-3M291,240l2,-4M53,126l2,-1M98,168l3,0M223,173l2,-4M288,173l0,-2M219,185l2,-3M119,113l3,-1M215,85l3,-4M55,67l3,-5M66,12l2,-3M115,122l3,-3M11,166l4,-2M254,18l2,-4M107,60l4,-3M178,185l1,-3M236,34l1,-2M197,102l3,-4M203,79l2,-2M180,107l4,-4M305,113l1,-3M8,154l2,-4" stroke="#9cb0e6" stroke-width="4.2"/>
<path d="M187,147l2,-3M113,33l2,-3M60,222l4,-3M305,173l0,-3M39,124l3,-2M200,202l1,-3M156,70l2,-1M53,82l2,-2M215,60l2,-5M203,184l1,-2M50,204l3,-1M63,185l3,-1M340,181l2,-2M30,63l1,-2M137,76l2,-1M16,122l3,-4M103,258l2,-5M172,130l1,-4M4,48l3,-4M212,168l1,-3M25,210l3,-1M143,228l3,-4M291,158l1,-4" stroke="#9cb0e6" stroke-width="4.4"/>
<path d="M6,125l2,-2M319,248l2,-3M225,61l2,-3M95,218l5,-2M187,1l3,-2M43,182l2,-1M75,177l4,-3M98,142l3,-2M259,119l0,-5M297,220l2,-4M108,86l4,-3M13,172l3,-1M279,117l0,-3M341,37l-1,-2M91,68l3,-3M18,182l2,-1M16,82l0,-3M338,248l3,-3M148,121l2,-2M229,200l1,-2M128,31l2,-2M333,108l-1,-3M266,118l1,-4M57,134l2,-2M192,82l3,-4M41,182l4,-1M252,234l1,-3M155,149l4,-3M178,150l2,-3M253,143l1,-3M310,236l4,-4M242,5l2,-3M125,217l5,-2M223,204l0,-4M128,89l1,-2M240,141l-1,-3M212,60l1,-3" stroke="#9cb0e6" stroke-width="4.6"/>
<path d="M290,100l1,-5M139,243l0,-3M109,110l1,-1M47,203l4,-1M6,31l0,-4M73,195l2,-2M197,195l0,-3M233,151l0,-5M261,171l1,-5" stroke="#9cb0e6" stroke-width="4.8"/>
<path d="M283,239l2,-4M296,244l3,-5M16,12l-1,-5M225,199l0,-3M88,257l3,-3M139,208l2,-2M2,213l3,-1M12,186l2,-1M167,173l2,-2M184,80l1,-2M238,85l0,-5M104,100l2,-2M78,154l5,-2" stroke="#aabce8" stroke-width="3.4"/>
<path d="M123,116l2,-2M0,179l3,-2M277,102l-1,-2M332,251l1,-2M259,193l2,-3M294,254l1,-2M41,54l2,-4M1,88l1,-3M51,75l1,-4M10,60l0,-4M275,175l2,-4M55,18l1,-3M323,203l1,-4M18,66l0,-3M193,158l2,-5M185,75l1,-2M231,113l2,-5M288,157l2,-4M19,257l3,-2M145,173l3,-4M244,220l2,-5M51,85l2,-3M161,246l0,-3M339,45l0,-4M45,13l0,-2M111,76l4,-4M228,16l2,-1M119,176l3,-2M151,79l2,-2M227,223l1,-3M47,82l0,-3M142,148l4,-2" stroke="#aabce8" stroke-width="3.6"/>
<path d="M28,106l3,-3M213,165l1,-3M156,114l2,-1M285,216l2,-5M100,183l4,-2M139,74l2,-2M109,137l2,-1M86,45l1,-4M257,255l0,-5M207,147l2,-3M202,252l1,-4M133,242l2,-3M41,161l2,-1M119,129l4,-2M223,101l1,-2M40,206l2,-1M112,200l5,-3M163,128l1,-3M159,95l2,-1M167,118l1,-1M29,3l1,-5M129,80l2,-3M25,177l3,-1M12,204l5,-1M170,58l2,-4M152,161l1,-2M63,181l2,-1M128,77l2,-1M24,13l0,-4M155,64l2,-2M141,189l3,-1" stroke="#aabce8" stroke-width="3.8"/>
<path d="M52,193l4,-1M155,5l2,-3M308,89l1,-3M23,92l2,-4M254,85l1,-5M196,179l2,-4M240,17l3,-3M225,32l2,-3M250,143l1,-3M189,163l1,-3M73,157l3,-1M206,95l2,-2M304,104l0,-4M26,228l4,0M159,170l3,-3M65,88l1,-3M113,185l2,0M224,134l3,-5M171,110l3,-3M10,131l3,-4M230,171l1,-3M215,128l2,-4M334,212l2,-4M140,191l2,-1M270,167l-1,-4M130,164l5,-2" stroke="#aabce8" stroke-width="4.0"/>
<path d="M173,247l1,-4M32,113l2,-3M114,159l5,-2M215,108l2,-4M66,183l4,0M112,185l5,-2M325,233l4,-3M241,231l1,-4M160,212l3,-2M304,191l1,-4M306,97l1,-4M98,224l3,-2M206,44l2,-2M198,185l2,-2M212,114l3,-4M279,236l2,-4M65,229l4,-3M265,235l2,-3M194,236l2,-4M34,51l2,-4M253,87l1,-5M174,206l3,-5M107,142l2,-1M266,205l1,-3M240,103l2,-5M85,191l3,0M52,60l1,-3" stroke="#aabce8" stroke-width="4.2"/>
<path d="M155,32l2,-4M335,106l1,-4M222,78l3,-4M45,8l1,-5M2,82l0,-3M8,106l2,-4M200,21l2,-3M334,207l1,-3M41,126l3,-1M119,246l1,-5M87,233l3,-4M9,37l0,-4M304,209l2,-4M232,51l0,-2M270,168l1,-3M168,121l4,-3M237,74l1,-3M201,96l2,-3M142,95l3,-1M216,82l1,-3M13,66l0,-3M307,178l2,-3M122,9l4,-4M185,106l2,-2M285,187l0,-3" stroke="#aabce8" stroke-width="4.4"/>
<path d="M142,2l2,-3M317,196l1,-3M58,168l4,-1M248,149l0,-4M18,75l1,-4M175,203l2,-5M18,118l2,-3M220,105l1,-5M218,16l2,-3M73,68l3,-5M171,22l3,-5M70,102l2,-3M244,235l1,-2M92,17l1,-3M8,26l1,-4M29,118l3,-5M94,245l2,-2M22,184l4,-1M279,100l-1,-3M306,215l3,-2M84,58l1,-2M158,253l1,-5M158,200l1,-4M208,199l0,-4M17,206l3,-2M251,258l1,-5M246,49l2,-4M113,148l3,-1M39,22l1,-2M158,157l2,-3M224,163l1,-2M199,225l1,-2" stroke="#aabce8" stroke-width="4.6"/>
<path d="M283,250l2,-4M144,221l2,-5M31,204l5,-1M118,243l2,-2M84,32l1,-3M60,79l2,-3M128,71l1,-2M239,162l3,-4M320,3l0,-3M99,27l1,-3M229,61l2,-4M8,242l3,-3" stroke="#aabce8" stroke-width="4.8"/>
<path d="M223,217l1,-2M122,13l1,-3M174,170l3,-2M167,65l5,-2M277,202l2,-5M148,44l3,-3M312,169l0,-4M16,171l2,0M105,195l4,-1M237,236l-1,-5M145,69l2,-3M77,251l2,-3M298,107l0,-5M263,82l0,-4M170,20l3,-1M296,84l0,-5M293,82l-1,-3" stroke="#b0b4e4" stroke-width="3.4"/>
<path d="M14,93l2,-5M221,149l1,-3M91,78l4,-4M207,179l1,-5M27,165l5,-1M143,219l1,-5M6,190l4,-1M238,25l2,-3M95,86l3,-4M192,131l1,-2M45,69l1,-2M73,231l2,-1M271,197l1,-4M149,128l4,-2M116,136l2,-3M67,156l2,-1M318,236l2,-2M103,112l3,-3M76,218l3,-3M76,3l1,-2M56,198l3,-2M179,228l0,-2M10,245l4,-3M129,13l2,-1M209,251l0,-2M253,38l0,-2M58,81l2,-5M137,9l4,-2M0,125l1,-3M206,37l2,-3M22,66l1,-3M52,201l3,-1M25,14l0,-5M2,153l2,-2M178,15l1,-2M31,10l0,-2M4,184l3,0M269,168l3,-4M53,74l1,-2" stroke="#b0b4e4" stroke-width="3.6"/>
<path d="M157,113l3,-1M335,153l1,-4M165,80l2,-2M321,119l-1,-4M206,108l2,-5M292,120l0,-3M179,212l2,-4M55,149l5,-2M149,246l2,-3M185,59l3,-3M173,109l4,-3M327,100l0,-5M73,246l4,-4M292,145l-1,-5M246,59l1,-4M84,85l2,-2M236,58l2,-3M96,226l5,-3M198,221l1,-2M3,70l-1,-5M47,38l1,-3M285,132l0,-3M110,200l1,-2M309,116l1,-5M0,17l1,-4M77,64l2,-5M55,4l0,-5M81,230l3,-4M135,138l2,-1M129,67l2,-1" stroke="#b0b4e4" stroke-width="3.8"/>
<path d="M213,67l2,-2M209,124l1,-2M33,80l0,-4M59,48l2,-1M164,172l2,-1M170,251l0,-2M205,218l1,-3M262,187l1,-5M90,192l2,0M326,123l1,-2M340,50l0,-2M222,72l2,-2M127,195l3,-4M246,61l1,-2M136,51l4,-3M55,60l2,-3M0,108l2,-4M34,138l2,-2M83,58l2,-4M138,180l4,-2M61,156l2,-1M255,51l0,-4M145,108l3,-1M37,132l1,-2" stroke="#b0b4e4" stroke-width="4.0"/>
<path d="M69,15l4,-3M3,160l2,-1M187,253l1,-5M28,33l0,-3M261,116l1,-4M133,45l4,-3M73,247l3,-2M139,125l2,-2M69,130l3,0M80,245l4,-3M236,183l0,-2M246,130l1,-2M121,226l2,-4M138,198l2,-2M69,122l3,-2M325,230l2,-2M247,196l1,-2M335,135l1,-3M132,136l2,-3M157,18l4,-2M203,30l2,-4M137,84l3,-2M207,168l1,-3M47,243l3,-2M253,50l1,-3M189,181l1,-2M89,96l2,-2M45,59l0,-4M108,63l5,-2M186,9l3,-3M186,111l1,-3" stroke="#b0b4e4" stroke-width="4.2"/>
<path d="M250,19l2,-2M320,145l2,-5M271,85l1,-4M103,255l2,-3M159,5l3,-1M202,48l3,-3M65,81l4,-3M193,105l2,-3M231,68l1,-4M266,115l1,-5M6,241l3,-2M119,144l5,-1M151,201l2,-5M145,222l2,-4M63,7l1,-2M251,121l0,-4M155,240l1,-2M230,250l1,-4M273,246l2,-5M5,138l2,-3M256,74l0,-3M181,192l3,-5M146,164l4,-3M57,59l2,-4M243,155l1,-4M218,27l2,-3M19,202l4,-2M96,180l2,-1M233,228l-1,-5M310,230l2,-4M287,173l2,-5M27,96l2,-3M94,134l2,-2M30,119l3,-3M181,41l3,-4M165,122l4,-2" stroke="#b0b4e4" stroke-width="4.4"/>
<path d="M187,72l5,-3M5,81l1,-5M253,122l0,-4M17,251l3,-1M12,16l0,-5M29,233l3,-1M170,81l1,-2M180,219l0,-2M272,168l0,-5M16,110l2,-3M184,23l3,-5M265,127l0,-3M138,33l3,-2M329,125l0,-3M255,102l0,-3M83,166l3,-2M308,128l0,-2M126,95l3,-2M41,17l1,-2M145,73l3,-3M284,249l1,-3M108,5l2,-4M192,93l3,-2M93,105l3,-2M208,63l3,-5M164,72l3,-2" stroke="#b0b4e4" stroke-width="4.6"/>
<path d="M45,134l2,-2M177,74l2,-2M69,214l4,-1M267,104l0,-2M168,119l2,-3M122,93l2,-2M106,247l2,-4M221,105l2,-4M41,158l5,-1M265,154l0,-4" stroke="#b0b4e4" stroke-width="4.8"/>
</g>
<ellipse cx="1524.7" cy="313.5" rx="1.6" ry="1.3" transform="rotate(-57 1524.7 313.5)" fill="#b05030" opacity="0.68"/>
<ellipse cx="1593.9" cy="251.0" rx="1.9" ry="1.1" transform="rotate(-60 1593.9 251.0)" fill="#9a3212" opacity="0.96"/>
<ellipse cx="1554.0" cy="254.2" rx="2.1" ry="1.3" transform="rotate(-78 1554.0 254.2)" fill="#a83c18" opacity="0.89"/>
<ellipse cx="1597.4" cy="206.1" rx="2.2" ry="1.1" transform="rotate(-67 1597.4 206.1)" fill="#a83c18" opacity="0.64"/>
<ellipse cx="1496.7" cy="223.1" rx="1.6" ry="1.4" transform="rotate(-73 1496.7 223.1)" fill="#9a3212" opacity="0.84"/>
<ellipse cx="1576.9" cy="198.7" rx="2.1" ry="1.0" transform="rotate(-66 1576.9 198.7)" fill="#b05030" opacity="0.78"/>
<ellipse cx="1584.3" cy="249.3" rx="1.9" ry="1.3" transform="rotate(-71 1584.3 249.3)" fill="#b05030" opacity="0.64"/>
<ellipse cx="1601.9" cy="281.2" rx="2.3" ry="1.3" transform="rotate(-62 1601.9 281.2)" fill="#b05030" opacity="0.85"/>
<ellipse cx="1538.4" cy="238.2" rx="1.7" ry="1.2" transform="rotate(-57 1538.4 238.2)" fill="#c07060" opacity="0.82"/>
<ellipse cx="1544.3" cy="306.8" rx="1.7" ry="1.0" transform="rotate(-87 1544.3 306.8)" fill="#8a240a" opacity="0.77"/>
<ellipse cx="1549.8" cy="297.6" rx="2.2" ry="1.0" transform="rotate(-71 1549.8 297.6)" fill="#c07060" opacity="0.94"/>
<ellipse cx="1491.3" cy="314.9" rx="1.6" ry="1.0" transform="rotate(-61 1491.3 314.9)" fill="#a83c18" opacity="0.74"/>
<ellipse cx="1515.3" cy="248.1" rx="1.7" ry="1.1" transform="rotate(-77 1515.3 248.1)" fill="#b05030" opacity="0.63"/>
<ellipse cx="1606.4" cy="198.2" rx="2.0" ry="1.3" transform="rotate(-61 1606.4 198.2)" fill="#b05030" opacity="0.74"/>
<ellipse cx="1621.5" cy="256.7" rx="2.1" ry="1.4" transform="rotate(-63 1621.5 256.7)" fill="#9a3212" opacity="0.74"/>
<ellipse cx="1596.6" cy="209.0" rx="1.7" ry="1.1" transform="rotate(-64 1596.6 209.0)" fill="#7a1e08" opacity="0.60"/>
<ellipse cx="1647.7" cy="288.3" rx="2.3" ry="1.2" transform="rotate(-51 1647.7 288.3)" fill="#a83c18" opacity="0.65"/>
<ellipse cx="1520.4" cy="221.8" rx="2.1" ry="1.3" transform="rotate(-36 1520.4 221.8)" fill="#a83c18" opacity="0.65"/>
<ellipse cx="1583.7" cy="250.2" rx="1.6" ry="1.1" transform="rotate(-68 1583.7 250.2)" fill="#a83c18" opacity="0.83"/>
<ellipse cx="1622.9" cy="250.6" rx="1.5" ry="0.9" transform="rotate(-84 1622.9 250.6)" fill="#8a240a" opacity="0.64"/>
<ellipse cx="1607.7" cy="282.0" rx="2.0" ry="0.9" transform="rotate(-73 1607.7 282.0)" fill="#8a240a" opacity="0.99"/>
<ellipse cx="1611.7" cy="268.5" rx="2.2" ry="1.2" transform="rotate(-55 1611.7 268.5)" fill="#b05030" opacity="0.69"/>
<ellipse cx="1574.5" cy="286.4" rx="2.0" ry="0.9" transform="rotate(-85 1574.5 286.4)" fill="#c07060" opacity="0.73"/>
<ellipse cx="1638.0" cy="244.0" rx="2.0" ry="0.9" transform="rotate(-82 1638.0 244.0)" fill="#a83c18" opacity="0.99"/>
<ellipse cx="1548.5" cy="310.9" rx="2.2" ry="1.2" transform="rotate(-86 1548.5 310.9)" fill="#7a1e08" opacity="0.86"/>
<ellipse cx="1505.2" cy="254.3" rx="1.8" ry="1.2" transform="rotate(-86 1505.2 254.3)" fill="#7a1e08" opacity="0.68"/>
<ellipse cx="1553.1" cy="241.6" rx="2.2" ry="1.2" transform="rotate(-69 1553.1 241.6)" fill="#c07060" opacity="0.84"/>
<ellipse cx="1547.3" cy="247.1" rx="1.9" ry="1.2" transform="rotate(-75 1547.3 247.1)" fill="#8a240a" opacity="0.71"/>
<ellipse cx="1498.4" cy="285.1" rx="1.7" ry="1.1" transform="rotate(-48 1498.4 285.1)" fill="#7a1e08" opacity="0.99"/>
<ellipse cx="1532.6" cy="296.5" rx="1.7" ry="1.4" transform="rotate(-50 1532.6 296.5)" fill="#c07060" opacity="0.76"/>
<ellipse cx="1547.2" cy="313.9" rx="2.1" ry="1.3" transform="rotate(-65 1547.2 313.9)" fill="#b05030" opacity="0.81"/>
<ellipse cx="1519.5" cy="255.7" rx="1.6" ry="1.0" transform="rotate(-43 1519.5 255.7)" fill="#8a240a" opacity="0.86"/>
<ellipse cx="1616.9" cy="317.3" rx="2.2" ry="1.3" transform="rotate(-54 1616.9 317.3)" fill="#c07060" opacity="0.71"/>
<ellipse cx="1502.9" cy="251.1" rx="2.0" ry="1.0" transform="rotate(-53 1502.9 251.1)" fill="#b05030" opacity="0.64"/>
<ellipse cx="1588.1" cy="301.4" rx="2.0" ry="1.1" transform="rotate(-39 1588.1 301.4)" fill="#9a3212" opacity="0.86"/>
<ellipse cx="1548.0" cy="296.9" rx="2.2" ry="1.3" transform="rotate(-59 1548.0 296.9)" fill="#b05030" opacity="0.92"/>
<ellipse cx="1524.0" cy="286.4" rx="2.3" ry="0.9" transform="rotate(-43 1524.0 286.4)" fill="#b05030" opacity="0.74"/>
<ellipse cx="1513.6" cy="225.7" rx="1.8" ry="1.1" transform="rotate(-81 1513.6 225.7)" fill="#8a240a" opacity="0.64"/>
<ellipse cx="1524.1" cy="230.4" rx="1.6" ry="1.3" transform="rotate(-62 1524.1 230.4)" fill="#b05030" opacity="0.91"/>
<ellipse cx="1516.6" cy="215.2" rx="2.0" ry="1.0" transform="rotate(-63 1516.6 215.2)" fill="#9a3212" opacity="0.89"/>
<ellipse cx="1566.7" cy="263.9" rx="2.2" ry="1.4" transform="rotate(-59 1566.7 263.9)" fill="#7a1e08" opacity="0.69"/>
<ellipse cx="1516.0" cy="210.8" rx="1.9" ry="1.2" transform="rotate(-68 1516.0 210.8)" fill="#a83c18" opacity="0.83"/>
<ellipse cx="1589.2" cy="245.5" rx="2.2" ry="1.2" transform="rotate(-43 1589.2 245.5)" fill="#c07060" opacity="0.83"/>
<ellipse cx="1605.2" cy="301.9" rx="2.1" ry="1.3" transform="rotate(-81 1605.2 301.9)" fill="#9a3212" opacity="0.72"/>
<ellipse cx="1600.2" cy="253.1" rx="1.6" ry="1.3" transform="rotate(-97 1600.2 253.1)" fill="#b05030" opacity="0.92"/>
<ellipse cx="1572.2" cy="294.2" rx="2.0" ry="1.1" transform="rotate(-65 1572.2 294.2)" fill="#9a3212" opacity="0.93"/>
<ellipse cx="1594.8" cy="209.4" rx="1.8" ry="0.9" transform="rotate(-85 1594.8 209.4)" fill="#7a1e08" opacity="0.75"/>
<ellipse cx="1491.6" cy="317.3" rx="2.2" ry="0.9" transform="rotate(-44 1491.6 317.3)" fill="#9a3212" opacity="0.78"/>
<ellipse cx="1644.8" cy="289.4" rx="2.2" ry="1.2" transform="rotate(-87 1644.8 289.4)" fill="#7a1e08" opacity="1.00"/>
<ellipse cx="1493.6" cy="268.7" rx="2.0" ry="1.4" transform="rotate(-77 1493.6 268.7)" fill="#7a1e08" opacity="0.64"/>
<ellipse cx="1540.2" cy="206.7" rx="2.2" ry="1.2" transform="rotate(-81 1540.2 206.7)" fill="#7a1e08" opacity="0.90"/>
<ellipse cx="1558.5" cy="286.2" rx="2.0" ry="1.3" transform="rotate(-63 1558.5 286.2)" fill="#c07060" opacity="0.87"/>
<ellipse cx="1595.3" cy="201.6" rx="2.3" ry="1.2" transform="rotate(-79 1595.3 201.6)" fill="#9a3212" opacity="0.72"/>
<ellipse cx="1594.7" cy="291.6" rx="2.1" ry="1.3" transform="rotate(-64 1594.7 291.6)" fill="#b05030" opacity="0.87"/>
<ellipse cx="1562.6" cy="230.8" rx="1.8" ry="1.1" transform="rotate(-68 1562.6 230.8)" fill="#c07060" opacity="0.78"/>
<ellipse cx="1509.6" cy="314.6" rx="1.6" ry="1.3" transform="rotate(-69 1509.6 314.6)" fill="#c07060" opacity="0.78"/>
<ellipse cx="1565.3" cy="241.6" rx="1.9" ry="1.3" transform="rotate(-62 1565.3 241.6)" fill="#8a240a" opacity="0.64"/>
<ellipse cx="1619.0" cy="288.3" rx="1.7" ry="1.2" transform="rotate(-59 1619.0 288.3)" fill="#7a1e08" opacity="0.98"/>
<ellipse cx="1620.1" cy="312.7" rx="1.5" ry="1.1" transform="rotate(-60 1620.1 312.7)" fill="#8a240a" opacity="0.99"/>
<ellipse cx="1609.6" cy="285.6" rx="2.0" ry="1.2" transform="rotate(-74 1609.6 285.6)" fill="#8a240a" opacity="0.62"/>
<ellipse cx="1522.5" cy="233.3" rx="1.6" ry="1.0" transform="rotate(-51 1522.5 233.3)" fill="#c07060" opacity="0.64"/>
<ellipse cx="1572.1" cy="253.8" rx="2.3" ry="1.3" transform="rotate(-85 1572.1 253.8)" fill="#a83c18" opacity="0.96"/>
<ellipse cx="1557.8" cy="212.4" rx="1.6" ry="1.3" transform="rotate(-48 1557.8 212.4)" fill="#7a1e08" opacity="0.97"/>
<ellipse cx="1559.6" cy="200.2" rx="1.8" ry="1.2" transform="rotate(-70 1559.6 200.2)" fill="#8a240a" opacity="0.71"/>
<ellipse cx="1615.2" cy="233.1" rx="1.6" ry="0.9" transform="rotate(-60 1615.2 233.1)" fill="#7a1e08" opacity="0.81"/>
<ellipse cx="1587.4" cy="244.4" rx="1.7" ry="1.2" transform="rotate(-74 1587.4 244.4)" fill="#c07060" opacity="0.68"/>
<ellipse cx="1505.6" cy="289.9" rx="2.3" ry="1.4" transform="rotate(-58 1505.6 289.9)" fill="#7a1e08" opacity="0.70"/>
<ellipse cx="1637.9" cy="248.0" rx="2.2" ry="1.3" transform="rotate(-65 1637.9 248.0)" fill="#b05030" opacity="0.87"/>
<ellipse cx="1638.4" cy="302.0" rx="2.3" ry="1.2" transform="rotate(-75 1638.4 302.0)" fill="#9a3212" opacity="0.81"/>
<ellipse cx="1543.1" cy="311.5" rx="1.9" ry="1.4" transform="rotate(-74 1543.1 311.5)" fill="#a83c18" opacity="0.89"/>
<ellipse cx="1586.5" cy="219.0" rx="2.1" ry="1.2" transform="rotate(-66 1586.5 219.0)" fill="#b05030" opacity="0.66"/>
<ellipse cx="1526.4" cy="267.8" rx="2.2" ry="1.4" transform="rotate(-52 1526.4 267.8)" fill="#a83c18" opacity="0.74"/>
<ellipse cx="1538.7" cy="208.7" rx="2.0" ry="1.4" transform="rotate(-57 1538.7 208.7)" fill="#8a240a" opacity="0.79"/>
<ellipse cx="1578.2" cy="303.8" rx="2.3" ry="1.0" transform="rotate(-75 1578.2 303.8)" fill="#8a240a" opacity="0.98"/>
<ellipse cx="1588.1" cy="256.2" rx="1.8" ry="1.1" transform="rotate(-79 1588.1 256.2)" fill="#8a240a" opacity="0.62"/>
<ellipse cx="1561.1" cy="204.1" rx="1.5" ry="1.0" transform="rotate(-73 1561.1 204.1)" fill="#8a240a" opacity="0.62"/>
<ellipse cx="1544.4" cy="282.0" rx="2.2" ry="1.2" transform="rotate(-46 1544.4 282.0)" fill="#7a1e08" opacity="0.85"/>
<ellipse cx="1648.5" cy="312.0" rx="1.9" ry="1.1" transform="rotate(-69 1648.5 312.0)" fill="#9a3212" opacity="0.95"/>
<rect x="1614.4" y="192.9" width="38.6" height="38.9" fill="#e0e0e4" opacity="0.9"/>
<text x="1633.0" y="220.6" font-size="26" text-anchor="middle" fill="#000">iv</text>
<rect x="1615.4" y="305.6" width="29.1" height="4.0" fill="#000"/>
</g>
<g clip-path="url(#cpv)">
<rect x="1662.5" y="56.6" width="172.0" height="128.2" fill="#000"/>
<path d="M1762.5,168.0l-1.3,-0.9l-0.8,-1.4l-1.5,-0.4M1708.8,59.7l2.2,-1.0l2.2,-1.1l2.1,-1.3M1706.3,150.7l0.0,1.0l0.7,0.8l0.8,0.7M1719.2,170.7l-0.9,-1.0l-0.9,-1.0l-0.9,-1.0M1697.2,116.4l-0.7,-2.1l1.1,-1.9l1.1,-1.9M1717.9,81.6l2.2,-0.2l1.4,-1.7l-1.2,-1.8M1692.7,97.1l-0.3,1.2l-0.5,1.1l-0.2,1.2M1695.6,124.2l2.4,-0.4l1.5,-1.9l1.5,-1.9" stroke="#700000" stroke-width="0.5" stroke-linecap="round" stroke-linejoin="round" fill="none" opacity="1.0"/>
<path d="M1708.3,67.2l-1.0,0.4l-0.2,1.0l0.4,1.0M1692.3,105.6l-0.7,1.8l-1.3,1.4l-1.5,1.3M1741.1,174.6l0.4,2.3l-0.6,2.2l-0.1,2.3M1761.4,177.8l2.4,-0.0l2.3,0.6l1.4,-1.9M1735.0,167.0l1.1,1.5l1.6,0.9l1.2,1.4M1717.5,73.0l-0.4,-2.4l-1.5,-1.9l-2.4,-0.7M1709.7,154.9l-1.6,-0.7l-0.8,-1.5l-0.9,-1.5M1693.4,89.1l-1.2,2.1l0.7,2.3l0.8,2.3M1704.6,113.6l-0.7,-1.3l-1.5,0.2l-1.2,0.8" stroke="#700000" stroke-width="0.6" stroke-linecap="round" stroke-linejoin="round" fill="none" opacity="1.0"/>
<path d="M1703.6,162.3l2.0,0.9l2.2,-0.2l2.1,0.7M1712.7,161.3l-1.3,0.7l-0.8,1.2l-0.7,1.3M1763.2,175.1l1.7,1.6l2.2,-0.9l2.0,1.3M1763.0,169.8l1.0,-1.1l0.2,-1.4l0.2,-1.4M1732.6,176.0l-1.5,0.6l-1.4,0.9l-1.3,1.0M1731.4,175.3l2.5,-0.1l2.1,-1.4l1.1,-2.3M1702.4,83.8l-1.4,-0.8l-1.3,0.9l-1.5,-0.3M1701.2,159.8l0.5,1.0l1.1,0.2l1.1,0.1M1702.2,115.9l-1.3,-1.4l-1.6,-0.9l-1.6,0.9M1708.9,162.7l-1.3,2.3l0.2,2.6l-0.4,2.6M1751.3,168.7l-0.5,-1.8l-0.0,-1.9l-0.7,-1.7M1693.1,128.6l-0.4,2.5l-0.5,2.5l-2.5,0.3M1695.0,72.5l-1.2,-0.8l-1.3,-0.7l-1.2,0.8M1695.0,84.4l1.2,2.2l2.4,0.6l2.3,-0.8M1693.7,127.8l0.9,-1.2l1.2,-0.9l-0.0,-1.5M1710.7,161.4l0.9,0.6l1.0,-0.3l0.9,0.6" stroke="#700000" stroke-width="0.7" stroke-linecap="round" stroke-linejoin="round" fill="none" opacity="1.0"/>
<path d="M1725.9,73.8l0.2,2.2l1.8,1.3l2.0,1.0M1694.8,62.1l-0.9,1.6l0.0,1.8l0.2,1.8M1707.2,58.8l0.4,1.4l-0.3,1.5l-0.3,1.5M1724.4,111.7l-0.1,-1.5l0.0,-1.5l0.8,-1.3M1731.9,170.3l1.5,-0.9l1.7,-0.4l1.5,1.0M1718.1,66.6l1.5,-0.2l1.5,-0.1l1.5,-0.5M1752.0,73.7l0.3,-1.0l-0.5,-0.9l-0.2,-1.1M1689.5,120.5l2.0,-1.2l1.7,-1.6l0.4,-2.3M1741.2,168.2l0.4,1.1l0.5,1.1l1.0,0.6M1693.2,73.4l1.2,0.1l1.2,-0.2l1.2,0.3M1731.4,171.6l2.6,-0.3l1.3,-2.3l-0.7,-2.5M1712.7,111.0l-1.4,0.6l-1.5,-0.3l-1.5,0.2M1753.1,180.9l-2.5,-0.1l-2.3,-1.0l-1.9,-1.7M1725.6,145.2l-1.1,-0.4l-0.8,-0.8l-1.1,0.3" stroke="#700000" stroke-width="0.8" stroke-linecap="round" stroke-linejoin="round" fill="none" opacity="1.0"/>
<path d="M1710.4,65.8l0.4,-2.1l0.7,-2.0l2.0,-0.7M1696.1,116.2l-2.4,0.2l-2.4,-0.6l-2.2,-1.1M1694.2,102.5l0.9,-1.2l0.1,-1.5l0.1,-1.5M1733.2,90.3l-1.4,-0.7l-1.3,-0.8l-0.4,-1.5M1748.0,178.7l-1.6,-0.9l-1.4,-1.1l-1.8,0.4M1710.3,142.0l-0.8,1.9l-1.4,1.5l0.5,2.0M1693.9,91.1l0.9,1.0l1.1,0.8l-0.2,1.4" stroke="#700000" stroke-width="0.9" stroke-linecap="round" stroke-linejoin="round" fill="none" opacity="1.0"/>
<path d="M1695.5,138.3l-0.4,-1.7l-0.3,-1.7l-1.5,-0.8M1713.7,64.8l0.6,1.6l1.3,1.1l0.2,1.7M1692.4,102.8l-1.1,-0.9l-1.4,0.1l-1.2,-0.8M1745.0,174.8l-1.4,-0.9l-0.9,-1.3l-0.6,-1.5M1706.7,99.8l2.2,-1.0l1.4,-1.9l1.9,-1.5M1744.8,181.3l-1.3,1.4l-0.0,1.8l-0.4,1.8" stroke="#800000" stroke-width="0.5" stroke-linecap="round" stroke-linejoin="round" fill="none" opacity="1.0"/>
<path d="M1690.8,133.1l-2.3,0.3l-1.7,1.7l-1.8,1.5M1705.1,60.4l1.8,-0.8l1.2,-1.6l1.3,-1.5M1747.1,162.1l2.1,-1.6l0.8,-2.5l-2.0,-1.7M1699.5,71.3l-1.1,-1.9l-1.2,-1.8l-2.1,-0.7M1712.9,136.3l-1.1,-1.1l-0.9,-1.3l-1.5,-0.3M1722.3,155.7l-2.6,0.4l-2.6,-0.1l-2.6,0.5M1694.5,76.7l-2.2,-1.4l-1.2,-2.3l-0.2,-2.6M1716.9,166.1l-0.7,-1.8l0.7,-1.8l-1.5,-1.1M1697.5,68.3l1.0,-1.2l0.5,-1.5l-0.9,-1.3M1709.2,80.6l0.6,1.3l1.1,1.0l0.7,1.3M1695.9,116.8l1.2,-0.5l1.3,-0.2l0.7,1.1M1722.8,146.7l-0.8,-2.5l0.8,-2.5l-0.8,-2.5M1693.5,128.9l-1.0,2.3l-1.1,2.2l-0.8,2.3" stroke="#800000" stroke-width="0.6" stroke-linecap="round" stroke-linejoin="round" fill="none" opacity="1.0"/>
<path d="M1705.3,115.6l1.6,1.2l1.6,1.3l1.5,1.4M1690.9,109.2l1.3,-1.8l1.3,-1.8l1.4,-1.7M1746.0,157.3l1.4,-1.9l0.2,-2.4l1.3,-2.0M1694.8,95.4l0.8,1.2l0.9,1.2l-0.0,1.5M1695.4,57.4l0.9,-1.3l0.6,-1.5l1.5,-0.6M1706.1,68.4l0.6,-1.8l0.9,-1.6l0.2,-1.8M1742.5,180.8l-0.3,1.0l0.8,0.7l1.0,0.4M1752.5,171.5l-1.8,0.2l-1.6,-0.9l-0.8,-1.6M1701.1,60.8l-0.5,1.0l-0.3,1.0l-0.3,1.0M1705.7,98.8l0.2,-1.2l1.1,-0.6l0.8,-0.9M1721.9,170.7l1.1,1.4l1.7,-0.1l1.7,0.1M1693.7,101.2l-0.7,-0.7l-1.0,-0.0l-0.8,-0.6M1694.4,84.1l-2.3,1.2l-2.6,0.1l-2.5,-0.7" stroke="#800000" stroke-width="0.7" stroke-linecap="round" stroke-linejoin="round" fill="none" opacity="1.0"/>
<path d="M1710.8,117.5l1.2,-1.5l-0.4,-1.9l0.5,-1.9M1708.7,122.2l1.0,1.2l1.2,1.0l0.4,1.5M1742.1,172.7l0.5,0.9l0.8,0.7l1.0,0.5M1699.3,68.8l-2.0,1.2l-1.8,1.5l-1.1,2.1M1697.5,78.5l0.0,1.7l-0.9,1.5l-1.7,0.3M1708.3,149.9l1.5,-1.3l0.2,-2.0l0.5,-2.0M1693.9,96.4l2.4,-0.7l2.5,-0.2l1.8,1.8M1722.8,60.7l0.2,1.5l-0.9,1.2l-1.1,1.1M1715.9,152.9l0.9,-0.9l0.7,-1.1l1.2,-0.5M1719.3,155.1l0.7,1.8l0.1,1.9l0.3,1.9M1709.8,62.4l1.7,1.6l0.9,2.1l0.3,2.3M1717.3,138.7l0.4,2.3l-2.1,1.2l-2.4,-0.4M1696.0,96.7l0.2,2.0l1.4,1.4l1.4,1.4M1701.2,142.9l1.1,0.0l0.8,0.7l-0.3,1.1M1718.3,157.2l-0.7,-1.1l-0.9,-0.9l-0.8,-1.0M1729.2,145.5l1.2,0.6l1.1,0.8l0.0,1.3M1693.2,106.7l1.7,-0.4l1.4,-1.1l0.5,-1.6M1692.7,129.6l0.9,0.8l0.9,0.8l0.9,0.8M1751.7,174.8l1.6,-0.2l1.5,0.6l1.2,1.1" stroke="#800000" stroke-width="0.8" stroke-linecap="round" stroke-linejoin="round" fill="none" opacity="1.0"/>
<path d="M1752.3,180.3l-2.1,-0.1l-1.8,1.1l-1.7,1.2M1748.7,152.8l2.3,-0.6l1.4,-2.0l2.4,-0.3M1743.0,180.9l2.0,-0.9l-0.2,-2.2l-0.3,-2.2M1699.6,102.0l0.8,0.9l-0.5,1.0l0.7,0.9M1757.1,119.1l-0.4,1.7l-0.3,1.7l-1.5,-0.9" stroke="#800000" stroke-width="0.9" stroke-linecap="round" stroke-linejoin="round" fill="none" opacity="1.0"/>
<path d="M1696.6,145.4l1.9,0.7l1.9,-0.4l0.4,-1.9M1726.6,174.1l1.9,0.7l1.8,1.0l2.0,0.2" stroke="#a00000" stroke-width="0.5" stroke-linecap="round" stroke-linejoin="round" fill="none" opacity="1.0"/>
<path d="M1703.9,151.2l1.0,-1.6l-0.7,-1.8l-0.9,-1.7M1697.8,79.9l1.6,1.0l0.5,1.8l0.2,1.9M1697.4,82.4l-1.8,0.1l-0.9,-1.5l0.3,-1.8M1699.1,81.8l-0.1,-2.4l-0.2,-2.4l0.6,-2.3M1751.6,170.1l-0.5,-1.2l-1.1,-0.8l-0.9,-1.0M1756.2,183.9l1.0,2.4l2.2,1.4l2.6,0.0M1695.9,114.4l2.0,-0.5l2.0,0.4l2.0,-0.1M1746.7,164.4l-2.1,0.9l-1.6,1.6l-2.1,0.7M1703.7,151.2l-1.1,1.5l-1.4,1.2l-1.4,1.2" stroke="#a00000" stroke-width="0.6" stroke-linecap="round" stroke-linejoin="round" fill="none" opacity="1.0"/>
<path d="M1700.5,74.1l0.6,1.2l1.3,0.5l0.8,-1.1M1692.4,121.6l-1.9,0.5l-1.4,1.3l-1.1,1.6M1728.2,153.9l2.1,1.1l1.1,2.1l2.2,0.7M1743.4,179.0l-1.1,-1.9l-2.1,0.5l-1.9,1.0M1699.4,80.0l2.4,0.9l2.3,1.0l2.5,-0.1M1713.2,165.0l-0.3,1.9l0.5,1.9l1.9,0.6M1699.1,76.0l1.6,0.7l0.8,1.6l1.7,0.4M1690.5,110.0l2.4,0.5l2.4,-0.4l0.5,-2.4M1696.5,132.3l-1.8,-0.5l-1.8,-0.1l-1.0,-1.6M1696.1,137.1l2.0,1.0l1.4,1.8l1.5,1.6M1719.6,154.5l-1.0,1.0l-1.2,0.8l-1.4,-0.1M1714.7,129.9l1.4,-0.7l0.8,-1.3l0.2,-1.6M1694.7,65.2l-0.3,2.4l-0.1,2.4l-1.7,1.7" stroke="#a00000" stroke-width="0.7" stroke-linecap="round" stroke-linejoin="round" fill="none" opacity="1.0"/>
<path d="M1695.5,117.0l-1.3,-0.7l-0.5,-1.4l-1.4,-0.2M1744.3,175.4l-1.2,-1.4l-1.5,-1.1l-1.8,-0.4M1763.6,176.7l1.0,-2.1l0.4,-2.4l0.6,-2.3" stroke="#a00000" stroke-width="0.8" stroke-linecap="round" stroke-linejoin="round" fill="none" opacity="1.0"/>
<path d="M1736.5,175.5l-0.8,1.5l-1.6,0.7l-1.6,0.5M1695.2,114.7l-0.1,1.8l-0.9,1.6l-1.2,1.4" stroke="#a00000" stroke-width="0.9" stroke-linecap="round" stroke-linejoin="round" fill="none" opacity="1.0"/>
<path d="M1713.6,64.8l-1.5,-0.9l-1.8,0.4l-1.5,1.0M1758.2,164.1l-0.9,2.1l-1.2,1.9l-0.6,2.2M1760.9,159.7l0.2,-1.1l-0.2,-1.1l-0.8,-0.8M1695.0,110.9l0.7,1.3l-0.7,1.3l0.1,1.5M1695.0,134.4l0.8,2.4l-0.1,2.5l-0.3,2.5M1695.4,93.6l-0.7,-1.2l-1.4,-0.3l-1.3,0.4" stroke="#c00000" stroke-width="0.5" stroke-linecap="round" stroke-linejoin="round" fill="none" opacity="1.0"/>
<path d="M1694.5,110.2l0.1,1.8l0.7,1.6l1.5,0.9M1727.1,70.8l1.4,-2.2l1.5,-2.2l2.4,-1.2M1697.0,86.0l0.4,1.6l-0.5,1.6l-1.1,1.2M1694.7,66.8l2.4,-0.6l2.5,0.3l2.5,0.0M1713.6,158.5l0.3,-2.1l1.5,-1.5l0.1,-2.1M1720.6,59.8l0.2,2.3l-0.3,2.3l1.2,2.0M1725.3,85.9l-2.5,0.5l-2.5,-0.6l-0.1,-2.6M1701.8,115.7l-0.2,1.4l0.1,1.4l-0.2,1.4M1756.7,180.0l-1.0,-1.6l-1.7,-0.8l-1.9,0.4M1690.9,124.3l1.1,-2.0l0.8,-2.2l1.0,-2.1M1744.9,177.6l1.3,0.1l1.2,-0.6l1.3,0.3M1694.3,59.5l1.9,1.4l1.5,1.8l1.0,2.1M1759.6,151.6l-1.9,1.8l-1.0,2.4l0.8,2.5M1711.6,168.0l0.2,-2.3l2.0,-1.1l-0.9,-2.1M1704.5,153.4l1.4,1.3l1.8,0.8l0.9,1.7M1738.2,167.6l1.6,-2.1l2.2,-1.5l2.6,-0.6" stroke="#c00000" stroke-width="0.6" stroke-linecap="round" stroke-linejoin="round" fill="none" opacity="1.0"/>
<path d="M1705.0,149.0l2.0,1.4l1.2,2.1l1.0,2.2M1703.5,123.5l-1.0,-0.1l-1.0,-0.4l-1.0,0.1M1729.1,151.1l-2.1,1.1l-2.1,1.2l0.1,2.4M1696.8,96.9l-1.3,1.3l-0.5,1.8l-1.0,1.5M1741.2,174.6l2.0,-0.8l1.3,-1.7l2.0,-0.8M1695.4,111.0l1.9,-0.2l2.0,0.0l1.4,-1.3M1762.5,124.1l1.9,0.3l1.9,0.3l1.8,0.8M1737.2,173.7l-1.9,-0.8l-1.9,-1.0l-1.7,-1.2M1692.7,112.9l-0.7,-1.1l-1.3,-0.3l-1.0,0.9M1765.5,157.3l-0.5,2.5l0.9,2.4l1.6,2.0M1760.8,183.2l1.3,-0.6l1.4,-0.5l1.3,0.6M1732.3,161.9l1.8,0.9l0.8,1.8l1.7,1.1M1697.5,147.4l0.7,-1.4l1.5,0.3l1.0,1.2M1712.7,149.9l0.5,-1.1l-0.8,-0.9l-1.2,-0.3M1693.6,108.0l-1.1,2.1l-0.7,2.3l-1.6,1.8M1694.1,141.6l1.1,0.2l1.1,0.2l1.1,0.0" stroke="#c00000" stroke-width="0.7" stroke-linecap="round" stroke-linejoin="round" fill="none" opacity="1.0"/>
<path d="M1703.2,68.6l-0.9,-1.7l-1.6,1.1l-1.9,0.6M1758.0,181.1l-0.0,-1.4l-0.7,-1.2l-1.4,0.3M1757.4,174.0l0.9,1.1l0.9,1.1l0.9,1.1M1724.7,174.9l0.5,1.9l1.2,1.6l1.1,1.6M1693.2,86.9l1.5,0.6l0.7,1.4l-1.2,1.1M1711.9,62.0l2.2,0.0l1.9,1.1l0.4,2.2M1711.2,76.1l2.2,0.2l1.1,1.9l1.7,1.4M1744.5,149.9l-2.4,-0.6l-2.4,0.7l-2.2,1.2M1731.6,158.9l-0.3,-1.9l-0.2,-1.9l0.1,-1.9M1695.3,90.2l1.2,-0.8l1.5,-0.1l0.9,1.1M1703.2,118.4l2.2,-1.2l2.5,-0.2l2.3,-1.1M1701.7,151.5l-0.5,-2.1l0.0,-2.2l0.3,-2.2M1729.7,165.2l0.1,-2.0l-0.5,-1.9l-2.0,-0.0M1713.0,155.4l-1.3,0.7l-1.5,-0.1l-1.5,-0.2M1696.1,72.3l-2.2,1.2l-2.4,0.8l-2.0,1.5M1705.9,97.3l-0.5,1.3l-1.3,0.7l0.4,1.4M1714.6,165.2l-0.5,-2.2l0.4,-2.2l0.5,-2.2" stroke="#c00000" stroke-width="0.8" stroke-linecap="round" stroke-linejoin="round" fill="none" opacity="1.0"/>
<path d="M1698.9,91.8l1.5,0.1l1.5,0.2l1.5,0.1M1695.4,106.1l1.9,-0.7l1.7,-1.2l2.0,0.6M1724.8,173.3l-2.1,-0.1l-1.7,-1.2l-0.8,-1.9M1735.1,173.3l0.7,1.5l1.6,0.4l1.6,-0.4M1743.7,163.6l-0.9,1.2l-1.5,0.3l-1.2,0.9M1690.0,123.3l-1.0,-1.6l-1.4,-1.2l-1.2,-1.4M1716.7,172.2l0.1,1.3l-1.0,0.9l-1.1,-0.7M1702.3,134.1l-0.4,1.6l-1.5,0.7l-1.6,0.7M1740.8,175.0l-2.2,1.4l-0.7,2.6l-1.8,2.0M1717.2,167.8l-0.7,-2.6l0.4,-2.6l0.9,-2.5M1693.0,108.9l0.1,1.6l-0.9,1.3l0.3,1.6" stroke="#c00000" stroke-width="0.9" stroke-linecap="round" stroke-linejoin="round" fill="none" opacity="1.0"/>
<path d="M1705.3,71.0l1.6,1.1l1.9,0.1l1.8,-0.5M1695.7,95.8l1.1,-0.6l0.3,-1.3l-0.9,-0.9M1758.7,154.6l0.9,-0.6l0.9,-0.4l1.0,-0.3" stroke="#e01010" stroke-width="0.5" stroke-linecap="round" stroke-linejoin="round" fill="none" opacity="1.0"/>
<path d="M1705.8,152.6l-1.3,0.6l-1.1,0.9l0.2,1.4M1697.2,64.4l-2.0,0.1l-1.6,-1.2l1.1,-1.7M1697.9,151.5l-0.3,-1.8l-0.1,-1.8l0.7,-1.7M1699.2,86.5l1.0,-1.3l0.5,-1.5l0.8,-1.4M1725.6,143.2l1.7,-0.2l1.4,-0.9l1.6,-0.6M1710.3,140.8l0.4,1.8l0.6,1.8l-0.2,1.9M1708.5,145.4l2.0,-0.5l1.7,-1.2l-0.2,-2.1M1721.4,78.0l-2.0,0.7l-1.5,-1.5l-2.1,0.1M1695.5,62.6l2.2,0.5l2.1,-0.7l2.0,0.9M1694.2,72.8l-0.9,1.2l-0.2,1.5l0.5,1.5M1745.7,124.8l-2.0,1.2l-2.3,0.4l-1.5,1.8M1756.9,177.8l0.2,-2.4l0.5,-2.4l1.1,-2.1" stroke="#e01010" stroke-width="0.6" stroke-linecap="round" stroke-linejoin="round" fill="none" opacity="1.0"/>
<path d="M1693.3,96.9l-0.8,-2.4l-2.4,-0.7l-2.3,-1.0M1734.8,174.9l0.3,-1.5l0.1,-1.6l-0.1,-1.6M1738.1,178.2l-0.5,1.8l-0.7,1.7l-0.9,1.6M1695.1,119.4l-2.4,-0.6l-2.5,0.5l-2.4,0.9M1693.6,88.1l-0.4,2.0l0.1,2.1l0.9,1.9M1717.9,134.9l0.7,-1.1l0.3,-1.2l0.5,-1.2" stroke="#e01010" stroke-width="0.7" stroke-linecap="round" stroke-linejoin="round" fill="none" opacity="1.0"/>
<path d="M1696.4,136.4l-1.3,-0.8l1.0,-1.2l0.3,-1.5M1737.6,165.2l0.5,-1.9l0.4,-1.9l-0.7,-1.8M1695.4,102.0l-0.8,1.4l0.3,1.6l-0.3,1.6M1699.6,61.7l1.1,1.1l0.8,-1.3l-0.0,-1.6M1691.5,138.1l1.1,-1.5l0.1,-1.9l1.7,-0.8M1714.0,114.9l1.4,-0.3l1.4,-0.3l1.4,-0.2M1729.7,140.6l-1.5,-1.7l-0.3,-2.3l0.6,-2.2M1758.8,175.4l1.3,-0.5l1.2,-0.7l0.4,-1.3M1748.7,117.1l-1.5,-2.1l0.1,-2.5l2.0,-1.5M1759.1,157.6l0.7,-2.2l-0.2,-2.3l-1.0,-2.0M1698.6,58.4l1.9,1.7l2.0,1.4l2.2,1.2M1753.9,180.8l1.7,0.7l1.5,1.1l1.6,0.9M1724.1,70.9l-0.8,2.5l-0.4,2.6l-0.4,2.6M1741.3,178.0l-1.4,0.1l-1.3,-0.6l-0.9,-1.1M1699.5,137.1l-2.3,-0.5l-1.5,-1.8l-2.1,-0.9M1712.2,161.0l1.3,1.4l1.5,1.2l1.9,-0.0M1704.5,141.6l-1.5,-2.1l-2.6,-0.1l-1.9,1.8M1701.9,120.0l-0.5,-2.3l-2.3,-0.8l-2.1,-1.1M1713.1,138.8l-2.2,-1.5l-2.2,-1.5l-2.4,-1.1M1693.9,71.3l2.2,-0.5l1.9,-1.2l-0.5,-2.2" stroke="#e01010" stroke-width="0.8" stroke-linecap="round" stroke-linejoin="round" fill="none" opacity="1.0"/>
<path d="M1708.5,150.6l1.6,1.9l1.8,1.7l-1.1,2.2M1696.9,148.1l-2.2,-1.1l-2.2,-1.1l-2.0,-1.5M1696.7,107.7l-1.9,0.1l-1.9,-0.5l-1.4,-1.3M1692.8,114.1l2.0,0.5l1.8,0.9l1.0,-1.8M1700.1,154.0l-1.6,0.1l-1.1,-1.1l-1.0,-1.2M1694.8,130.8l0.4,1.4l0.7,1.2l0.9,1.1" stroke="#e01010" stroke-width="0.9" stroke-linecap="round" stroke-linejoin="round" fill="none" opacity="1.0"/>
<path d="M1747.8,168.6l-0.5,-0.9l-0.8,-0.7l-0.6,-0.9M1715.2,163.4l-2.2,-1.1l-1.8,-1.7l-0.4,-2.5M1705.5,136.9l1.2,0.1l0.6,1.0l0.8,0.9M1699.7,153.2l-0.3,1.0l-0.5,1.0l-1.0,0.3M1715.7,117.4l0.2,2.1l-0.2,2.1l0.4,2.1" stroke="#f02020" stroke-width="0.5" stroke-linecap="round" stroke-linejoin="round" fill="none" opacity="1.0"/>
<path d="M1741.3,178.1l-2.1,-0.6l-0.5,-2.1l-2.2,0.2M1695.3,117.2l-1.2,-1.1l-1.6,0.4l-1.3,0.9M1712.1,164.2l1.2,2.3l1.0,2.4l2.1,1.5M1742.0,178.6l-1.6,-1.3l-1.6,-1.3l-1.5,-1.4M1738.7,175.0l0.8,-1.4l-1.2,-1.0l-0.6,-1.5M1693.6,101.3l1.3,-1.6l2.1,0.1l2.0,-0.7M1734.5,146.1l0.9,2.1l1.5,1.8l1.3,1.9M1730.6,171.1l1.0,0.3l1.0,0.3l1.1,-0.0M1693.3,122.5l1.7,0.2l1.6,-0.4l1.5,-0.6M1747.4,174.7l-0.1,-1.0l0.4,-1.0l0.8,-0.7M1721.0,109.8l1.7,-0.3l1.5,0.8l1.6,-0.4M1697.6,120.1l-0.8,-1.7l-0.4,-1.8l-0.2,-1.9" stroke="#f02020" stroke-width="0.6" stroke-linecap="round" stroke-linejoin="round" fill="none" opacity="1.0"/>
<path d="M1709.3,102.3l-0.5,-1.4l-0.2,-1.5l-0.9,-1.2M1690.2,129.5l-0.4,-1.5l0.2,-1.6l-1.0,-1.2M1744.2,177.8l1.5,-1.7l2.0,-1.1l1.0,-2.0M1692.5,90.0l2.6,0.1l2.6,0.4l2.5,0.6M1692.6,122.6l-0.4,-1.6l-1.4,-0.9l-1.3,-1.0M1693.0,115.6l0.6,-1.1l-0.2,-1.3l-1.3,-0.0M1694.7,61.1l0.5,-1.8l-0.6,-1.7l-1.8,-0.3M1724.8,144.0l-0.2,1.5l-0.1,1.5l1.1,1.1M1703.6,96.7l-1.6,1.1l-1.7,0.8l-1.5,1.2M1690.4,108.9l0.3,-1.0l0.3,-1.0l1.0,-0.4M1695.3,133.1l-0.0,1.0l-0.2,1.0l0.1,1.0M1733.9,123.7l-0.8,1.4l0.5,1.5l0.7,1.4" stroke="#f02020" stroke-width="0.7" stroke-linecap="round" stroke-linejoin="round" fill="none" opacity="1.0"/>
<path d="M1692.9,129.8l0.2,1.3l0.2,1.3l0.1,1.3M1725.1,161.4l-2.1,0.4l-1.7,1.3l-1.7,1.3M1733.9,145.6l1.0,-1.8l-1.2,-1.6l-0.6,-1.9M1754.0,177.5l-0.2,-1.1l-0.4,-1.0l-0.1,-1.1M1704.0,63.4l-0.4,-1.3l-0.6,-1.2l-1.0,-0.8M1706.5,114.6l-2.6,0.1l-2.6,0.1l-1.8,-1.9M1720.6,169.8l-1.9,-1.2l-2.0,-1.0l-2.2,-0.1M1709.4,166.8l-0.8,-1.5l0.1,-1.7l0.7,-1.5M1697.0,124.7l1.3,-1.5l2.0,0.2l1.9,-0.3M1698.2,59.9l-1.7,0.8l-1.5,1.1l-1.8,0.3M1693.6,136.0l-1.5,1.2l-1.0,1.6l-1.0,1.6M1736.9,173.0l1.2,-1.7l-0.8,-1.9l-1.3,-1.7" stroke="#f02020" stroke-width="0.8" stroke-linecap="round" stroke-linejoin="round" fill="none" opacity="1.0"/>
<path d="M1693.1,126.8l0.6,-1.9l0.1,-2.0l1.9,0.4M1694.4,93.5l-1.0,0.6l-1.0,0.5l-0.8,0.8M1718.3,166.7l-2.0,-1.5l0.1,-2.4l-2.2,-1.0M1748.9,165.7l-2.4,-0.0l-1.2,-2.1l-1.2,-2.2M1695.0,57.6l1.9,-1.5l0.8,-2.3l2.1,-1.1" stroke="#f02020" stroke-width="0.9" stroke-linecap="round" stroke-linejoin="round" fill="none" opacity="1.0"/>
<path d="M1731.7,66.8l-1.6,0.4l-1.6,-0.3l-1.6,0.6M1792.7,111.9l-1.0,-0.3l-1.0,0.0l-1.0,0.3M1746.5,153.1l0.9,-0.0l0.9,-0.3l-0.3,-0.9M1812.4,79.8l-0.8,0.4l-0.7,0.5l-0.5,0.7" stroke="#500000" stroke-width="0.5" stroke-linecap="round" stroke-linejoin="round" fill="none" opacity="1.0"/>
<path d="M1825.6,127.2l-1.4,-0.0l0.2,1.3l0.7,1.2M1717.4,75.8l1.4,-0.1l1.3,-0.5l1.2,0.7M1810.3,80.2l0.5,1.0l0.6,1.0l0.8,0.8M1735.4,62.2l1.4,0.2l1.0,0.9l1.3,0.6M1758.0,146.8l0.4,0.8l0.9,-0.1l0.9,0.2M1729.1,165.6l-0.5,-0.8l-0.7,-0.7l-0.2,-1.0M1741.7,111.0l1.9,-0.4l1.9,-0.3l1.7,-1.0M1767.6,179.5l1.5,0.4l1.2,1.0l0.8,1.4" stroke="#500000" stroke-width="0.6" stroke-linecap="round" stroke-linejoin="round" fill="none" opacity="1.0"/>
<path d="M1743.9,90.7l-0.5,-0.4l-0.6,-0.3l-0.6,-0.3M1750.0,63.6l0.5,1.8l-0.9,1.6l0.2,1.9M1788.1,117.2l-0.9,1.0l0.1,1.3l0.5,1.3M1727.7,167.3l1.6,0.7l0.1,-1.7l0.2,-1.7M1798.3,153.2l-1.1,-0.9l-0.9,-1.1l-1.2,-0.6M1805.8,122.9l1.4,-0.7l1.5,0.5l1.5,0.5M1779.1,62.9l0.7,-0.0l0.6,0.4l0.6,0.4M1756.2,129.8l-0.9,0.5l-1.0,-0.1l-0.8,0.5M1736.8,163.6l-1.1,0.1l-1.1,0.2l-1.0,-0.6M1702.4,96.9l-1.5,-0.0l-1.5,0.1l-0.7,-1.3M1724.6,123.1l1.1,0.7l1.1,0.5l1.1,0.7" stroke="#500000" stroke-width="0.7" stroke-linecap="round" stroke-linejoin="round" fill="none" opacity="1.0"/>
<path d="M1774.8,72.0l-1.2,0.0l-1.1,0.6l-0.9,0.9M1745.9,82.5l-1.2,1.5l-0.7,1.8l1.1,1.5M1737.9,171.3l0.8,-0.1l0.7,0.3l0.7,0.4M1721.1,178.9l1.3,0.1l1.3,-0.2l1.3,-0.2M1763.7,153.0l-1.8,-0.2l-1.7,-0.5l-1.0,-1.5M1738.3,72.7l0.6,-1.5l1.2,-1.1l-0.4,-1.6M1744.5,169.7l1.3,-0.7l1.1,-1.0l1.4,-0.4" stroke="#500000" stroke-width="0.8" stroke-linecap="round" stroke-linejoin="round" fill="none" opacity="1.0"/>
<path d="M1723.5,154.9l-0.6,0.3l-0.7,-0.2l-0.4,0.6M1815.5,178.3l-0.6,1.5l-1.1,1.2l-1.0,1.3M1781.4,176.6l0.5,0.4l0.6,0.4l0.3,0.6M1724.2,143.2l1.9,0.7l1.8,0.9l1.0,-1.8M1826.8,116.8l-1.6,0.7l-0.7,1.6l-0.3,1.7M1822.8,158.3l-0.3,1.4l-0.1,1.4l-0.4,1.4" stroke="#700000" stroke-width="0.5" stroke-linecap="round" stroke-linejoin="round" fill="none" opacity="1.0"/>
<path d="M1812.2,79.5l-0.7,-0.3l-0.7,0.3l-0.5,0.6M1821.4,124.4l-1.1,1.0l-1.5,0.1l-1.2,0.9M1803.8,145.3l-0.5,-1.2l-0.4,-1.2l-1.3,-0.0M1711.3,72.4l0.8,0.8l1.1,-0.1l0.2,-1.1M1709.7,89.5l0.4,1.6l-0.1,1.6l-0.5,1.6M1725.9,123.8l-0.8,-1.5l-0.8,-1.5l0.2,-1.7M1735.0,107.4l1.2,-0.9l1.4,-0.6l0.0,-1.6M1825.4,108.6l0.2,0.8l0.4,0.7l0.5,-0.6" stroke="#700000" stroke-width="0.6" stroke-linecap="round" stroke-linejoin="round" fill="none" opacity="1.0"/>
<path d="M1783.2,60.6l0.4,-1.4l0.4,-1.4l1.3,-0.7M1797.1,144.9l-1.8,-0.6l0.0,-1.9l-0.8,-1.7M1749.6,69.4l-0.5,1.1l0.7,1.0l-0.3,1.2M1738.6,167.9l-1.0,-1.5l-0.7,-1.7l-1.5,-1.0M1820.2,87.9l0.6,-0.6l-0.0,-0.8l0.4,-0.7M1809.4,125.1l-1.2,0.7l-1.3,0.5l-1.4,0.1M1790.4,71.2l1.7,-0.5l1.8,-0.1l1.6,0.8" stroke="#700000" stroke-width="0.7" stroke-linecap="round" stroke-linejoin="round" fill="none" opacity="1.0"/>
<path d="M1718.1,160.9l-1.3,-0.3l-1.2,-0.7l-1.3,-0.3M1802.6,179.1l0.1,1.2l0.8,0.9l-0.0,1.2" stroke="#700000" stroke-width="0.8" stroke-linecap="round" stroke-linejoin="round" fill="none" opacity="1.0"/>
<path d="M1786.5,125.3l-1.3,0.4l-1.3,0.4l-1.2,0.6M1821.9,94.5l0.5,-1.4l1.5,0.1l1.1,1.0M1730.3,79.4l0.5,1.4l0.4,1.4l-1.0,1.1M1735.4,147.6l-0.9,-1.5l-1.7,-0.4l-1.4,1.0M1768.4,130.8l-0.9,-1.1l-0.6,-1.3l-0.9,-1.1" stroke="#800000" stroke-width="0.5" stroke-linecap="round" stroke-linejoin="round" fill="none" opacity="1.0"/>
<path d="M1775.6,86.7l-1.8,0.8l-1.0,1.7l-0.2,1.9M1814.3,62.2l0.7,1.5l1.6,0.5l1.3,1.0M1716.7,114.1l-1.0,0.4l-1.0,0.4l-0.7,0.8M1709.9,140.0l0.9,-1.6l-0.9,-1.5l-1.2,-1.3" stroke="#800000" stroke-width="0.6" stroke-linecap="round" stroke-linejoin="round" fill="none" opacity="1.0"/>
<path d="M1815.9,177.9l-0.1,-1.4l0.2,-1.4l0.6,-1.2M1763.2,72.8l0.7,0.7l0.9,0.4l0.8,-0.6M1703.4,134.5l1.1,-0.8l0.4,-1.2l0.5,-1.2M1798.5,148.7l0.1,0.9l-0.7,0.6l-0.8,0.5M1744.8,66.0l-0.6,-1.0l-0.2,-1.1l-0.4,-1.1" stroke="#800000" stroke-width="0.7" stroke-linecap="round" stroke-linejoin="round" fill="none" opacity="1.0"/>
<path d="M1804.2,150.3l-1.5,-0.7l-1.0,1.3l-1.3,1.0M1813.6,173.8l0.0,2.0l-1.1,1.6l-1.1,1.6M1755.5,158.0l0.7,-0.6l0.2,-0.9l0.7,-0.6" stroke="#800000" stroke-width="0.8" stroke-linecap="round" stroke-linejoin="round" fill="none" opacity="1.0"/>
<path d="M1693.3,58 C1693.5,85 1688,110 1689.3,128 C1691,150 1706,166 1728,174.5 C1742,179.5 1752,181.5 1760,183.5" fill="none" stroke="#ff2020" stroke-width="2.2" opacity="0.95"/>
<path d="M1695.4,60 C1694,90 1690,115 1693,135 C1698,155 1715,170 1735,177 C1745,180 1752,182 1760,183" fill="none" stroke="#fff" stroke-width="3" stroke-dasharray="12,6.5"/>
<line x1="1663.8" y1="57.0" x2="1663.8" y2="185.0" stroke="#bbb" stroke-width="1.2"/>
<rect x="1829.0" y="57.0" width="3.0" height="128.0" fill="#333"/>
<rect x="1789.3" y="58.6" width="38.7" height="38.4" fill="#3c3c3c" opacity="1.0"/>
<text x="1809.0" y="85.5" font-size="28" text-anchor="middle" fill="#fff">v</text>
<text x="1720.0" y="126.3" font-size="23" textLength="64.5" lengthAdjust="spacingAndGlyphs" fill="#fff">Tumor</text>
<rect x="1813.6" y="178.2" width="9.9" height="3.2" fill="#fff"/>
</g>
<g clip-path="url(#cpvi)">
<rect x="1664.8" y="192.0" width="167.5" height="128.2" fill="#000"/>
<g mask="url(#mvi)"><g transform="rotate(60 1705 255)"><rect x="1610" y="160" width="190" height="190" fill="#fff" filter="url(#fRedTex)"/></g></g>
<path d="M1763.5,313.1l-2.4,-1.7l-2.6,-1.4l-2.8,-0.8M1714.0,229.4l2.4,-0.2l2.2,-1.0l0.2,-2.4M1722.2,216.2l2.2,1.1l2.4,-0.3l2.2,-1.0M1743.4,269.2l2.3,1.7l2.3,1.8l1.9,2.1M1675.8,201.6l2.6,0.3l2.5,-0.5l2.2,-1.4M1717.7,239.4l-0.4,2.1l-0.5,2.1l-2.1,0.0M1714.4,231.0l-0.9,-0.5l-1.0,-0.4l-1.0,0.2M1746.9,276.1l-0.9,-1.3l-1.3,-0.9l-0.8,-1.3M1712.9,232.5l2.4,1.0l2.2,1.5l2.6,0.2M1753.3,286.2l0.4,1.7l0.7,1.6l0.2,1.7" stroke="#c00000" stroke-width="0.7" stroke-linecap="round" stroke-linejoin="round" fill="none" opacity="1.0"/>
<path d="M1666.8,199.4l-1.5,-2.3l-2.7,0.3l-2.5,1.1M1752.6,265.9l1.8,0.9l1.5,1.4l1.5,1.4M1731.8,248.4l-1.9,-0.9l-1.4,-1.6l-1.4,-1.6M1737.0,197.9l-1.6,1.0l-1.3,1.5l-0.9,1.7M1700.5,219.5l-0.9,0.7l-1.2,0.1l-1.0,-0.7M1735.0,230.8l-0.2,1.6l-0.5,1.6l-1.6,0.6M1756.5,320.6l2.2,1.0l2.0,1.5l2.1,1.2M1732.5,254.3l2.5,-0.2l1.6,2.0l0.9,2.4M1745.7,302.9l2.9,0.3l2.9,0.5l2.9,0.3" stroke="#c00000" stroke-width="0.8" stroke-linecap="round" stroke-linejoin="round" fill="none" opacity="1.0"/>
<path d="M1742.4,274.7l-0.1,2.2l-1.6,1.6l-2.1,-0.6M1735.2,253.9l-1.4,0.7l-1.1,1.2l-0.7,-1.4M1725.5,243.9l0.1,2.9l-1.1,2.6l0.3,2.9M1746.4,281.2l0.6,1.2l1.3,0.2l1.3,-0.2M1731.4,253.8l2.5,1.5l2.3,-1.8l2.1,2.0M1713.6,241.7l-0.6,-0.9l0.1,-1.1l0.3,-1.1M1708.6,234.0l-0.9,-0.9l-1.0,-0.8l-0.4,-1.2" stroke="#c00000" stroke-width="0.9" stroke-linecap="round" stroke-linejoin="round" fill="none" opacity="1.0"/>
<path d="M1744.4,264.6l1.3,-0.4l1.1,0.8l0.7,1.2M1747.4,274.2l-1.2,2.4l-0.4,2.7l-1.3,2.4M1752.3,284.4l1.1,0.3l1.0,-0.6l1.2,-0.1M1746.8,319.6l-2.5,1.6l-1.9,2.2l-2.9,-0.0M1726.6,228.3l2.4,-0.4l2.4,0.3l1.8,-1.7M1770.5,304.2l0.7,-0.8l0.9,-0.5l1.0,0.2M1712.5,203.0l-0.8,1.6l0.3,1.8l1.1,1.4M1747.2,284.8l2.5,1.2l2.6,0.9l2.7,-0.7M1754.4,299.4l-0.9,-0.6l-0.9,-0.6l-0.9,-0.5" stroke="#c00000" stroke-width="1.0" stroke-linecap="round" stroke-linejoin="round" fill="none" opacity="1.0"/>
<path d="M1718.0,202.0l-2.3,0.5l-2.3,0.5l-2.3,0.5M1723.3,233.1l2.1,-1.8l2.4,-1.4l2.1,-1.8M1748.2,304.6l-0.2,1.1l0.1,1.1l-0.1,1.1M1753.0,289.3l1.7,0.8l1.9,0.2l1.8,-0.6M1745.2,251.7l2.1,0.3l2.1,-0.5l0.5,-2.1M1718.8,242.0l-1.2,2.1l-1.3,2.0l-1.1,2.1M1667.2,203.2l1.1,-2.6l0.7,-2.7l1.5,-2.4M1749.8,286.9l2.0,-1.9l1.5,-2.4l1.5,-2.4" stroke="#c00000" stroke-width="1.1" stroke-linecap="round" stroke-linejoin="round" fill="none" opacity="1.0"/>
<path d="M1744.6,280.5l0.4,2.7l2.1,1.7l0.6,2.7M1670.3,201.1l1.1,-0.8l0.8,-1.1l0.6,-1.2M1666.6,200.1l0.8,-1.8l-0.8,-1.8l0.2,-2.0M1731.3,254.2l1.7,0.6l1.8,0.5l1.7,0.6M1743.3,278.2l-1.8,-1.9l-1.0,-2.4l0.2,-2.6M1739.0,258.2l-1.1,0.2l-1.1,-0.1l-1.1,0.1M1725.1,238.5l-2.0,-0.1l-1.9,0.6l-1.1,1.7M1742.7,273.0l0.6,-1.5l0.3,-1.6l0.1,-1.6M1713.4,210.0l-0.8,2.2l-0.1,2.4l-1.8,1.5M1750.9,301.7l0.8,1.4l0.2,1.7l1.0,1.4M1763.9,262.4l-1.0,-0.6l-0.8,-0.9l-0.9,-0.8" stroke="#c00000" stroke-width="1.2" stroke-linecap="round" stroke-linejoin="round" fill="none" opacity="1.0"/>
<path d="M1727.7,203.3l0.4,-1.3l1.3,0.3l1.3,0.3M1720.7,235.0l0.7,-2.2l1.8,-1.5l1.0,-2.1M1676.6,202.2l1.0,-0.5l0.9,-0.6l1.0,-0.6M1725.6,250.2l0.9,1.8l0.3,2.0l0.9,1.8M1729.5,245.9l-0.6,2.8l0.2,2.9l1.7,2.3" stroke="#c00000" stroke-width="1.3" stroke-linecap="round" stroke-linejoin="round" fill="none" opacity="1.0"/>
<path d="M1741.8,262.4l1.1,2.0l0.5,2.2l-0.4,2.2M1758.0,277.6l-0.0,-1.9l1.1,-1.5l0.3,-1.9M1719.5,248.1l-1.7,-0.4l-1.7,-0.3l-1.5,-0.9M1746.4,291.0l-0.3,-1.4l-1.0,-1.1l-1.4,-0.3M1726.6,240.4l-0.7,0.8l-1.0,0.5l-0.9,0.6M1746.1,304.3l-0.2,-1.8l-0.6,-1.7l-1.3,-1.3M1708.1,223.4l1.5,1.7l2.2,0.4l2.2,-0.7M1678.5,202.6l-0.8,0.9l-0.8,1.0l-1.1,0.6" stroke="#c00000" stroke-width="1.4" stroke-linecap="round" stroke-linejoin="round" fill="none" opacity="1.0"/>
<path d="M1681.3,208.0l0.1,1.9l-0.1,1.9l1.1,1.6M1680.1,195.6l-0.2,1.1l-0.8,0.7l-0.7,0.8M1747.7,295.9l-0.2,-1.2l-0.2,-1.2l-1.2,-0.1M1681.2,208.4l0.4,2.0l-0.0,2.1l-0.3,2.0" stroke="#c00000" stroke-width="1.5" stroke-linecap="round" stroke-linejoin="round" fill="none" opacity="1.0"/>
<path d="M1700.7,192.4l0.3,-2.6l2.6,-0.5l1.9,-1.9M1682.7,205.9l-1.2,1.9l0.5,2.2l-0.2,2.3M1745.3,288.7l-1.6,-1.5l-0.5,-2.2l-1.6,-1.6M1707.6,229.3l1.7,1.4l2.2,-0.3l1.7,-1.5M1749.9,288.2l1.8,2.2l-0.3,2.8l-2.4,1.5M1751.8,314.3l0.2,2.0l-1.7,1.1l-1.9,-0.8M1747.0,293.3l0.8,-2.4l1.3,-2.1l1.8,-1.7M1760.4,257.9l1.7,0.4l1.6,0.4l1.4,-0.9" stroke="#e00000" stroke-width="0.7" stroke-linecap="round" stroke-linejoin="round" fill="none" opacity="1.0"/>
<path d="M1692.8,203.2l0.1,2.1l-1.0,1.8l-0.8,2.0M1665.6,193.6l0.3,1.0l0.4,0.9l0.3,1.0M1743.1,273.7l0.8,-2.3l1.3,-2.1l2.5,0.0" stroke="#e00000" stroke-width="0.8" stroke-linecap="round" stroke-linejoin="round" fill="none" opacity="1.0"/>
<path d="M1772.5,291.5l1.7,0.2l1.7,0.4l1.6,0.6M1705.2,221.8l0.2,-1.0l-0.2,-1.0l-1.1,0.0M1746.2,255.6l-0.3,-2.3l-1.2,-2.0l-1.3,-1.9M1758.0,305.2l-2.1,0.1l-1.7,1.2l-2.0,0.8M1747.5,267.9l-1.3,0.1l-1.2,-0.5l-0.8,-1.1M1691.9,205.4l-1.4,-0.5l-1.4,-0.2l-1.4,0.4M1748.9,281.0l1.0,0.8l1.2,0.6l1.0,0.9" stroke="#e00000" stroke-width="0.9" stroke-linecap="round" stroke-linejoin="round" fill="none" opacity="1.0"/>
<path d="M1693.1,205.7l-2.0,1.0l-1.1,1.9l-1.4,1.7M1759.8,273.3l2.2,-0.5l1.4,-1.7l1.4,-1.8M1680.5,200.0l-0.4,1.3l-0.4,1.3l-0.3,1.3M1744.5,261.3l-0.9,2.7l-2.6,1.2l-2.8,0.8M1733.8,258.5l-0.1,-1.8l-0.4,-1.8l0.7,-1.7M1750.8,296.0l-0.6,-1.0l-0.9,-0.8l-0.8,0.8M1708.5,226.3l1.7,1.5l0.0,2.2l-1.6,1.5M1748.6,305.2l0.9,1.6l0.3,1.8l-0.5,1.7" stroke="#e00000" stroke-width="1.0" stroke-linecap="round" stroke-linejoin="round" fill="none" opacity="1.0"/>
<path d="M1734.9,263.2l1.2,1.3l1.1,1.4l0.5,1.7M1768.4,304.8l1.1,0.3l0.6,1.0l1.0,0.4M1750.8,287.2l-2.5,1.4l-2.4,1.6l-2.7,0.9M1735.8,261.2l-1.9,1.3l-2.1,1.0l-2.3,0.1M1754.0,246.9l1.4,-1.7l1.8,-1.2l2.2,-0.3M1747.8,311.1l-1.2,-1.3l-1.5,-1.0l-0.3,-1.7" stroke="#e00000" stroke-width="1.1" stroke-linecap="round" stroke-linejoin="round" fill="none" opacity="1.0"/>
<path d="M1756.8,306.6l-0.2,-2.5l0.7,-2.4l1.2,-2.2M1752.8,300.0l0.7,1.7l1.7,0.5l1.7,-0.5M1750.0,286.0l1.2,0.9l1.5,0.4l1.3,0.8M1685.8,199.1l-1.3,-0.8l-1.5,-0.3l-1.5,0.1M1710.8,234.1l0.8,1.1l1.0,-0.9l0.4,-1.3M1762.5,254.6l0.4,2.1l-1.7,1.3l-2.1,0.1M1744.7,259.6l-2.0,0.9l-0.6,2.1l0.5,2.1M1752.5,245.8l-0.7,-2.4l-0.7,-2.4l-0.4,-2.5M1731.9,256.7l-1.0,-1.9l-0.1,-2.1l1.2,-1.8M1669.2,195.7l0.7,2.2l-0.5,2.3l-0.9,2.1M1744.1,248.1l2.3,1.4l2.7,0.4l2.3,-1.4" stroke="#e00000" stroke-width="1.2" stroke-linecap="round" stroke-linejoin="round" fill="none" opacity="1.0"/>
<path d="M1749.9,275.6l-1.3,2.3l-2.0,1.8l1.0,2.5M1764.2,300.1l-0.9,1.3l-1.5,0.6l-1.1,1.2M1744.6,268.4l-1.9,-0.7l-1.1,-1.7l-1.6,-1.1M1722.3,250.2l0.5,1.2l1.2,0.4l1.2,-0.6M1745.8,286.2l-0.5,-1.5l0.1,-1.6l-1.4,-0.8M1688.2,204.6l0.2,2.8l0.3,2.8l2.2,1.7M1760.5,308.2l-0.8,-0.7l-1.0,-0.2l-0.5,-0.9M1729.3,226.5l-2.1,1.8l-2.7,0.5l-2.3,1.5" stroke="#e00000" stroke-width="1.3" stroke-linecap="round" stroke-linejoin="round" fill="none" opacity="1.0"/>
<path d="M1761.3,244.8l-0.8,1.5l-1.5,-0.8l-1.6,-0.5M1710.3,221.3l-0.1,-1.2l-1.0,-0.6l-1.2,-0.1M1749.8,277.4l-1.6,-0.2l-1.6,0.0l-1.4,0.8M1718.8,225.0l1.8,0.7l1.7,0.8l1.9,0.0M1754.5,251.3l1.0,1.4l0.7,1.5l1.7,-0.3M1729.1,252.8l1.4,0.4l1.4,0.4l0.9,1.1" stroke="#e00000" stroke-width="1.4" stroke-linecap="round" stroke-linejoin="round" fill="none" opacity="1.0"/>
<path d="M1717.8,250.6l1.1,0.7l1.0,0.9l0.2,1.3M1756.8,275.0l2.3,0.5l2.3,-0.5l2.4,-0.0M1742.4,273.5l-0.0,-2.5l-0.3,-2.4l0.5,-2.4M1747.9,306.0l1.3,-0.9l1.5,-0.2l0.9,-1.3M1744.2,272.4l-2.1,1.5l-2.1,1.5l-0.4,-2.6M1714.4,215.5l-0.3,2.2l-1.2,1.9l-1.7,1.5" stroke="#e00000" stroke-width="1.5" stroke-linecap="round" stroke-linejoin="round" fill="none" opacity="1.0"/>
<path d="M1745.7,277.7l1.1,0.4l1.0,0.5l0.9,-0.6M1731.6,230.4l-0.8,-1.6l-1.0,-1.5l0.6,-1.7M1708.0,231.3l-1.4,1.6l-1.5,1.4l-1.1,1.8M1752.0,272.0l-1.3,0.4l-0.2,1.4l0.7,1.2M1694.4,208.4l-2.2,1.7l-2.7,0.5l-2.2,-1.6M1746.3,292.5l0.9,-2.4l2.3,-0.9l2.4,-0.6" stroke="#ff1010" stroke-width="0.7" stroke-linecap="round" stroke-linejoin="round" fill="none" opacity="1.0"/>
<path d="M1732.8,227.7l0.9,-2.5l-1.1,-2.4l0.2,-2.6M1763.4,298.2l-2.5,1.6l-1.8,2.4l-2.6,-1.4M1697.3,214.6l-0.1,-2.2l1.3,-1.8l2.2,-0.4M1710.3,238.2l-1.4,-0.9l-1.2,-1.1l-1.5,-0.7M1748.1,268.6l-1.4,0.6l-1.2,0.8l-1.3,0.7M1733.1,223.1l-0.2,-1.6l-0.2,-1.6l0.6,-1.5M1750.7,268.9l-1.3,1.7l1.8,1.3l0.7,2.1M1726.4,252.2l-0.9,-2.3l0.4,-2.4l-0.0,-2.4M1739.3,261.4l-1.2,-0.3l-1.3,0.0l-1.2,0.1M1738.0,227.1l-2.6,-0.7l-2.7,0.2l-2.6,0.8M1739.1,268.8l-1.6,1.4l-1.9,-0.8l-0.4,-2.0" stroke="#ff1010" stroke-width="0.8" stroke-linecap="round" stroke-linejoin="round" fill="none" opacity="1.0"/>
<path d="M1717.8,247.9l1.5,-2.3l2.2,-1.5l2.3,-1.4M1676.8,201.9l1.9,0.7l1.7,1.1l2.0,0.0M1729.7,249.1l-0.2,2.0l0.4,2.0l1.3,1.6M1731.3,206.3l0.8,1.1l0.8,1.1l1.2,0.7M1756.7,257.8l1.7,0.4l1.7,0.1l1.0,1.4M1665.1,201.3l0.4,2.0l-1.7,1.2l-1.8,-1.0M1709.4,226.7l-2.1,-2.1l-1.5,-2.6l0.1,-3.0" stroke="#ff1010" stroke-width="0.9" stroke-linecap="round" stroke-linejoin="round" fill="none" opacity="1.0"/>
<path d="M1746.0,266.4l-1.2,2.7l-2.3,1.8l-2.8,0.9M1721.2,245.3l0.3,-1.7l-1.0,-1.4l-0.0,-1.7M1735.3,245.8l-0.8,-2.0l-1.5,-1.5l-1.2,-1.8M1760.2,293.7l1.5,2.0l0.0,2.5l1.4,2.0M1746.5,299.5l1.2,1.1l1.0,1.3l-1.2,1.1M1710.0,211.0l-2.5,-1.6l-2.8,-1.0l-2.5,1.5M1729.0,249.6l-1.3,1.4l-0.6,1.8l-1.2,1.5M1675.3,192.1l-1.2,1.3l-1.5,1.1l-1.3,1.3M1725.8,242.3l-0.5,2.0l2.1,-0.1l2.0,0.6" stroke="#ff1010" stroke-width="1.0" stroke-linecap="round" stroke-linejoin="round" fill="none" opacity="1.0"/>
<path d="M1704.2,193.3l-2.1,1.2l-2.1,-1.2l-0.5,-2.4M1695.4,214.2l-1.1,-0.9l-0.5,-1.3l-1.3,0.5M1760.5,301.8l-1.9,0.9l-1.6,-1.4l-2.1,0.0M1724.2,241.8l0.4,-2.6l-2.0,-1.7l-2.4,-0.9M1723.8,205.4l-1.1,-1.2l-1.6,0.3l-1.6,0.1M1675.5,193.2l-2.3,-1.9l-3.0,0.2l-2.9,0.7M1710.8,238.0l2.1,1.0l1.2,1.9l1.0,2.0M1708.5,222.6l-2.1,0.4l-2.2,0.3l-2.2,-0.2" stroke="#ff1010" stroke-width="1.1" stroke-linecap="round" stroke-linejoin="round" fill="none" opacity="1.0"/>
<path d="M1749.8,285.3l-1.1,1.4l-1.2,1.4l-0.2,1.8M1711.1,226.2l0.1,1.2l-0.1,1.2l-1.0,0.6M1727.5,246.3l0.1,-1.2l-0.2,-1.2l-0.2,-1.2M1710.4,207.4l1.6,1.7l2.3,0.2l0.4,-2.2M1722.7,241.6l-1.8,1.1l-1.3,1.7l1.6,1.5M1710.2,228.1l-0.8,-0.7l-0.6,-0.9l-0.5,-0.9" stroke="#ff1010" stroke-width="1.2" stroke-linecap="round" stroke-linejoin="round" fill="none" opacity="1.0"/>
<path d="M1761.2,305.5l-1.0,-0.6l-1.0,-0.6l-1.1,-0.4M1748.9,276.8l2.0,-0.6l2.0,0.4l2.0,-0.4M1746.4,259.8l0.1,1.6l0.6,1.5l0.3,1.6M1747.4,290.3l-2.5,-0.5l-1.9,1.7l-0.4,2.5M1710.3,238.4l-2.5,0.5l-1.4,2.2l0.4,2.6M1716.4,226.2l0.4,-1.1l0.6,-0.9l0.9,-0.7M1755.1,317.8l-1.5,1.4l-1.7,1.1l-1.0,-1.8M1707.3,224.0l-0.9,-1.5l0.4,-1.7l-0.3,-1.7" stroke="#ff1010" stroke-width="1.3" stroke-linecap="round" stroke-linejoin="round" fill="none" opacity="1.0"/>
<path d="M1690.4,210.2l-0.0,-1.8l1.1,-1.4l1.7,-0.7M1711.8,221.0l-2.2,0.4l-2.1,0.7l-1.7,1.4M1753.0,287.2l0.3,1.9l-0.1,1.9l0.8,1.7" stroke="#ff1010" stroke-width="1.4" stroke-linecap="round" stroke-linejoin="round" fill="none" opacity="1.0"/>
<path d="M1743.6,208.1l0.8,1.3l-0.2,1.5l-1.0,1.2M1749.0,298.6l1.2,-0.2l1.2,0.0l1.1,0.5" stroke="#ff1010" stroke-width="1.5" stroke-linecap="round" stroke-linejoin="round" fill="none" opacity="1.0"/>
<path d="M1736.5,257.5l0.9,1.5l0.4,1.7l-0.5,1.7M1755.6,295.7l-2.4,0.4l-2.1,1.2l-2.5,-0.2" stroke="#ff3030" stroke-width="0.7" stroke-linecap="round" stroke-linejoin="round" fill="none" opacity="1.0"/>
<path d="M1689.8,210.6l-0.2,-2.4l1.7,-1.7l1.2,-2.1M1715.1,219.3l-1.8,-2.2l-0.7,-2.8l-2.6,1.3M1738.9,248.2l1.6,2.5l2.9,0.7l-0.1,3.0M1747.4,308.5l2.0,2.1l2.9,-0.1l1.5,2.5M1732.5,254.2l-2.6,-1.1l-2.8,0.1l-2.1,1.8M1697.0,208.7l1.0,0.1l1.0,-0.1l0.9,0.5M1718.0,248.3l0.5,2.0l-2.0,0.6l-1.5,-1.5M1751.9,297.2l0.2,-1.2l0.2,-1.2l-0.1,-1.2M1735.7,239.3l-0.0,-1.5l0.8,-1.2l1.4,-0.4" stroke="#ff3030" stroke-width="0.8" stroke-linecap="round" stroke-linejoin="round" fill="none" opacity="1.0"/>
<path d="M1777.0,263.5l-1.9,1.3l-2.3,-0.1l-2.1,-1.0M1730.5,235.4l1.2,0.8l1.0,1.0l1.4,0.3M1716.2,209.4l-1.5,-0.6l-1.5,-0.5l-1.1,-1.1M1761.7,297.3l0.5,1.6l0.2,1.6l-0.9,1.4M1753.8,284.6l-0.0,-1.2l1.0,-0.7l0.1,-1.2M1719.0,247.2l0.8,-1.6l-1.8,0.0l-1.0,1.4M1769.0,246.1l1.1,1.3l1.7,-0.5l1.4,-1.0M1685.4,209.6l0.8,-1.6l-0.1,-1.8l-0.1,-1.8" stroke="#ff3030" stroke-width="0.9" stroke-linecap="round" stroke-linejoin="round" fill="none" opacity="1.0"/>
<path d="M1694.6,207.0l1.5,-1.9l1.1,-2.2l-1.1,-2.2M1685.5,200.9l-2.3,-0.6l-1.6,-1.7l-2.2,-0.9M1742.9,252.9l-1.4,-1.2l-1.8,-0.4l-1.8,0.1M1726.4,208.2l1.5,1.3l1.4,1.4l1.9,0.6M1746.1,316.9l-0.1,1.4l-1.4,-0.3l-1.1,-0.9M1756.1,284.2l1.5,-0.3l0.6,-1.4l1.1,-1.1M1751.2,290.8l-1.5,-1.8l-0.3,-2.3l0.4,-2.3M1745.9,301.5l1.9,0.4l1.9,-0.2l1.8,0.6M1732.1,246.0l0.4,-1.3l1.1,-0.8l1.3,0.1M1712.0,234.6l-1.7,1.7l-1.0,2.2l0.6,2.3" stroke="#ff3030" stroke-width="1.0" stroke-linecap="round" stroke-linejoin="round" fill="none" opacity="1.0"/>
<path d="M1711.5,212.4l1.0,2.4l-0.0,2.6l0.1,2.6M1749.0,302.6l-1.6,-1.7l-2.3,-0.4l-2.2,-0.7M1747.7,266.6l1.7,1.2l1.9,0.6l1.9,0.6M1745.9,283.5l1.0,-1.8l-0.1,-2.0l1.5,-1.3M1668.8,202.8l-2.6,-0.1l-2.4,-1.0l-2.6,0.1M1720.5,228.0l0.3,1.5l0.3,1.5l0.5,1.5M1759.6,288.9l0.4,2.8l-1.7,2.3l-2.8,-0.6M1737.5,265.9l0.4,2.4l-1.7,1.8l-0.6,2.4M1701.5,203.5l-0.4,-2.3l1.3,-2.0l-0.5,-2.3" stroke="#ff3030" stroke-width="1.1" stroke-linecap="round" stroke-linejoin="round" fill="none" opacity="1.0"/>
<path d="M1771.7,285.7l-0.8,1.5l-0.9,1.5l-1.5,0.9M1718.8,247.4l-1.1,0.4l-1.2,-0.0l-1.2,0.1M1749.3,273.7l-2.4,0.2l-2.4,0.0l-1.6,1.8M1735.4,260.8l0.8,-2.2l2.3,0.1l2.2,0.5" stroke="#ff3030" stroke-width="1.2" stroke-linecap="round" stroke-linejoin="round" fill="none" opacity="1.0"/>
<path d="M1750.9,265.9l1.0,1.3l1.4,0.8l-0.5,1.6M1737.5,225.7l2.4,-0.5l2.2,-1.0l0.2,-2.4M1711.2,239.6l-2.3,-0.7l-1.4,-2.0l-0.1,-2.4M1759.4,275.3l2.7,-0.9l2.0,-2.0l1.0,-2.7M1713.6,238.7l-0.8,2.2l-2.0,1.2l-0.2,2.3" stroke="#ff3030" stroke-width="1.3" stroke-linecap="round" stroke-linejoin="round" fill="none" opacity="1.0"/>
<path d="M1675.9,200.7l0.1,1.9l-1.7,0.8l-0.4,1.9M1718.3,236.0l0.9,-2.0l2.1,-0.3l1.9,-1.0M1723.7,248.6l-0.7,-2.4l-0.4,-2.5l0.8,-2.4M1715.5,240.7l-2.2,0.1l-2.0,0.9l-2.2,0.1M1720.0,239.8l1.3,0.7l1.4,-0.5l1.5,-0.0M1733.9,261.1l-2.1,1.7l-2.4,1.2l-2.7,0.5" stroke="#ff3030" stroke-width="1.4" stroke-linecap="round" stroke-linejoin="round" fill="none" opacity="1.0"/>
<path d="M1708.5,228.4l0.0,1.5l-0.2,1.5l-0.1,1.5M1750.2,291.2l1.0,-1.3l-0.9,-1.4l-0.5,-1.6M1752.0,290.7l0.9,2.8l1.8,2.3l2.5,1.6M1732.5,249.0l-0.2,-1.1l-0.8,-0.7l-0.4,-1.0M1747.1,277.0l1.0,0.7l0.7,1.0l0.2,1.2" stroke="#ff3030" stroke-width="1.5" stroke-linecap="round" stroke-linejoin="round" fill="none" opacity="1.0"/>
<path d="M1803.1,316.5l-0.8,2.8l-1.7,2.3l-2.4,1.6M1750.3,257.7l-1.8,1.0l-1.7,1.2l0.1,2.0" stroke="#600000" stroke-width="0.5" stroke-linecap="round" stroke-linejoin="round" fill="none" opacity="1.0"/>
<path d="M1755.2,240.5l0.7,-1.1l-0.2,-1.2l-0.5,-1.2M1800.2,263.4l1.0,-1.5l1.3,-1.3l1.2,-1.4M1809.7,213.6l-1.1,-0.6l-0.9,-0.9l0.1,-1.3M1754.2,315.4l-0.5,-2.0l0.0,-2.1l2.1,0.2" stroke="#600000" stroke-width="0.6" stroke-linecap="round" stroke-linejoin="round" fill="none" opacity="1.0"/>
<path d="M1760.9,317.2l1.1,0.4l0.4,1.0l0.1,1.1M1738.3,232.4l1.2,1.6l1.2,1.6l1.3,1.6M1786.9,205.5l2.3,0.6l2.2,1.0l0.4,2.4M1759.6,219.7l-2.6,-0.8l-2.7,0.3l-1.6,-2.2M1808.7,201.0l1.3,2.0l2.3,-0.6l2.3,-0.3" stroke="#600000" stroke-width="0.7" stroke-linecap="round" stroke-linejoin="round" fill="none" opacity="1.0"/>
<path d="M1786.5,269.9l0.2,-1.7l0.8,-1.5l0.7,-1.6M1722.2,311.8l-2.1,1.2l-2.4,0.7l-2.3,0.8" stroke="#600000" stroke-width="0.8" stroke-linecap="round" stroke-linejoin="round" fill="none" opacity="1.0"/>
<path d="M1796.5,228.8l-0.9,-2.7l0.5,-2.8l0.5,-2.8" stroke="#600000" stroke-width="0.9" stroke-linecap="round" stroke-linejoin="round" fill="none" opacity="1.0"/>
<path d="M1799.9,261.3l2.2,0.5l2.3,-0.2l2.0,-1.1M1812.9,314.9l-1.9,0.4l-1.8,-0.8l-0.7,-1.8M1719.6,286.7l0.7,1.7l-0.9,1.6l1.2,1.4" stroke="#800000" stroke-width="0.5" stroke-linecap="round" stroke-linejoin="round" fill="none" opacity="1.0"/>
<path d="M1825.5,242.7l2.7,0.2l2.7,-0.5l1.8,-2.1M1786.3,249.2l-0.2,-1.0l-0.4,-1.0l-0.5,-0.9M1728.9,236.2l1.8,-0.9l2.0,0.4l1.8,-1.0" stroke="#800000" stroke-width="0.6" stroke-linecap="round" stroke-linejoin="round" fill="none" opacity="1.0"/>
<path d="M1733.2,217.6l-1.2,-1.6l-1.1,-1.7l0.8,-1.8M1792.5,296.6l0.8,-1.1l-0.7,-1.1l-1.2,-0.6M1740.3,318.2l0.4,2.0l2.1,0.1l2.0,-0.4M1760.5,305.7l2.0,1.7l1.2,2.3l2.5,0.6M1803.2,197.9l0.5,2.7l2.0,1.9l1.5,2.3" stroke="#800000" stroke-width="0.7" stroke-linecap="round" stroke-linejoin="round" fill="none" opacity="1.0"/>
<path d="M1766.1,238.3l1.1,-0.3l1.2,-0.1l1.2,0.2M1744.9,212.8l1.7,2.4l1.9,2.2l2.5,1.6M1788.2,260.1l0.7,-2.3l1.3,-2.0l-0.6,-2.3" stroke="#800000" stroke-width="0.8" stroke-linecap="round" stroke-linejoin="round" fill="none" opacity="1.0"/>
<path d="M1760.0,269.6l-1.2,0.5l-1.2,0.4l-1.3,0.2" stroke="#800000" stroke-width="0.9" stroke-linecap="round" stroke-linejoin="round" fill="none" opacity="1.0"/>
<path d="M1810.7,280.5l1.6,-0.4l1.3,-1.0l1.1,-1.2M1825.4,253.1l-1.0,0.5l-0.6,0.9l-0.7,0.9" stroke="#a00000" stroke-width="0.5" stroke-linecap="round" stroke-linejoin="round" fill="none" opacity="1.0"/>
<path d="M1725.9,230.7l1.0,-0.1l0.8,-0.5l0.8,0.6M1807.9,265.4l-1.5,0.6l-1.6,0.4l-1.6,-0.3M1738.3,280.8l2.0,-1.5l2.4,0.6l2.4,0.7M1779.5,200.3l1.1,-1.4l0.2,-1.7l1.5,-0.9" stroke="#a00000" stroke-width="0.6" stroke-linecap="round" stroke-linejoin="round" fill="none" opacity="1.0"/>
<path d="M1716.7,303.6l-2.4,-1.2l-2.5,1.1l-1.5,2.2M1728.3,288.5l2.5,0.9l1.0,2.5l0.2,2.7M1746.9,257.5l1.0,2.1l-0.5,2.3l-0.3,2.3M1735.1,238.1l-1.7,-2.0l-2.3,-1.2l-2.3,-1.1M1822.3,296.9l-1.8,1.4l-2.0,1.1l-2.3,0.1M1744.2,270.3l0.4,2.6l-0.5,2.6l0.4,2.6M1828.2,273.7l1.6,-2.0l0.7,-2.5l-0.9,-2.4" stroke="#a00000" stroke-width="0.7" stroke-linecap="round" stroke-linejoin="round" fill="none" opacity="1.0"/>
<path d="M1819.3,286.7l0.7,1.1l0.7,1.1l-0.6,1.2M1718.0,270.6l1.4,-1.7l0.1,-2.2l-0.1,-2.2M1766.5,196.2l-2.0,0.2l-2.0,-0.3l-1.9,0.6M1800.4,195.2l1.7,1.1l0.8,1.9l-0.2,2.0M1726.9,197.2l0.8,0.8l-0.7,0.9l-1.0,0.6M1728.9,306.5l-2.1,-0.2l-1.0,-1.8l-0.8,-1.9M1764.0,258.7l-1.1,0.7l-0.9,1.0l-1.2,-0.4" stroke="#a00000" stroke-width="0.8" stroke-linecap="round" stroke-linejoin="round" fill="none" opacity="1.0"/>
<path d="M1723.6,279.2l-1.1,0.6l-1.1,-0.6l-1.3,-0.1M1741.5,314.8l-1.7,0.2l-1.5,0.8l-1.4,0.9M1792.0,276.8l1.1,2.0l2.2,0.7l1.7,1.5M1789.6,206.1l0.1,-2.4l-1.1,-2.2l-1.1,-2.2" stroke="#a00000" stroke-width="0.9" stroke-linecap="round" stroke-linejoin="round" fill="none" opacity="1.0"/>
<path d="M1664,198.8 L1676,199.8 C1690,204 1705,213 1713,225 C1716,232 1714,240 1716,244.5 C1722,245 1732,246 1737,250 C1742,260 1748,275 1750,290 C1751,300 1752,310 1752,318" fill="none" stroke="#fff" stroke-width="3" stroke-dasharray="12,6.5"/>
<rect x="1791" y="192.9" width="39" height="38.6" fill="#3c3c3c" opacity="1.0"/>
<text x="1810.5" y="220.5" font-size="28" text-anchor="middle" fill="#fff">vi</text>
<text x="1746.5" y="261.2" font-size="23" textLength="64.5" lengthAdjust="spacingAndGlyphs" fill="#fff">Tumor</text>
<rect x="1815.9" y="312.3" width="9.7" height="3.9" fill="#fff"/>
</g>
<rect x="1305" y="56.6" width="172" height="128.6" fill="none" stroke="#000" stroke-width="2"/>
<rect x="1305" y="191.5" width="172" height="129.3" fill="none" stroke="#000" stroke-width="2"/>
<rect x="1484.5" y="56.6" width="171.5" height="128.6" fill="none" stroke="#000" stroke-width="2"/>
<rect x="1484.5" y="191.5" width="171.5" height="129.3" fill="none" stroke="#000" stroke-width="2"/>
<rect x="1662" y="56.1" width="173" height="129.2" fill="none" stroke="#000" stroke-width="2"/>
<rect x="1664.3" y="191.5" width="168.5" height="129.3" fill="none" stroke="#000" stroke-width="2"/>
<line x1="88.7" y1="455.6" x2="88.7" y2="694.0" stroke="#000" stroke-width="2"/>
<line x1="80.4" y1="693.0" x2="547.5" y2="693.0" stroke="#000" stroke-width="2"/>
<line x1="80.4" y1="693.0" x2="88.7" y2="693.0" stroke="#000" stroke-width="2"/>
<text x="73.8" y="697.0" font-size="22" text-anchor="end" textLength="11.9" lengthAdjust="spacingAndGlyphs" fill="#000">0</text>
<line x1="80.4" y1="645.7" x2="88.7" y2="645.7" stroke="#000" stroke-width="2"/>
<text x="74.9" y="649.6" font-size="22" text-anchor="end" textLength="35.7" lengthAdjust="spacingAndGlyphs" fill="#000">300</text>
<line x1="80.4" y1="598.4" x2="88.7" y2="598.4" stroke="#000" stroke-width="2"/>
<text x="74.9" y="602.5" font-size="22" text-anchor="end" textLength="35.7" lengthAdjust="spacingAndGlyphs" fill="#000">600</text>
<line x1="80.4" y1="551.0" x2="88.7" y2="551.0" stroke="#000" stroke-width="2"/>
<text x="74.9" y="554.4" font-size="22" text-anchor="end" textLength="35.7" lengthAdjust="spacingAndGlyphs" fill="#000">900</text>
<line x1="80.4" y1="503.7" x2="88.7" y2="503.7" stroke="#000" stroke-width="2"/>
<text x="74.9" y="507.6" font-size="22" text-anchor="end" textLength="47.6" lengthAdjust="spacingAndGlyphs" fill="#000">1200</text>
<line x1="80.4" y1="456.4" x2="88.7" y2="456.4" stroke="#000" stroke-width="2"/>
<text x="74.9" y="459.3" font-size="22" text-anchor="end" textLength="47.6" lengthAdjust="spacingAndGlyphs" fill="#000">1500</text>
<line x1="88.7" y1="692.0" x2="88.7" y2="699.0" stroke="#000" stroke-width="2"/>
<line x1="126.8" y1="692.0" x2="126.8" y2="696.8" stroke="#000" stroke-width="2"/>
<line x1="165.0" y1="692.0" x2="165.0" y2="699.0" stroke="#000" stroke-width="2"/>
<line x1="203.2" y1="692.0" x2="203.2" y2="696.8" stroke="#000" stroke-width="2"/>
<line x1="241.3" y1="692.0" x2="241.3" y2="699.0" stroke="#000" stroke-width="2"/>
<line x1="279.4" y1="692.0" x2="279.4" y2="696.8" stroke="#000" stroke-width="2"/>
<line x1="317.6" y1="692.0" x2="317.6" y2="699.0" stroke="#000" stroke-width="2"/>
<line x1="355.8" y1="692.0" x2="355.8" y2="696.8" stroke="#000" stroke-width="2"/>
<line x1="393.9" y1="692.0" x2="393.9" y2="699.0" stroke="#000" stroke-width="2"/>
<line x1="432.1" y1="692.0" x2="432.1" y2="696.8" stroke="#000" stroke-width="2"/>
<line x1="470.2" y1="692.0" x2="470.2" y2="699.0" stroke="#000" stroke-width="2"/>
<line x1="508.3" y1="692.0" x2="508.3" y2="696.8" stroke="#000" stroke-width="2"/>
<line x1="546.5" y1="692.0" x2="546.5" y2="699.0" stroke="#000" stroke-width="2"/>
<text x="87.5" y="723.4" font-size="21" text-anchor="middle" textLength="13.0" lengthAdjust="spacingAndGlyphs" fill="#000">0</text>
<text x="163.8" y="723.4" font-size="21" text-anchor="middle" textLength="26.0" lengthAdjust="spacingAndGlyphs" fill="#000">10</text>
<text x="240.1" y="723.4" font-size="21" text-anchor="middle" textLength="26.0" lengthAdjust="spacingAndGlyphs" fill="#000">20</text>
<text x="316.4" y="723.4" font-size="21" text-anchor="middle" textLength="26.0" lengthAdjust="spacingAndGlyphs" fill="#000">30</text>
<text x="392.7" y="723.4" font-size="21" text-anchor="middle" textLength="26.0" lengthAdjust="spacingAndGlyphs" fill="#000">40</text>
<text x="469.0" y="723.4" font-size="21" text-anchor="middle" textLength="26.0" lengthAdjust="spacingAndGlyphs" fill="#000">50</text>
<text x="545.3" y="723.4" font-size="21" text-anchor="middle" textLength="26.0" lengthAdjust="spacingAndGlyphs" fill="#000">60</text>
<text x="185.0" y="747.9" font-size="20.5" textLength="205.5" lengthAdjust="spacingAndGlyphs" fill="#000">Days after transplant</text>
<text transform="translate(20.6,698.8) rotate(-90)" font-size="22" textLength="211.5" lengthAdjust="spacingAndGlyphs">Tumor Volume (mm<tspan font-size="14" dy="-8">3</tspan><tspan dy="8">)</tspan></text>
<text x="98.2" y="442.8" font-size="30.5" textLength="47.5" lengthAdjust="spacingAndGlyphs" fill="#000">WT</text>
<polyline points="165.0,693.0 180.3,689.3 195.5,688.3 210.8,688.3 226.0,687.0 241.3,686.5 247.9,684.7 264.5,680.0 279.3,676.3 297.7,670.8 316.2,665.3 334.7,661.6 346.6,659.6 363.3,654.4 377.5,649.6 393.0,643.7 408.4,640.1 422.6,636.6 436.9,630.6 453.5,623.5 470.1,615.2 486.8,608.1 499.8,601.0" fill="none" stroke="#000" stroke-width="2" stroke-linejoin="round"/>
<polyline points="165.0,693.0 180.3,689.3 195.5,688.3 210.8,688.3 226.0,687.0 241.3,687.4 256.6,685.6 271.8,682.8 287.1,681.0 302.3,679.1 317.6,673.6 332.9,668.0 348.1,665.6 363.4,658.0 378.6,653.2 393.9,649.6 409.2,646.6 424.4,637.3 439.7,629.5 454.9,622.3 470.2,616.4 485.5,614.0 500.7,611.2" fill="none" stroke="#000" stroke-width="1.8" stroke-linejoin="round"/>
<polygon points="250.3,690.1 262.8,690.1 256.6,680.1" fill="#000"/>
<polygon points="265.6,687.3 278.1,687.3 271.8,677.3" fill="#000"/>
<polygon points="280.8,685.5 293.3,685.5 287.1,675.5" fill="#000"/>
<polygon points="296.1,683.6 308.6,683.6 302.3,673.6" fill="#000"/>
<polygon points="311.4,678.1 323.9,678.1 317.6,668.1" fill="#000"/>
<polygon points="326.6,672.5 339.1,672.5 332.9,662.5" fill="#000"/>
<polygon points="341.9,670.1 354.4,670.1 348.1,660.1" fill="#000"/>
<polygon points="357.1,662.5 369.6,662.5 363.4,652.5" fill="#000"/>
<polygon points="372.4,657.7 384.9,657.7 378.6,647.7" fill="#000"/>
<polygon points="387.6,654.1 400.1,654.1 393.9,644.1" fill="#000"/>
<polygon points="402.9,651.1 415.4,651.1 409.2,641.1" fill="#000"/>
<polygon points="418.2,641.8 430.7,641.8 424.4,631.8" fill="#000"/>
<polygon points="433.4,634.0 445.9,634.0 439.7,624.0" fill="#000"/>
<polygon points="448.7,626.8 461.2,626.8 454.9,616.8" fill="#000"/>
<polygon points="463.9,620.9 476.4,620.9 470.2,610.9" fill="#000"/>
<polygon points="479.2,618.5 491.7,618.5 485.5,608.5" fill="#000"/>
<polygon points="494.5,615.7 507.0,615.7 500.7,605.7" fill="#000"/>
<polyline points="165.0,693.0 180.3,689.3 195.5,688.3 210.8,688.3 226.0,687.0 241.3,687.4 256.6,680.4 271.8,674.5 287.1,666.7 302.3,663.4 317.6,655.1 332.9,644.5 348.1,634.5 363.4,623.5 378.6,614.7 393.9,604.5 409.2,595.7 424.4,587.9 439.7,578.4 454.9,560.6 470.2,555.3 485.5,543.9 500.7,528.5" fill="none" stroke="#000" stroke-width="1.8" stroke-linejoin="round"/>
<path d="M256.6,677.0 V684.0 M250.8,677.0 H262.3 M250.8,684.0 H262.3" stroke="#000" stroke-width="1.9" fill="none"/>
<path d="M271.8,670.5 V678.5 M266.1,670.5 H277.6 M266.1,678.5 H277.6" stroke="#000" stroke-width="1.9" fill="none"/>
<path d="M287.1,662.5 V671.0 M281.3,662.5 H292.8 M281.3,671.0 H292.8" stroke="#000" stroke-width="1.9" fill="none"/>
<path d="M302.3,659.0 V668.0 M296.6,659.0 H308.1 M296.6,668.0 H308.1" stroke="#000" stroke-width="1.9" fill="none"/>
<path d="M317.6,649.5 V660.5 M311.9,649.5 H323.4 M311.9,660.5 H323.4" stroke="#000" stroke-width="1.9" fill="none"/>
<path d="M332.9,637.3 V649.6 M327.1,637.3 H338.6 M327.1,649.6 H338.6" stroke="#000" stroke-width="1.9" fill="none"/>
<path d="M348.1,626.4 V641.8 M342.4,626.4 H353.9 M342.4,641.8 H353.9" stroke="#000" stroke-width="1.9" fill="none"/>
<path d="M363.4,617.6 V630.2 M357.6,617.6 H369.1 M357.6,630.2 H369.1" stroke="#000" stroke-width="1.9" fill="none"/>
<path d="M378.6,606.4 V623.0 M372.9,606.4 H384.4 M372.9,623.0 H384.4" stroke="#000" stroke-width="1.9" fill="none"/>
<path d="M393.9,591.4 V617.6 M388.1,591.4 H399.6 M388.1,617.6 H399.6" stroke="#000" stroke-width="1.9" fill="none"/>
<path d="M409.2,582.0 V609.3 M403.4,582.0 H414.9 M403.4,609.3 H414.9" stroke="#000" stroke-width="1.9" fill="none"/>
<path d="M424.4,571.7 V601.0 M418.7,571.7 H430.2 M418.7,601.0 H430.2" stroke="#000" stroke-width="1.9" fill="none"/>
<path d="M439.7,562.2 V594.5 M433.9,562.2 H445.4 M433.9,594.5 H445.4" stroke="#000" stroke-width="1.9" fill="none"/>
<path d="M454.9,545.6 V575.5 M449.2,545.6 H460.7 M449.2,575.5 H460.7" stroke="#000" stroke-width="1.9" fill="none"/>
<path d="M470.2,538.7 V571.3 M464.4,538.7 H475.9 M464.4,571.3 H475.9" stroke="#000" stroke-width="1.9" fill="none"/>
<path d="M485.5,529.0 V557.7 M479.7,529.0 H491.2 M479.7,557.7 H491.2" stroke="#000" stroke-width="1.9" fill="none"/>
<path d="M500.7,513.8 V543.2 M495.0,513.8 H506.5 M495.0,543.2 H506.5" stroke="#000" stroke-width="1.9" fill="none"/>
<rect x="159.0" y="688.1" width="12.0" height="9.8" fill="#000"/>
<rect x="174.3" y="684.4" width="12.0" height="9.8" fill="#000"/>
<rect x="189.5" y="683.4" width="12.0" height="9.8" fill="#000"/>
<rect x="204.8" y="683.4" width="12.0" height="9.8" fill="#000"/>
<rect x="220.0" y="682.1" width="12.0" height="9.8" fill="#000"/>
<rect x="235.3" y="682.5" width="12.0" height="9.8" fill="#000"/>
<rect x="250.6" y="675.5" width="12.0" height="9.8" fill="#000"/>
<rect x="265.8" y="669.6" width="12.0" height="9.8" fill="#000"/>
<rect x="281.1" y="661.8" width="12.0" height="9.8" fill="#000"/>
<rect x="296.3" y="658.5" width="12.0" height="9.8" fill="#000"/>
<rect x="311.6" y="650.2" width="12.0" height="9.8" fill="#000"/>
<rect x="326.9" y="639.6" width="12.0" height="9.8" fill="#000"/>
<rect x="342.1" y="629.6" width="12.0" height="9.8" fill="#000"/>
<rect x="357.4" y="618.6" width="12.0" height="9.8" fill="#000"/>
<rect x="372.6" y="609.8" width="12.0" height="9.8" fill="#000"/>
<rect x="387.9" y="599.6" width="12.0" height="9.8" fill="#000"/>
<rect x="403.2" y="590.8" width="12.0" height="9.8" fill="#000"/>
<rect x="418.4" y="583.0" width="12.0" height="9.8" fill="#000"/>
<rect x="433.7" y="573.5" width="12.0" height="9.8" fill="#000"/>
<rect x="448.9" y="555.7" width="12.0" height="9.8" fill="#000"/>
<rect x="464.2" y="550.4" width="12.0" height="9.8" fill="#000"/>
<rect x="479.5" y="539.0" width="12.0" height="9.8" fill="#000"/>
<rect x="494.7" y="523.6" width="12.0" height="9.8" fill="#000"/>
<line x1="336.5" y1="467.1" x2="358.0" y2="467.1" stroke="#000" stroke-width="3"/>
<text x="370.0" y="475.4" font-size="19" textLength="63" lengthAdjust="spacingAndGlyphs" fill="#000">Control</text>
<line x1="336.5" y1="489.8" x2="358.0" y2="489.8" stroke="#000" stroke-width="3"/>
<rect x="342.6" y="486.2" width="9.2" height="7.6" fill="#000"/>
<text x="368.6" y="498.2" font-size="19" textLength="24.5" lengthAdjust="spacingAndGlyphs" fill="#000">E2</text>
<line x1="336.5" y1="509.8" x2="358.0" y2="509.8" stroke="#000" stroke-width="3"/>
<polygon points="340.8,520.3 357.2,520.3 349,503.2" fill="#000"/>
<text x="370.0" y="518.8" font-size="19" textLength="89.5" lengthAdjust="spacingAndGlyphs" fill="#000">Tamoxifen</text>
<text x="251.4" y="536.2" font-size="19" text-anchor="middle" textLength="45.5" lengthAdjust="spacingAndGlyphs" fill="#000">E2 or</text>
<text x="251.0" y="559.6" font-size="19" text-anchor="middle" textLength="81.5" lengthAdjust="spacingAndGlyphs" fill="#000">tamoxifen</text>
<text x="252.0" y="582.8" font-size="19" text-anchor="middle" textLength="43.5" lengthAdjust="spacingAndGlyphs" fill="#000">pellet</text>
<polygon points="249.7,599.3 256.7,599.3 256.7,632.4 264.1,632.4 253.2,655.1 242.2,632.4 249.7,632.4" fill="#ff0000"/>
<text x="503.6" y="458.8" font-size="35.5" text-anchor="middle" fill="#ff0000">§</text>
<text x="503.4" y="499.8" font-size="36" text-anchor="middle" fill="#ff0000">ǂ</text>
<line x1="692.7" y1="460.6" x2="692.7" y2="692.0" stroke="#000" stroke-width="2"/>
<line x1="684.4" y1="691.0" x2="1161.1" y2="691.0" stroke="#000" stroke-width="2"/>
<line x1="684.4" y1="691.0" x2="692.7" y2="691.0" stroke="#000" stroke-width="2"/>
<text x="683.0" y="692.0" font-size="20.8" text-anchor="end" textLength="11.9" lengthAdjust="spacingAndGlyphs" fill="#000">0</text>
<line x1="684.4" y1="645.1" x2="692.7" y2="645.1" stroke="#000" stroke-width="2"/>
<text x="682.2" y="654.0" font-size="20.8" text-anchor="end" textLength="35.7" lengthAdjust="spacingAndGlyphs" fill="#000">300</text>
<line x1="684.4" y1="599.2" x2="692.7" y2="599.2" stroke="#000" stroke-width="2"/>
<text x="682.2" y="607.7" font-size="20.8" text-anchor="end" textLength="35.7" lengthAdjust="spacingAndGlyphs" fill="#000">600</text>
<line x1="684.4" y1="553.2" x2="692.7" y2="553.2" stroke="#000" stroke-width="2"/>
<text x="682.2" y="561.4" font-size="20.8" text-anchor="end" textLength="35.7" lengthAdjust="spacingAndGlyphs" fill="#000">900</text>
<line x1="684.4" y1="507.3" x2="692.7" y2="507.3" stroke="#000" stroke-width="2"/>
<text x="682.2" y="515.3" font-size="20.8" text-anchor="end" textLength="47.6" lengthAdjust="spacingAndGlyphs" fill="#000">1200</text>
<line x1="684.4" y1="461.4" x2="692.7" y2="461.4" stroke="#000" stroke-width="2"/>
<text x="682.2" y="469.3" font-size="20.8" text-anchor="end" textLength="47.6" lengthAdjust="spacingAndGlyphs" fill="#000">1500</text>
<line x1="692.7" y1="690.0" x2="692.7" y2="697.0" stroke="#000" stroke-width="2"/>
<line x1="731.7" y1="690.0" x2="731.7" y2="694.8" stroke="#000" stroke-width="2"/>
<line x1="770.6" y1="690.0" x2="770.6" y2="697.0" stroke="#000" stroke-width="2"/>
<line x1="809.6" y1="690.0" x2="809.6" y2="694.8" stroke="#000" stroke-width="2"/>
<line x1="848.5" y1="690.0" x2="848.5" y2="697.0" stroke="#000" stroke-width="2"/>
<line x1="887.5" y1="690.0" x2="887.5" y2="694.8" stroke="#000" stroke-width="2"/>
<line x1="926.4" y1="690.0" x2="926.4" y2="697.0" stroke="#000" stroke-width="2"/>
<line x1="965.4" y1="690.0" x2="965.4" y2="694.8" stroke="#000" stroke-width="2"/>
<line x1="1004.3" y1="690.0" x2="1004.3" y2="697.0" stroke="#000" stroke-width="2"/>
<line x1="1043.2" y1="690.0" x2="1043.2" y2="694.8" stroke="#000" stroke-width="2"/>
<line x1="1082.2" y1="690.0" x2="1082.2" y2="697.0" stroke="#000" stroke-width="2"/>
<line x1="1121.2" y1="690.0" x2="1121.2" y2="694.8" stroke="#000" stroke-width="2"/>
<line x1="1160.1" y1="690.0" x2="1160.1" y2="697.0" stroke="#000" stroke-width="2"/>
<text x="691.7" y="721.0" font-size="21.3" text-anchor="middle" textLength="13.0" lengthAdjust="spacingAndGlyphs" fill="#000">0</text>
<text x="769.6" y="721.0" font-size="21.3" text-anchor="middle" textLength="26.0" lengthAdjust="spacingAndGlyphs" fill="#000">10</text>
<text x="847.5" y="721.0" font-size="21.3" text-anchor="middle" textLength="26.0" lengthAdjust="spacingAndGlyphs" fill="#000">20</text>
<text x="925.4" y="721.0" font-size="21.3" text-anchor="middle" textLength="26.0" lengthAdjust="spacingAndGlyphs" fill="#000">30</text>
<text x="1003.3" y="721.0" font-size="21.3" text-anchor="middle" textLength="26.0" lengthAdjust="spacingAndGlyphs" fill="#000">40</text>
<text x="1081.2" y="721.0" font-size="21.3" text-anchor="middle" textLength="26.0" lengthAdjust="spacingAndGlyphs" fill="#000">50</text>
<text x="1159.1" y="721.0" font-size="21.3" text-anchor="middle" textLength="26.0" lengthAdjust="spacingAndGlyphs" fill="#000">60</text>
<text x="853.3" y="751.8" font-size="20.8" textLength="208.0" lengthAdjust="spacingAndGlyphs" fill="#000">Days after transplant</text>
<text transform="translate(630.5,681.5) rotate(-90)" font-size="21" textLength="200.5" lengthAdjust="spacingAndGlyphs">Tumor Volume (mm<tspan font-size="13.5" dy="-7.5">3</tspan><tspan dy="7.5">)</tspan></text>
<text x="700.5" y="447.7" font-size="29.5" textLength="116.0" lengthAdjust="spacingAndGlyphs" fill="#000">mCol1a1</text>
<polyline points="770.6,690.8 786.2,689.5 801.8,689.3 817.3,689.4 832.9,689.2 848.6,688.7 864.0,687.5 880.3,685.6 895.0,682.5 911.9,678.2 926.7,674.0 941.4,669.1 957.7,668.0 973.0,663.0 989.1,658.8 1004.0,655.1 1020.6,647.7 1035.4,644.7 1052.0,640.3 1066.8,634.8 1081.6,632.9 1098.2,627.4 1113.0,623.7" fill="none" stroke="#000" stroke-width="2" stroke-linejoin="round"/>
<polyline points="770.6,690.8 786.2,685.6 801.8,685.1 817.3,685.6 832.9,684.1 848.5,676.7 864.1,675.0 879.7,669.1 895.2,668.7 910.8,662.4 926.4,662.4 942.0,655.1 957.6,642.1 973.1,642.1 988.7,642.1 1004.3,634.0 1019.9,632.9 1035.5,629.2 1051.0,612.6 1066.6,594.1 1082.2,581.1 1097.8,568.2 1113.4,538.6" fill="none" stroke="#000" stroke-width="1.8" stroke-linejoin="round"/>
<path d="M910.8,654.4 V670.4 M905.1,654.4 H916.6 M905.1,670.4 H916.6" stroke="#000" stroke-width="1.9" fill="none"/>
<path d="M926.4,656.4 V668.4 M920.7,656.4 H932.2 M920.7,668.4 H932.2" stroke="#000" stroke-width="1.9" fill="none"/>
<path d="M942.0,649.1 V661.1 M936.2,649.1 H947.7 M936.2,661.1 H947.7" stroke="#000" stroke-width="1.9" fill="none"/>
<path d="M957.6,638.1 V646.1 M951.8,638.1 H963.3 M951.8,646.1 H963.3" stroke="#000" stroke-width="1.9" fill="none"/>
<path d="M973.1,638.1 V646.1 M967.4,638.1 H978.9 M967.4,646.1 H978.9" stroke="#000" stroke-width="1.9" fill="none"/>
<path d="M988.7,638.1 V646.1 M983.0,638.1 H994.5 M983.0,646.1 H994.5" stroke="#000" stroke-width="1.9" fill="none"/>
<path d="M1004.3,626.6 V641.4 M998.6,626.6 H1010.1 M998.6,641.4 H1010.1" stroke="#000" stroke-width="1.9" fill="none"/>
<path d="M1019.9,625.5 V640.3 M1014.1,625.5 H1025.6 M1014.1,640.3 H1025.6" stroke="#000" stroke-width="1.9" fill="none"/>
<path d="M1035.5,624.5 V633.9 M1029.7,624.5 H1041.2 M1029.7,633.9 H1041.2" stroke="#000" stroke-width="1.9" fill="none"/>
<path d="M1051.0,605.2 V620.0 M1045.3,605.2 H1056.8 M1045.3,620.0 H1056.8" stroke="#000" stroke-width="1.9" fill="none"/>
<path d="M1066.6,585.7 V602.5 M1060.9,585.7 H1072.4 M1060.9,602.5 H1072.4" stroke="#000" stroke-width="1.9" fill="none"/>
<path d="M1082.2,572.8 V589.4 M1076.5,572.8 H1088.0 M1076.5,589.4 H1088.0" stroke="#000" stroke-width="1.9" fill="none"/>
<path d="M1097.8,557.2 V579.2 M1092.0,557.2 H1103.5 M1092.0,579.2 H1103.5" stroke="#000" stroke-width="1.9" fill="none"/>
<path d="M1113.4,531.7 V545.5 M1107.6,531.7 H1119.1 M1107.6,545.5 H1119.1" stroke="#000" stroke-width="1.9" fill="none"/>
<polygon points="842.2,681.2 854.8,681.2 848.5,671.2" fill="#000"/>
<polygon points="857.8,679.5 870.3,679.5 864.1,669.5" fill="#000"/>
<polygon points="873.4,673.6 885.9,673.6 879.7,663.6" fill="#000"/>
<polygon points="889.0,673.2 901.5,673.2 895.2,663.2" fill="#000"/>
<polygon points="904.6,666.9 917.1,666.9 910.8,656.9" fill="#000"/>
<polygon points="920.2,666.9 932.7,666.9 926.4,656.9" fill="#000"/>
<polygon points="935.7,659.6 948.2,659.6 942.0,649.6" fill="#000"/>
<polygon points="951.3,646.6 963.8,646.6 957.6,636.6" fill="#000"/>
<polygon points="966.9,646.6 979.4,646.6 973.1,636.6" fill="#000"/>
<polygon points="982.5,646.6 995.0,646.6 988.7,636.6" fill="#000"/>
<polygon points="998.1,638.5 1010.6,638.5 1004.3,628.5" fill="#000"/>
<polygon points="1013.6,637.4 1026.1,637.4 1019.9,627.4" fill="#000"/>
<polygon points="1029.2,633.7 1041.7,633.7 1035.5,623.7" fill="#000"/>
<polygon points="1044.8,617.1 1057.3,617.1 1051.0,607.1" fill="#000"/>
<polygon points="1060.4,598.6 1072.9,598.6 1066.6,588.6" fill="#000"/>
<polygon points="1076.0,585.6 1088.5,585.6 1082.2,575.6" fill="#000"/>
<polygon points="1091.5,572.7 1104.0,572.7 1097.8,562.7" fill="#000"/>
<polygon points="1107.1,543.1 1119.6,543.1 1113.4,533.1" fill="#000"/>
<polyline points="770.6,690.8 786.2,685.6 801.8,685.1 817.3,685.6 832.9,684.1 848.5,681.8 864.1,679.2 879.7,670.8 895.2,669.1 910.8,659.2 926.4,653.9 942.0,645.6 957.6,626.0 973.1,626.2 988.7,620.0 1004.3,618.9 1019.9,605.2 1035.5,590.4 1051.0,579.3 1066.6,557.1 1082.2,545.3 1097.8,530.1 1113.4,516.5" fill="none" stroke="#000" stroke-width="1.8" stroke-linejoin="round"/>
<path d="M910.8,651.2 V667.2 M905.1,651.2 H916.6 M905.1,667.2 H916.6" stroke="#000" stroke-width="1.9" fill="none"/>
<path d="M926.4,645.5 V662.3 M920.7,645.5 H932.2 M920.7,662.3 H932.2" stroke="#000" stroke-width="1.9" fill="none"/>
<path d="M942.0,637.6 V653.6 M936.2,637.6 H947.7 M936.2,653.6 H947.7" stroke="#000" stroke-width="1.9" fill="none"/>
<path d="M957.6,621.0 V631.0 M951.8,621.0 H963.3 M951.8,631.0 H963.3" stroke="#000" stroke-width="1.9" fill="none"/>
<path d="M973.1,620.2 V632.2 M967.4,620.2 H978.9 M967.4,632.2 H978.9" stroke="#000" stroke-width="1.9" fill="none"/>
<path d="M988.7,613.0 V627.0 M983.0,613.0 H994.5 M983.0,627.0 H994.5" stroke="#000" stroke-width="1.9" fill="none"/>
<path d="M1004.3,612.9 V624.9 M998.6,612.9 H1010.1 M998.6,624.9 H1010.1" stroke="#000" stroke-width="1.9" fill="none"/>
<path d="M1019.9,599.7 V610.7 M1014.1,599.7 H1025.6 M1014.1,610.7 H1025.6" stroke="#000" stroke-width="1.9" fill="none"/>
<path d="M1035.5,585.4 V595.4 M1029.7,585.4 H1041.2 M1029.7,595.4 H1041.2" stroke="#000" stroke-width="1.9" fill="none"/>
<path d="M1051.0,572.8 V585.8 M1045.3,572.8 H1056.8 M1045.3,585.8 H1056.8" stroke="#000" stroke-width="1.9" fill="none"/>
<path d="M1066.6,547.1 V567.1 M1060.9,547.1 H1072.4 M1060.9,567.1 H1072.4" stroke="#000" stroke-width="1.9" fill="none"/>
<path d="M1082.2,533.3 V557.3 M1076.5,533.3 H1088.0 M1076.5,557.3 H1088.0" stroke="#000" stroke-width="1.9" fill="none"/>
<path d="M1097.8,520.1 V540.1 M1092.0,520.1 H1103.5 M1092.0,540.1 H1103.5" stroke="#000" stroke-width="1.9" fill="none"/>
<path d="M1113.4,510.0 V523.0 M1107.6,510.0 H1119.1 M1107.6,523.0 H1119.1" stroke="#000" stroke-width="1.9" fill="none"/>
<rect x="764.6" y="685.9" width="12.0" height="9.8" fill="#000"/>
<rect x="780.2" y="680.7" width="12.0" height="9.8" fill="#000"/>
<rect x="795.8" y="680.2" width="12.0" height="9.8" fill="#000"/>
<rect x="811.3" y="680.7" width="12.0" height="9.8" fill="#000"/>
<rect x="826.9" y="679.2" width="12.0" height="9.8" fill="#000"/>
<rect x="842.5" y="676.9" width="12.0" height="9.8" fill="#000"/>
<rect x="858.1" y="674.3" width="12.0" height="9.8" fill="#000"/>
<rect x="873.7" y="665.9" width="12.0" height="9.8" fill="#000"/>
<rect x="889.2" y="664.2" width="12.0" height="9.8" fill="#000"/>
<rect x="904.8" y="654.3" width="12.0" height="9.8" fill="#000"/>
<rect x="920.4" y="649.0" width="12.0" height="9.8" fill="#000"/>
<rect x="936.0" y="640.7" width="12.0" height="9.8" fill="#000"/>
<rect x="951.6" y="621.1" width="12.0" height="9.8" fill="#000"/>
<rect x="967.1" y="621.3" width="12.0" height="9.8" fill="#000"/>
<rect x="982.7" y="615.1" width="12.0" height="9.8" fill="#000"/>
<rect x="998.3" y="614.0" width="12.0" height="9.8" fill="#000"/>
<rect x="1013.9" y="600.3" width="12.0" height="9.8" fill="#000"/>
<rect x="1029.5" y="585.5" width="12.0" height="9.8" fill="#000"/>
<rect x="1045.0" y="574.4" width="12.0" height="9.8" fill="#000"/>
<rect x="1060.6" y="552.2" width="12.0" height="9.8" fill="#000"/>
<rect x="1076.2" y="540.4" width="12.0" height="9.8" fill="#000"/>
<rect x="1091.8" y="525.2" width="12.0" height="9.8" fill="#000"/>
<rect x="1107.4" y="511.6" width="12.0" height="9.8" fill="#000"/>
<line x1="944.0" y1="462.1" x2="964.0" y2="462.1" stroke="#000" stroke-width="3"/>
<text x="976.0" y="471.0" font-size="19.5" textLength="62" lengthAdjust="spacingAndGlyphs" fill="#000">Control</text>
<line x1="944.0" y1="485.0" x2="964.0" y2="485.0" stroke="#000" stroke-width="3"/>
<rect x="950.3" y="481.3" width="9.3" height="8.2" fill="#000"/>
<text x="976.0" y="493.5" font-size="19.5" textLength="23.5" lengthAdjust="spacingAndGlyphs" fill="#000">E2</text>
<line x1="944.0" y1="507.0" x2="964.0" y2="507.0" stroke="#000" stroke-width="3"/>
<polygon points="946.6,512.8 965.1,512.8 955.8,501.7" fill="#000"/>
<text x="976.0" y="512.8" font-size="19.5" textLength="88" lengthAdjust="spacingAndGlyphs" fill="#000">Tamoxifen</text>
<text x="865.0" y="530.0" font-size="19" text-anchor="middle" textLength="45.5" lengthAdjust="spacingAndGlyphs" fill="#000">E2 or</text>
<text x="864.5" y="553.7" font-size="19" text-anchor="middle" textLength="82.5" lengthAdjust="spacingAndGlyphs" fill="#000">tamoxifen</text>
<text x="865.5" y="577.6" font-size="19" text-anchor="middle" textLength="44.5" lengthAdjust="spacingAndGlyphs" fill="#000">pellet</text>
<polygon points="861.7,593.8 869.3,593.8 869.3,626.9 876.7,626.9 865.5,649.7 853.5,626.9 861.7,626.9" fill="#ff0000"/>
<text x="1115.3" y="421.0" font-size="34.5" text-anchor="middle" fill="#ff0000">†</text>
<text x="1115.8" y="461.4" font-size="34" text-anchor="middle" fill="#ff0000">§</text>
<text x="1116.4" y="495.2" font-size="36" text-anchor="middle" fill="#ff0000">ǂ</text>
<rect x="1348.4" y="591.0" width="39.1" height="88.1" fill="#440650"/>
<path d="M1368.0,591.0 V585.8 M1358.5,585.8 H1377.5" stroke="#000" stroke-width="2.2" fill="none"/>
<rect x="1396.8" y="488.7" width="38.7" height="190.4" fill="#0000cc"/>
<path d="M1416.2,488.7 V477.0 M1406.7,477.0 H1425.7" stroke="#000" stroke-width="2.2" fill="none"/>
<rect x="1444.8" y="608.1" width="38.8" height="71.0" fill="#a0004b"/>
<path d="M1464.2,608.1 V600.5 M1454.7,600.5 H1473.7" stroke="#000" stroke-width="2.2" fill="none"/>
<rect x="1531.4" y="568.2" width="39.6" height="110.9" fill="#440650"/>
<rect x="1532.9" y="569.7" width="36.6" height="109.4" fill="url(#hatch)"/>
<path d="M1551.2,568.2 V563.0 M1541.7,563.0 H1560.7" stroke="#000" stroke-width="2.2" fill="none"/>
<rect x="1579.7" y="487.9" width="39.6" height="191.2" fill="#0000cc"/>
<rect x="1581.2" y="489.4" width="36.6" height="189.7" fill="url(#hatch)"/>
<path d="M1599.5,487.9 V482.3 M1590.0,482.3 H1609.0" stroke="#000" stroke-width="2.2" fill="none"/>
<rect x="1627.6" y="495.8" width="39.2" height="183.3" fill="#a0004b"/>
<rect x="1629.1" y="497.3" width="36.2" height="181.8" fill="url(#hatch)"/>
<path d="M1647.2,495.8 V484.7 M1637.7,484.7 H1656.7" stroke="#000" stroke-width="2.2" fill="none"/>
<line x1="1328.5" y1="466.0" x2="1328.5" y2="680.0" stroke="#000" stroke-width="2"/>
<line x1="1321.4" y1="679.1" x2="1688.0" y2="679.1" stroke="#000" stroke-width="2"/>
<line x1="1321.4" y1="679.1" x2="1328.5" y2="679.1" stroke="#000" stroke-width="2"/>
<text x="1312.2" y="687.3" font-size="25.8" text-anchor="end" textLength="15.6" lengthAdjust="spacingAndGlyphs" fill="#000">0</text>
<line x1="1321.4" y1="636.6" x2="1328.5" y2="636.6" stroke="#000" stroke-width="2"/>
<text x="1312.2" y="644.9" font-size="25.8" text-anchor="end" textLength="31.2" lengthAdjust="spacingAndGlyphs" fill="#000">10</text>
<line x1="1321.4" y1="594.2" x2="1328.5" y2="594.2" stroke="#000" stroke-width="2"/>
<text x="1312.2" y="602.4" font-size="25.8" text-anchor="end" textLength="31.2" lengthAdjust="spacingAndGlyphs" fill="#000">20</text>
<line x1="1321.4" y1="551.8" x2="1328.5" y2="551.8" stroke="#000" stroke-width="2"/>
<text x="1312.2" y="560.0" font-size="25.8" text-anchor="end" textLength="31.2" lengthAdjust="spacingAndGlyphs" fill="#000">30</text>
<line x1="1321.4" y1="509.3" x2="1328.5" y2="509.3" stroke="#000" stroke-width="2"/>
<text x="1312.2" y="517.5" font-size="25.8" text-anchor="end" textLength="31.2" lengthAdjust="spacingAndGlyphs" fill="#000">40</text>
<line x1="1321.4" y1="466.9" x2="1328.5" y2="466.9" stroke="#000" stroke-width="2"/>
<text x="1312.2" y="475.1" font-size="25.8" text-anchor="end" textLength="31.2" lengthAdjust="spacingAndGlyphs" fill="#000">50</text>
<text transform="translate(1268.2,652.6) rotate(-90)" font-size="26.5" textLength="194" lengthAdjust="spacingAndGlyphs">Ki-67 + cells (%)</text>
<text x="1369.3" y="578.5" font-size="26" text-anchor="middle" fill="#000">a</text>
<text x="1419.5" y="472.3" font-size="26" text-anchor="middle" fill="#000">b</text>
<text x="1464.8" y="595.8" font-size="26" text-anchor="middle" fill="#000">a</text>
<text x="1551.0" y="552.4" font-size="26" text-anchor="middle" fill="#000">A</text>
<text x="1600.6" y="473.2" font-size="26" text-anchor="middle" fill="#000">B</text>
<text x="1650.5" y="481.1" font-size="26" text-anchor="middle" fill="#000">B</text>
<rect x="1347.4" y="691.0" width="127.0" height="7.0" fill="#000"/>
<rect x="1532.8" y="691.0" width="127.0" height="7.0" fill="#000"/>
<text x="1397.0" y="732.0" font-size="26" textLength="44" lengthAdjust="spacingAndGlyphs" fill="#000">WT</text>
<text x="1541.5" y="732.0" font-size="26" textLength="105.5" lengthAdjust="spacingAndGlyphs" fill="#000">mCol1a1</text>
<rect x="1472.5" y="430.7" width="180.5" height="3.5" fill="#000"/>
<text x="1549.2" y="443.7" font-size="45" text-anchor="middle" textLength="72.5" lengthAdjust="spacingAndGlyphs" fill="#000" stroke="#000" stroke-width="0.5">****</text>
<rect x="1699.2" y="517.4" width="20.9" height="20.9" fill="#42004e"/>
<rect x="1699.2" y="543.9" width="20.9" height="20.7" fill="#000080"/>
<rect x="1699.2" y="570.6" width="20.9" height="20.7" fill="#a0004b"/>
<text x="1732.3" y="531.9" font-size="25" textLength="80.5" lengthAdjust="spacingAndGlyphs" fill="#000">Control</text>
<text x="1732.3" y="558.3" font-size="25" textLength="30.5" lengthAdjust="spacingAndGlyphs" fill="#000">E2</text>
<text x="1732.3" y="585.1" font-size="25" textLength="114" lengthAdjust="spacingAndGlyphs" fill="#000">Tamoxifen</text>
</svg>
</body></html>
